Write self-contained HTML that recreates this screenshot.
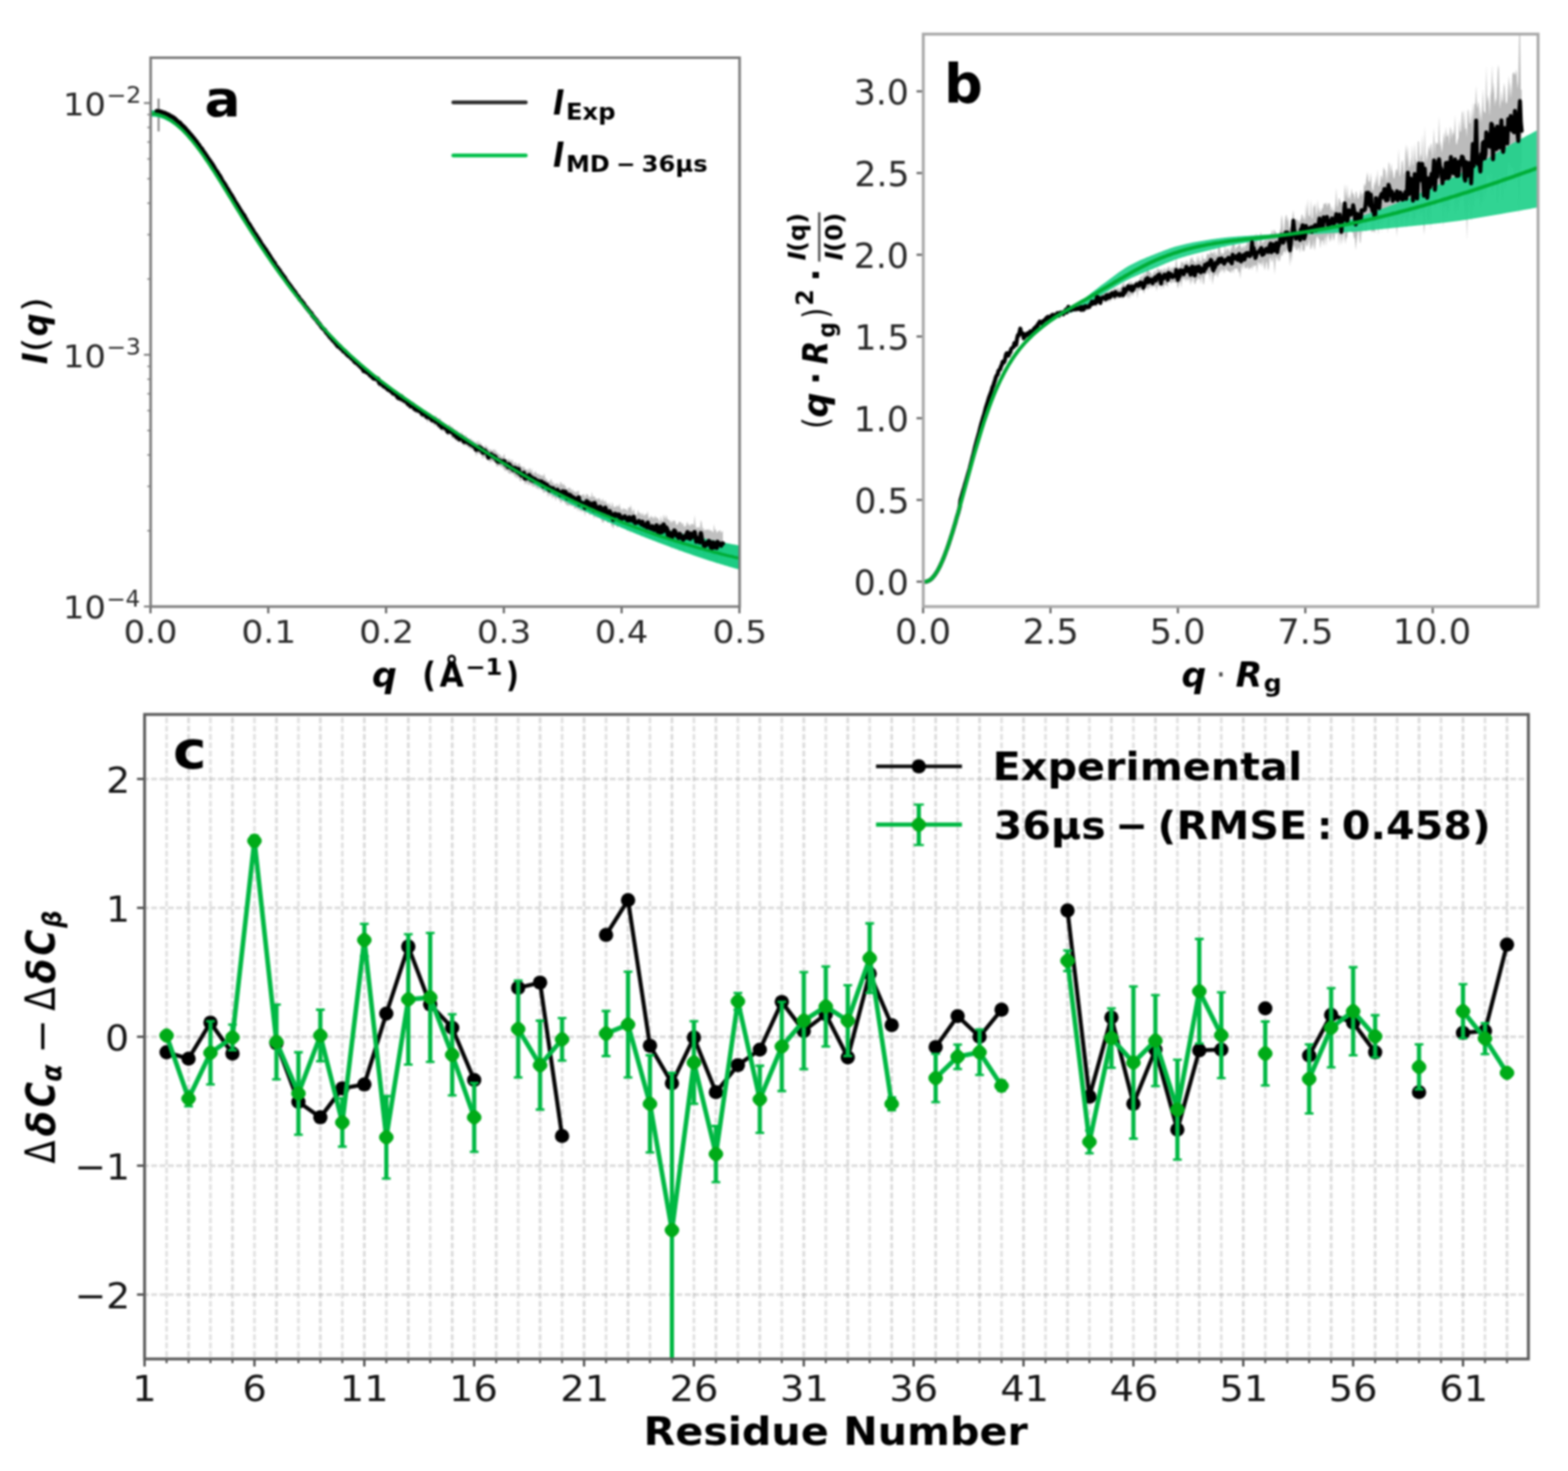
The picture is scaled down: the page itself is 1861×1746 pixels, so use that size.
<!DOCTYPE html>
<html lang="en"><head><meta charset="utf-8"><title>SAXS and NMR comparison</title>
<style>
html,body{margin:0;padding:0;background:#fff;}
body{width:1861px;height:1746px;overflow:hidden;}
svg{display:block;font-family:"DejaVu Sans","Liberation Sans",sans-serif;}
</style></head><body>
<svg width="1861" height="1746" viewBox="0 0 1861 1746">
<defs><filter id="soft" x="0" y="0" width="1861" height="1746" filterUnits="userSpaceOnUse" color-interpolation-filters="sRGB"><feGaussianBlur stdDeviation="1.25"/></filter></defs>
<rect width="1861" height="1746" fill="#fff"/>
<g filter="url(#soft)">
<rect width="1861" height="1746" fill="#fff"/>
<g id="panelA">
<clipPath id="clipA"><rect x="178.8" y="68.5" width="699.0" height="651.5"/></clipPath>
<g clip-path="url(#clipA)">
<path d="M186 130 L187.1 130.3 L188.1 130.5 L189.2 130.6 L190.2 131 L191.3 131.3 L192.3 131.9 L193.4 132.3 L194.4 132.7 L195.5 133 L196.5 133.6 L197.6 134 L198.6 134.5 L199.7 134.8 L200.7 135.6 L201.8 136.3 L202.8 136.6 L203.9 137.4 L204.9 137.8 L206 138.6 L207 139.2 L208.1 140.4 L209.1 141 L210.2 142.1 L211.2 143 L212.3 144.1 L213.3 144.3 L214.4 145.5 L215.4 146.9 L216.5 147.9 L217.5 148.6 L218.6 149.8 L219.6 150.7 L220.7 151.7 L221.7 153.1 L222.8 154.3 L223.8 155.5 L224.9 156.9 L225.9 158 L227 159.2 L228 160.5 L229.1 161.8 L230.1 162.7 L231.2 164.4 L232.2 165.7 L233.3 166.7 L234.3 168.6 L235.4 169.8 L236.4 171.2 L237.5 172.8 L238.5 174.1 L239.6 175.1 L240.6 176.9 L241.7 178.6 L242.7 179.6 L243.8 181.5 L244.8 183.2 L245.9 184.6 L246.9 185.8 L248 187.8 L249 189.4 L250.1 190.7 L251.1 192.6 L252.2 193.8 L253.2 195.5 L254.3 196.9 L255.3 198.7 L256.4 200.7 L257.4 202 L258.5 203.2 L259.5 205.6 L260.6 206.9 L261.6 208.8 L262.7 210.6 L263.7 212.5 L264.8 213.7 L265.8 215.8 L266.9 217.3 L267.9 219.2 L269 220.9 L270 222.7 L271.1 223.6 L272.1 225.8 L273.2 227.9 L274.2 229.3 L275.3 230.4 L276.3 233.1 L277.4 234.1 L278.4 236.3 L279.5 237.9 L280.5 239.9 L281.6 241.8 L282.6 242.8 L283.7 245.2 L284.7 246.4 L285.8 248.6 L286.8 250.1 L287.9 252.1 L288.9 253.4 L290 254.6 L291 256.8 L292.1 258 L293.1 260.7 L294.2 261.6 L295.2 263.1 L296.3 264.9 L297.3 267.1 L298.4 268.8 L299.4 270.1 L300.5 272.3 L301.5 274 L302.6 275.6 L303.6 277 L304.7 278.7 L305.7 280.6 L306.8 281.4 L307.8 283.7 L308.9 284.2 L309.9 287.1 L311 288.6 L312 290.1 L313.1 291.4 L314.1 292.9 L315.2 294.3 L316.2 295.7 L317.3 298.2 L318.3 299.1 L319.4 300.7 L320.4 302.2 L321.5 304.6 L322.5 305.7 L323.6 306.9 L324.6 308.3 L325.7 310 L326.7 312.1 L327.8 313.6 L328.8 315.2 L329.9 316.2 L330.9 317.6 L332 319.3 L333 321.4 L334.1 322.7 L335.1 324.3 L336.2 325.3 L337.2 326.1 L338.3 328.4 L339.3 329.8 L340.4 331.7 L341.4 333.4 L342.5 334.9 L343.5 335.3 L344.6 337.7 L345.6 338.3 L346.7 340.4 L347.7 341.7 L348.8 342.9 L349.8 344.4 L350.9 345.8 L351.9 346.8 L353 349 L354 350.4 L355.1 352.1 L356.1 353.6 L357.2 354.3 L358.2 356.3 L359.3 356.8 L360.3 358.3 L361.4 360.4 L362.4 361.7 L363.5 362.4 L364.5 364.3 L365.6 365.9 L366.6 367.1 L367.7 367.7 L368.7 368.5 L369.8 370.8 L370.8 371.9 L371.9 372.8 L372.9 375.2 L374 376.7 L375 377.3 L376.1 379 L377.1 380.1 L378.2 381.4 L379.2 382.6 L380.3 384.4 L381.3 385 L382.4 385 L383.4 387.5 L384.5 388.9 L385.5 389.4 L386.6 391.4 L387.6 392.3 L388.7 394.1 L389.7 395.7 L390.8 396.1 L391.8 397.4 L392.9 398.9 L393.9 398.7 L395 400.5 L396 402.1 L397.1 403.8 L398.1 404.9 L399.2 404.7 L400.2 406.9 L401.3 407.6 L402.3 408.5 L403.4 409.3 L404.4 410.7 L405.5 411.5 L406.5 412.8 L407.6 413.5 L408.6 414 L409.7 413.8 L410.7 417.2 L411.8 417.5 L412.8 418.9 L413.9 419.6 L414.9 420.4 L416 421.2 L417 420.8 L418.1 423 L419.1 423.6 L420.2 426.1 L421.2 426.8 L422.3 427 L423.3 428 L424.4 427.7 L425.4 429.8 L426.5 431 L427.5 432.5 L428.6 431.8 L429.6 434.1 L430.7 434.5 L431.7 435.2 L432.8 435.6 L433.8 435.9 L434.9 438.1 L435.9 439.4 L437 439.3 L438 439 L439.1 441.3 L440.1 442.9 L441.2 443.4 L442.2 443.8 L443.3 445.1 L444.3 446 L445.4 445.2 L446.4 446.9 L447.5 446.9 L448.5 445.5 L449.6 449.3 L450.6 450.3 L451.7 451 L452.7 451.5 L453.8 451.8 L454.8 453.2 L455.9 454.9 L456.9 454.7 L458 455.4 L459 454.9 L460.1 456 L461.1 458.7 L462.2 458.9 L463.2 459.5 L464.3 461.1 L465.3 459.8 L466.4 461.2 L467.4 461.4 L468.5 463.7 L469.5 463.3 L470.6 464.3 L471.6 465.6 L472.7 466.8 L473.7 466.9 L474.8 468.6 L475.8 468.7 L476.9 467.1 L477.9 467.8 L479 470.4 L480 471.4 L481.1 471.7 L482.1 473 L483.2 472.8 L484.2 474.5 L485.3 474.9 L486.3 476.2 L487.4 475.7 L488.4 475.9 L489.5 476.5 L490.5 476.5 L491.6 478.5 L492.6 479 L493.7 481.2 L494.7 480.3 L495.8 482.3 L496.8 482.2 L497.9 482.3 L498.9 483.9 L500 484.9 L501 485.2 L502.1 486 L503.1 487.1 L504.2 487.6 L505.2 487.3 L506.3 488.9 L507.3 490.2 L508.4 490.9 L509.4 490.5 L510.5 490.4 L511.5 491 L512.6 493.4 L513.6 492.9 L514.7 492.9 L515.7 494.5 L516.8 493 L517.8 494.1 L518.9 495.8 L519.9 496.9 L521 496.3 L522 496.6 L523.1 497.5 L524.1 499.7 L525.2 500.8 L526.2 500.5 L527.3 502 L528.3 503.7 L529.4 502.6 L530.4 504.1 L531.5 505.7 L532.5 504.8 L533.6 503.2 L534.6 505.5 L535.7 506.8 L536.7 506.1 L537.8 507.7 L538.8 509 L539.9 509.7 L540.9 510.2 L542 510.9 L543 510.4 L544.1 513.6 L545.1 513.5 L546.2 513.2 L547.2 514.6 L548.3 512.5 L549.3 516.5 L550.4 517.4 L551.4 517.2 L552.5 516 L553.5 517.4 L554.6 518.7 L555.6 520.4 L556.7 521 L557.7 520.3 L558.8 520.7 L559.8 522.1 L560.9 522.8 L561.9 522.9 L563 524.3 L564 524.9 L565.1 525.5 L566.1 523.1 L567.2 526.8 L568.2 522.4 L569.3 526.9 L570.3 525.5 L571.4 526.5 L572.4 529.7 L573.5 531 L574.5 531.6 L575.6 529.1 L576.6 528.1 L577.7 531.8 L578.7 529.6 L579.8 533.7 L580.8 533.6 L581.9 533 L582.9 533.6 L584 535.6 L585 534 L586.1 532.4 L587.1 535.9 L588.2 533 L589.2 537.5 L590.3 536.8 L591.3 538.5 L592.4 539.6 L593.4 539 L594.5 541.8 L595.5 541.7 L596.6 542.8 L597.6 540.8 L598.7 538.3 L599.7 544.9 L600.8 545.7 L601.8 544.5 L602.9 545.9 L603.9 544.8 L605 544.5 L606 548.7 L607.1 545.7 L608.1 545.3 L609.2 550 L610.2 549.3 L611.3 549.1 L612.3 548.5 L613.4 552.3 L614.4 550.4 L615.5 550.8 L616.5 549.2 L617.6 552.6 L618.6 553.3 L619.7 554.3 L620.7 555.3 L621.8 553.1 L622.8 556.1 L623.9 557 L624.9 557.1 L626 557.2 L627 559.4 L628.1 555.3 L629.1 556.3 L630.2 560.2 L631.2 555.4 L632.3 561.2 L633.3 562 L634.4 561.1 L635.4 558.7 L636.5 561.2 L637.5 562.5 L638.6 563 L639.6 562.1 L640.7 564.4 L641.7 563.3 L642.8 565 L643.8 564.1 L644.9 565.6 L645.9 561.3 L647 566.8 L648 568.8 L649.1 568.5 L650.1 571.3 L651.2 570.9 L652.2 572.1 L653.3 569.5 L654.3 568.3 L655.4 573.9 L656.4 571.2 L657.5 574.8 L658.5 575 L659.6 573.7 L660.6 574.9 L661.7 572.8 L662.7 575.8 L663.8 576.2 L664.8 573.1 L665.9 571.5 L666.9 575 L668 575.4 L669 573.7 L670.1 576.7 L671.1 576.2 L672.2 580 L673.2 580.6 L674.3 579.3 L675.3 578.4 L676.4 579.2 L677.4 580 L678.5 583.1 L679.5 579.9 L680.6 583 L681.6 583.2 L682.7 584.2 L683.7 583.6 L684.8 584 L685.8 582.7 L686.9 582 L687.9 588 L689 588.2 L690 588.1 L691.1 587.3 L692.1 586.8 L693.2 586.5 L694.2 590.6 L695.3 587.7 L696.3 585.9 L697.4 586.8 L698.4 588.2 L699.5 590.7 L700.5 589.8 L701.6 589.5 L702.6 583.6 L703.7 590.5 L704.7 588.9 L705.8 589.1 L706.8 592 L707.9 591.7 L708.9 592.3 L710 592.4 L711 590.5 L712.1 592.6 L713.1 594.5 L714.2 595 L715.2 591.3 L716.3 594.6 L717.3 596.4 L718.4 593.3 L719.4 596 L720.5 598.2 L721.5 597.3 L722.6 600.6 L723.6 595.7 L724.7 600.7 L725.7 601.7 L726.8 595.4 L727.8 600.2 L728.9 602.8 L729.9 601 L731 601.9 L732 599.4 L733.1 600.7 L734.1 601.7 L735.2 597.4 L736.2 602.7 L737.3 604.2 L738.3 606.1 L739.4 603.1 L740.4 603.7 L741.5 604.1 L742.5 604.7 L743.6 604.4 L744.6 607.4 L745.7 602.8 L746.7 601.5 L747.8 603.3 L748.8 598.9 L749.9 606.2 L750.9 608.2 L752 603.4 L753 607 L754.1 610.9 L755.1 611 L756.2 610.1 L757.2 604.5 L758.3 608.8 L759.3 608.4 L760.4 609.4 L761.4 612.3 L762.5 608.1 L763.5 610.7 L764.6 612.5 L765.6 611 L766.7 609.4 L767.7 611.2 L768.8 606.3 L769.8 615.1 L770.9 615.3 L771.9 613.4 L773 611.8 L774 614.4 L775.1 614 L776.1 616 L777.2 611.6 L778.2 614.8 L779.3 613.7 L780.3 615.3 L781.4 615.3 L782.4 618.7 L783.5 618.5 L784.5 612.1 L785.6 618.3 L786.6 619.2 L787.7 610.5 L788.7 613.7 L789.8 616.5 L790.8 610.8 L791.9 615.4 L792.9 616.5 L794 617.5 L795 617.5 L796.1 621.5 L797.1 617.2 L798.2 620.5 L799.2 617.8 L800.3 618 L801.3 618 L802.4 622.6 L803.4 623.1 L804.5 622 L805.5 620.3 L806.6 618.8 L807.6 620 L808.7 620.3 L809.7 623.1 L810.8 620.2 L811.8 625.5 L812.9 624.4 L813.9 625 L815 620.4 L816 619.5 L817.1 623.7 L818.1 622 L819.2 625.1 L820.2 621.7 L821.3 622 L822.3 622 L823.4 623.8 L824.4 611.3 L825.5 623.3 L826.5 627.3 L827.6 625.5 L828.6 627 L829.7 624.6 L830.7 628 L831.8 617.2 L832.8 619.8 L833.9 628.7 L834.9 625.9 L836 629.9 L837 629.4 L838.1 628.5 L839.1 628.3 L840.2 629.7 L841.2 627 L842.3 630.6 L843.3 629.1 L844.4 629.8 L845.4 631.2 L846.5 632 L847.5 621.7 L848.6 630.2 L849.6 627.7 L850.7 633.1 L851.7 630.9 L852.8 630.4 L853.8 630 L854.9 629 L855.9 632.8 L857 630.6 L858 631 L858 665.7 L857 657.1 L855.9 663.8 L854.9 658.6 L853.8 657.6 L852.8 656.5 L851.7 657.2 L850.7 669.5 L849.6 656.8 L848.6 661.9 L847.5 660.9 L846.5 662.7 L845.4 658.1 L844.4 662.3 L843.3 659.4 L842.3 654.1 L841.2 655.6 L840.2 659.8 L839.1 655.8 L838.1 656 L837 658.5 L836 659.2 L834.9 659.2 L833.9 653.7 L832.8 652 L831.8 651.7 L830.7 654.6 L829.7 654 L828.6 652.7 L827.6 657.7 L826.5 656.7 L825.5 650.9 L824.4 655.2 L823.4 654.4 L822.3 650.7 L821.3 650.9 L820.2 650.8 L819.2 657.9 L818.1 649.3 L817.1 648.4 L816 651.2 L815 648.3 L813.9 650 L812.9 649.2 L811.8 655 L810.8 652.4 L809.7 649.5 L808.7 651.4 L807.6 648.6 L806.6 645.6 L805.5 655.6 L804.5 646.1 L803.4 648.1 L802.4 649.1 L801.3 644.5 L800.3 650.4 L799.2 643.7 L798.2 643.7 L797.1 651.9 L796.1 647.8 L795 648.3 L794 643.1 L792.9 647.8 L791.9 641.4 L790.8 641.1 L789.8 641.4 L788.7 641.4 L787.7 641.9 L786.6 642.2 L785.6 644.5 L784.5 638.4 L783.5 643.4 L782.4 642.7 L781.4 644.8 L780.3 641.3 L779.3 637.8 L778.2 642.7 L777.2 641.3 L776.1 641 L775.1 635.6 L774 638.3 L773 637.3 L771.9 639.4 L770.9 639.7 L769.8 636 L768.8 634 L767.7 636.2 L766.7 636.8 L765.6 633.3 L764.6 633.4 L763.5 632.9 L762.5 632.7 L761.4 637.6 L760.4 632.4 L759.3 633.4 L758.3 629.9 L757.2 630 L756.2 631.2 L755.1 630.6 L754.1 632.8 L753 631.7 L752 631.5 L750.9 629.6 L749.9 629.5 L748.8 627.7 L747.8 633.3 L746.7 626.2 L745.7 626.6 L744.6 631.3 L743.6 625.8 L742.5 626.7 L741.5 627.5 L740.4 625.9 L739.4 626.3 L738.3 624.8 L737.3 626.9 L736.2 623.5 L735.2 622.4 L734.1 623.9 L733.1 626.5 L732 625.2 L731 620.3 L729.9 621.7 L728.9 623.4 L727.8 628 L726.8 624 L725.7 625 L724.7 618.8 L723.6 618.3 L722.6 620.3 L721.5 620.4 L720.5 620.2 L719.4 616.5 L718.4 617.4 L717.3 617.8 L716.3 620.8 L715.2 619.9 L714.2 619 L713.1 615.9 L712.1 614.3 L711 615.2 L710 613.1 L708.9 615.8 L707.9 612.1 L706.8 615 L705.8 612.1 L704.7 616 L703.7 609.5 L702.6 609.6 L701.6 610.4 L700.5 611.3 L699.5 611.5 L698.4 607.3 L697.4 609.3 L696.3 608.2 L695.3 607 L694.2 613.3 L693.2 605.9 L692.1 607.9 L691.1 605.1 L690 608.6 L689 605.3 L687.9 607.2 L686.9 602 L685.8 607.6 L684.8 602.7 L683.7 603.6 L682.7 603.8 L681.6 604.1 L680.6 599.4 L679.5 600.8 L678.5 601.3 L677.4 599.7 L676.4 599.9 L675.3 599.6 L674.3 600.6 L673.2 599.7 L672.2 599.5 L671.1 597.6 L670.1 596.7 L669 594.7 L668 594.8 L666.9 594.6 L665.9 597.8 L664.8 595 L663.8 593.4 L662.7 592.5 L661.7 590.5 L660.6 591.3 L659.6 594.7 L658.5 590.5 L657.5 590.3 L656.4 589 L655.4 592.7 L654.3 586.8 L653.3 587.6 L652.2 589.4 L651.2 584.8 L650.1 590.7 L649.1 584.2 L648 583.8 L647 584 L645.9 585.1 L644.9 584.9 L643.8 581.5 L642.8 582.5 L641.7 579.9 L640.7 579.5 L639.6 582 L638.6 578.3 L637.5 580.4 L636.5 579.8 L635.4 576.6 L634.4 578.2 L633.3 577.1 L632.3 578.4 L631.2 574.8 L630.2 576.9 L629.1 574 L628.1 575.1 L627 576.4 L626 572.1 L624.9 575.3 L623.9 572.5 L622.8 575.5 L621.8 570 L620.7 569.4 L619.7 567.5 L618.6 571.7 L617.6 571 L616.5 569.8 L615.5 566 L614.4 567.1 L613.4 568 L612.3 564.3 L611.3 567.3 L610.2 563 L609.2 564.1 L608.1 561.5 L607.1 561.8 L606 562.3 L605 562.6 L603.9 561.4 L602.9 561 L601.8 558.3 L600.8 558.2 L599.7 559.7 L598.7 557.4 L597.6 557 L596.6 554 L595.5 555 L594.5 553.8 L593.4 553.4 L592.4 551.7 L591.3 553.4 L590.3 554.1 L589.2 553.3 L588.2 549.7 L587.1 548.7 L586.1 548.2 L585 547.9 L584 547.2 L582.9 547.6 L581.9 549.5 L580.8 546.3 L579.8 547.8 L578.7 544.4 L577.7 545.7 L576.6 543.5 L575.6 542.3 L574.5 543.9 L573.5 542.2 L572.4 544.5 L571.4 539.6 L570.3 539.9 L569.3 538.3 L568.2 538.4 L567.2 538 L566.1 538.3 L565.1 542.1 L564 536.3 L563 535.6 L561.9 535.6 L560.9 533.1 L559.8 533 L558.8 533.9 L557.7 531.4 L556.7 531.6 L555.6 531.2 L554.6 529.3 L553.5 529.8 L552.5 527.6 L551.4 529.6 L550.4 528.6 L549.3 528.3 L548.3 525 L547.2 525.4 L546.2 524.5 L545.1 525.6 L544.1 524.4 L543 522.7 L542 524.4 L540.9 522.6 L539.9 521.2 L538.8 521.6 L537.8 519.4 L536.7 521 L535.7 518.4 L534.6 516.3 L533.6 515.7 L532.5 515.5 L531.5 518.2 L530.4 514.2 L529.4 513.6 L528.3 513.9 L527.3 511.5 L526.2 512.3 L525.2 510.8 L524.1 512.7 L523.1 508.9 L522 507.6 L521 508.2 L519.9 508.7 L518.9 506.1 L517.8 505.2 L516.8 504.3 L515.7 506.3 L514.7 502.8 L513.6 502 L512.6 503.4 L511.5 501.1 L510.5 500.8 L509.4 499.6 L508.4 499.5 L507.3 501.7 L506.3 498.5 L505.2 497.1 L504.2 497.2 L503.1 495.4 L502.1 495.7 L501 496.1 L500 494.5 L498.9 494.2 L497.9 491.2 L496.8 491.6 L495.8 490.2 L494.7 490.8 L493.7 490.5 L492.6 489.6 L491.6 489.5 L490.5 486.1 L489.5 488 L488.4 485.4 L487.4 485.6 L486.3 483.3 L485.3 483.1 L484.2 484 L483.2 482.6 L482.1 480.3 L481.1 480.6 L480 479.2 L479 479.9 L477.9 477.4 L476.9 478.3 L475.8 477.6 L474.8 477 L473.7 476.1 L472.7 475.7 L471.6 475.3 L470.6 472 L469.5 474.2 L468.5 470.5 L467.4 470.4 L466.4 471.1 L465.3 469.1 L464.3 468.6 L463.2 468.3 L462.2 466.5 L461.1 465.7 L460.1 465.3 L459 463.6 L458 464.2 L456.9 462 L455.9 462.6 L454.8 462.3 L453.8 459.4 L452.7 458.9 L451.7 459 L450.6 459.7 L449.6 459 L448.5 455.9 L447.5 456.1 L446.4 453.9 L445.4 453.2 L444.3 452.1 L443.3 452.1 L442.2 450.8 L441.2 450.4 L440.1 450.3 L439.1 449.3 L438 447 L437 445.8 L435.9 444.9 L434.9 444.6 L433.8 444 L432.8 442.9 L431.7 443 L430.7 441.1 L429.6 440.6 L428.6 439.1 L427.5 437.8 L426.5 438 L425.4 436.6 L424.4 435.7 L423.3 436 L422.3 433.5 L421.2 431.9 L420.2 432.1 L419.1 430.4 L418.1 430.3 L417 428.2 L416 428.2 L414.9 426.8 L413.9 424.9 L412.8 424 L411.8 423.3 L410.7 422 L409.7 420.9 L408.6 420.4 L407.6 419.7 L406.5 418.1 L405.5 416.5 L404.4 415.5 L403.4 414.9 L402.3 415.3 L401.3 413.9 L400.2 412.1 L399.2 410.5 L398.1 409.7 L397.1 408.2 L396 406.8 L395 406.4 L393.9 404.3 L392.9 403.6 L391.8 402.2 L390.8 401.4 L389.7 399.2 L388.7 398.1 L387.6 397.6 L386.6 396.4 L385.5 394.8 L384.5 394 L383.4 391.6 L382.4 390.8 L381.3 390.8 L380.3 387.4 L379.2 386.9 L378.2 384.9 L377.1 384 L376.1 382.6 L375 381.9 L374 379.6 L372.9 378.4 L371.9 377 L370.8 376.7 L369.8 375.4 L368.7 374.8 L367.7 373.5 L366.6 370.7 L365.6 370 L364.5 368.5 L363.5 367.2 L362.4 365.1 L361.4 364.1 L360.3 363.2 L359.3 361.1 L358.2 359.9 L357.2 358.4 L356.1 357.9 L355.1 355.4 L354 353.7 L353 352.8 L351.9 351.4 L350.9 350.3 L349.8 348.2 L348.8 347.6 L347.7 345.3 L346.7 344 L345.6 342.5 L344.6 340.9 L343.5 339.4 L342.5 338.3 L341.4 336.8 L340.4 335.3 L339.3 334 L338.3 332.1 L337.2 331.7 L336.2 329.6 L335.1 328 L334.1 326.4 L333 325 L332 322.8 L330.9 321.6 L329.9 320.5 L328.8 318.3 L327.8 317.9 L326.7 315.4 L325.7 314.1 L324.6 312.5 L323.6 310.7 L322.5 309.1 L321.5 307.9 L320.4 305.6 L319.4 304.8 L318.3 303.4 L317.3 300.9 L316.2 299.3 L315.2 298.1 L314.1 296.1 L313.1 295.3 L312 294 L311 291.5 L309.9 290.4 L308.9 288 L307.8 287.1 L306.8 285.5 L305.7 283.8 L304.7 281.9 L303.6 280.7 L302.6 278.7 L301.5 278 L300.5 276 L299.4 273.5 L298.4 272 L297.3 270.4 L296.3 268.2 L295.2 266.9 L294.2 266 L293.1 263.5 L292.1 261.9 L291 260.8 L290 258.9 L288.9 256.9 L287.9 254.9 L286.8 252.9 L285.8 252.1 L284.7 249.7 L283.7 248.1 L282.6 246 L281.6 245.1 L280.5 242.7 L279.5 241.2 L278.4 239.5 L277.4 237.4 L276.3 235.7 L275.3 234.1 L274.2 232.5 L273.2 230.4 L272.1 228.8 L271.1 227.3 L270 225.5 L269 223.9 L267.9 222.2 L266.9 220.1 L265.8 218.3 L264.8 217.1 L263.7 215.4 L262.7 213.6 L261.6 212 L260.6 209.9 L259.5 208.3 L258.5 206.9 L257.4 205.1 L256.4 204 L255.3 201.8 L254.3 200.1 L253.2 198.5 L252.2 196.7 L251.1 194.9 L250.1 193.6 L249 191.9 L248 190.2 L246.9 189.1 L245.9 187.4 L244.8 185.5 L243.8 184.1 L242.7 182.6 L241.7 181.3 L240.6 179.6 L239.6 178 L238.5 177 L237.5 175.6 L236.4 174.1 L235.4 172.4 L234.3 171.2 L233.3 169.4 L232.2 168.3 L231.2 166.9 L230.1 165.5 L229.1 164.2 L228 162.7 L227 161.5 L225.9 160.4 L224.9 159.2 L223.8 157.9 L222.8 157 L221.7 155.7 L220.7 154.4 L219.6 153.3 L218.6 152.3 L217.5 151.3 L216.5 150.1 L215.4 149 L214.4 148.1 L213.3 147.1 L212.3 146.2 L211.2 145.3 L210.2 144.5 L209.1 143.6 L208.1 142.6 L207 141.9 L206 141.1 L204.9 140.3 L203.9 139.6 L202.8 138.9 L201.8 138.5 L200.7 137.8 L199.7 137.1 L198.6 136.6 L197.6 136.1 L196.5 135.7 L195.5 135.2 L194.4 134.9 L193.4 135 L192.3 134.4 L191.3 134.3 L190.2 134.1 L189.2 133.9 L188.1 133.8 L187.1 133.8 L186 133.7Z" fill="#b4b4b4" stroke="none" opacity="0.85"/>
<line x1="188.2" y1="117" x2="188.2" y2="156" stroke="#8c8c8c" stroke-width="2.4" />
<path d="M178.8 130.6 L179.8 130.7 L180.8 130.8 L181.8 130.9 L182.8 131.1 L183.8 131.3 L184.8 131.5 L185.8 131.7 L186.8 132 L187.8 132.3 L188.8 132.6 L189.8 133 L190.8 133.4 L191.8 133.8 L192.8 134.2 L193.8 134.7 L194.8 135.2 L195.8 135.7 L196.8 136.2 L197.8 136.8 L198.8 137.4 L199.8 138 L200.8 138.7 L201.8 139.3 L202.8 140 L203.8 140.7 L204.8 141.5 L205.8 142.3 L206.8 143 L207.8 143.9 L208.8 144.7 L209.8 145.6 L210.8 146.5 L211.8 147.4 L212.8 148.3 L213.8 149.3 L214.8 150.2 L215.8 151.2 L216.8 152.2 L217.8 153.3 L218.8 154.4 L219.8 155.4 L220.8 156.5 L221.8 157.7 L222.8 158.8 L223.8 160 L224.8 161.1 L225.8 162.3 L226.8 163.6 L227.8 164.8 L228.8 166 L229.8 167.3 L230.8 168.6 L231.8 169.9 L232.8 171.2 L233.8 172.6 L234.8 173.9 L235.8 175.3 L236.8 176.7 L237.8 178 L238.8 179.5 L239.8 180.9 L240.8 182.3 L241.8 183.8 L242.8 185.2 L243.8 186.7 L244.8 188.2 L245.8 189.7 L246.8 191.2 L247.8 192.7 L248.8 194.2 L249.8 195.7 L250.8 197.3 L251.8 198.8 L252.8 200.4 L253.8 201.9 L254.8 203.5 L255.8 205.1 L256.8 206.6 L257.8 208.2 L258.8 209.8 L259.8 211.4 L260.8 213 L261.8 214.6 L262.8 216.2 L263.8 217.8 L264.8 219.5 L265.8 221.1 L266.8 222.7 L267.8 224.4 L268.8 226 L269.8 227.6 L270.8 229.3 L271.8 230.9 L272.8 232.5 L273.8 234.2 L274.8 235.8 L275.8 237.5 L276.8 239.1 L277.8 240.7 L278.8 242.4 L279.8 244 L280.8 245.7 L281.8 247.3 L282.8 248.9 L283.8 250.5 L284.8 252.2 L285.8 253.8 L286.8 255.4 L287.8 257 L288.8 258.6 L289.8 260.2 L290.8 261.8 L291.8 263.4 L292.8 265 L293.8 266.6 L294.8 268.2 L295.8 269.7 L296.8 271.3 L297.8 272.9 L298.8 274.4 L299.8 276 L300.8 277.5 L301.8 279 L302.8 280.6 L303.8 282.1 L304.8 283.6 L305.8 285.2 L306.8 286.7 L307.8 288.2 L308.8 289.7 L309.8 291.2 L310.8 292.7 L311.8 294.2 L312.8 295.7 L313.8 297.2 L314.8 298.6 L315.8 300.1 L316.8 301.6 L317.8 303 L318.8 304.5 L319.8 306 L320.8 307.4 L321.8 308.8 L322.8 310.3 L323.8 311.7 L324.8 313.1 L325.8 314.6 L326.8 316 L327.8 317.4 L328.8 318.8 L329.8 320.2 L330.8 321.6 L331.8 323 L332.8 324.4 L333.8 325.7 L334.8 327.1 L335.8 328.5 L336.8 329.8 L337.8 331.2 L338.8 332.6 L339.8 333.9 L340.8 335.3 L341.8 336.6 L342.8 337.9 L343.8 339.2 L344.8 340.6 L345.8 341.9 L346.8 343.2 L347.8 344.5 L348.8 345.8 L349.8 347.1 L350.8 348.4 L351.8 349.7 L352.8 350.9 L353.8 352.2 L354.8 353.5 L355.8 354.7 L356.8 356 L357.8 357.3 L358.8 358.5 L359.8 359.7 L360.8 361 L361.8 362.2 L362.8 363.4 L363.8 364.6 L364.8 365.8 L365.8 367.1 L366.8 368.3 L367.8 369.5 L368.8 370.6 L369.8 371.8 L370.8 373 L371.8 374.2 L372.8 375.3 L373.8 376.5 L374.8 377.7 L375.8 378.8 L376.8 380 L377.8 381.1 L378.8 382.2 L379.8 383.4 L380.8 384.5 L381.8 385.6 L382.8 386.7 L383.8 387.8 L384.8 388.9 L385.8 390 L386.8 391.1 L387.8 392.2 L388.8 393.2 L389.8 394.3 L390.8 395.4 L391.8 396.4 L392.8 397.5 L393.8 398.5 L394.8 399.6 L395.8 400.6 L396.8 401.6 L397.8 402.7 L398.8 403.7 L399.8 404.7 L400.8 405.7 L401.8 406.7 L402.8 407.7 L403.8 408.7 L404.8 409.6 L405.8 410.6 L406.8 411.6 L407.8 412.6 L408.8 413.5 L409.8 414.5 L410.8 415.4 L411.8 416.4 L412.8 417.3 L413.8 418.2 L414.8 419.2 L415.8 420.1 L416.8 421 L417.8 421.9 L418.8 422.8 L419.8 423.7 L420.8 424.6 L421.8 425.5 L422.8 426.4 L423.8 427.3 L424.8 428.2 L425.8 429 L426.8 429.9 L427.8 430.8 L428.8 431.6 L429.8 432.5 L430.8 433.3 L431.8 434.2 L432.8 435 L433.8 435.8 L434.8 436.7 L435.8 437.5 L436.8 438.3 L437.8 439.2 L438.8 440 L439.8 440.8 L440.8 441.6 L441.8 442.4 L442.8 443.2 L443.8 444 L444.8 444.8 L445.8 445.6 L446.8 446.4 L447.8 447.1 L448.8 447.9 L449.8 448.7 L450.8 449.5 L451.8 450.2 L452.8 451 L453.8 451.8 L454.8 452.5 L455.8 453.3 L456.8 454 L457.8 454.8 L458.8 455.5 L459.8 456.3 L460.8 457 L461.8 457.8 L462.8 458.5 L463.8 459.2 L464.8 460 L465.8 460.7 L466.8 461.4 L467.8 462.1 L468.8 462.9 L469.8 463.6 L470.8 464.3 L471.8 465 L472.8 465.7 L473.8 466.4 L474.8 467.1 L475.8 467.8 L476.8 468.5 L477.8 469.2 L478.8 469.9 L479.8 470.6 L480.8 471.3 L481.8 472 L482.8 472.7 L483.8 473.4 L484.8 474.1 L485.8 474.8 L486.8 475.4 L487.8 476.1 L488.8 476.8 L489.8 477.5 L490.8 478.2 L491.8 478.8 L492.8 479.5 L493.8 480.2 L494.8 480.9 L495.8 481.5 L496.8 482.2 L497.8 482.9 L498.8 483.6 L499.8 484.2 L500.8 484.9 L501.8 485.6 L502.8 486.2 L503.8 486.9 L504.8 487.6 L505.8 488.2 L506.8 488.9 L507.8 489.5 L508.8 490.2 L509.8 490.9 L510.8 491.5 L511.8 492.2 L512.8 492.9 L513.8 493.5 L514.8 494.2 L515.8 494.8 L516.8 495.5 L517.8 496.2 L518.8 496.8 L519.8 497.5 L520.8 498.2 L521.8 498.8 L522.8 499.5 L523.8 500.1 L524.8 500.8 L525.8 501.5 L526.8 502.1 L527.8 502.8 L528.8 503.4 L529.8 504.1 L530.8 504.8 L531.8 505.4 L532.8 506.1 L533.8 506.7 L534.8 507.4 L535.8 508.1 L536.8 508.7 L537.8 509.4 L538.8 510 L539.8 510.7 L540.8 511.3 L541.8 512 L542.8 512.6 L543.8 513.3 L544.8 514 L545.8 514.6 L546.8 515.3 L547.8 515.9 L548.8 516.6 L549.8 517.2 L550.8 517.9 L551.8 518.5 L552.8 519.2 L553.8 519.8 L554.8 520.5 L555.8 521.1 L556.8 521.8 L557.8 522.4 L558.8 523 L559.8 523.7 L560.8 524.3 L561.8 525 L562.8 525.6 L563.8 526.3 L564.8 526.9 L565.8 527.5 L566.8 528.2 L567.8 528.8 L568.8 529.5 L569.8 530.1 L570.8 530.7 L571.8 531.4 L572.8 532 L573.8 532.6 L574.8 533.2 L575.8 533.9 L576.8 534.5 L577.8 535.1 L578.8 535.8 L579.8 536.4 L580.8 537 L581.8 537.6 L582.8 538.3 L583.8 538.9 L584.8 539.5 L585.8 540.1 L586.8 540.7 L587.8 541.3 L588.8 541.9 L589.8 542.6 L590.8 543.2 L591.8 543.8 L592.8 544.4 L593.8 545 L594.8 545.6 L595.8 546.2 L596.8 546.8 L597.8 547.4 L598.8 548 L599.8 548.6 L600.8 549.2 L601.8 549.8 L602.8 550.4 L603.8 551 L604.8 551.5 L605.8 552.1 L606.8 552.7 L607.8 553.2 L608.8 553.8 L609.8 554.4 L610.8 554.9 L611.8 555.5 L612.8 556 L613.8 556.6 L614.8 557.1 L615.8 557.7 L616.8 558.2 L617.8 558.7 L618.8 559.3 L619.8 559.8 L620.8 560.3 L621.8 560.8 L622.8 561.4 L623.8 561.9 L624.8 562.4 L625.8 562.9 L626.8 563.4 L627.8 563.9 L628.8 564.5 L629.8 565 L630.8 565.5 L631.8 566 L632.8 566.5 L633.8 567 L634.8 567.5 L635.8 568 L636.8 568.5 L637.8 569 L638.8 569.5 L639.8 570 L640.8 570.5 L641.8 571 L642.8 571.5 L643.8 572 L644.8 572.5 L645.8 573 L646.8 573.5 L647.8 574 L648.8 574.5 L649.8 575 L650.8 575.5 L651.8 576 L652.8 576.4 L653.8 576.9 L654.8 577.4 L655.8 577.9 L656.8 578.4 L657.8 578.8 L658.8 579.3 L659.8 579.8 L660.8 580.3 L661.8 580.7 L662.8 581.2 L663.8 581.7 L664.8 582.1 L665.8 582.6 L666.8 583.1 L667.8 583.5 L668.8 584 L669.8 584.4 L670.8 584.9 L671.8 585.4 L672.8 585.8 L673.8 586.3 L674.8 586.7 L675.8 587.2 L676.8 587.6 L677.8 588.1 L678.8 588.5 L679.8 589 L680.8 589.4 L681.8 589.8 L682.8 590.3 L683.8 590.7 L684.8 591.1 L685.8 591.6 L686.8 592 L687.8 592.4 L688.8 592.9 L689.8 593.3 L690.8 593.7 L691.8 594.1 L692.8 594.6 L693.8 595 L694.8 595.4 L695.8 595.8 L696.8 596.2 L697.8 596.7 L698.8 597.1 L699.8 597.5 L700.8 597.9 L701.8 598.3 L702.8 598.7 L703.8 599.1 L704.8 599.5 L705.8 599.9 L706.8 600.3 L707.8 600.7 L708.8 601.1 L709.8 601.5 L710.8 601.9 L711.8 602.3 L712.8 602.7 L713.8 603.1 L714.8 603.5 L715.8 603.8 L716.8 604.2 L717.8 604.6 L718.8 605 L719.8 605.4 L720.8 605.8 L721.8 606.1 L722.8 606.5 L723.8 606.9 L724.8 607.3 L725.8 607.6 L726.8 608 L727.8 608.4 L728.8 608.8 L729.8 609.1 L730.8 609.5 L731.8 609.9 L732.8 610.2 L733.8 610.6 L734.8 610.9 L735.8 611.3 L736.8 611.7 L737.8 612 L738.8 612.4 L739.8 612.7 L740.8 613.1 L741.8 613.4 L742.8 613.8 L743.8 614.1 L744.8 614.5 L745.8 614.8 L746.8 615.2 L747.8 615.5 L748.8 615.8 L749.8 616.2 L750.8 616.5 L751.8 616.8 L752.8 617.2 L753.8 617.5 L754.8 617.8 L755.8 618.2 L756.8 618.5 L757.8 618.8 L758.8 619.1 L759.8 619.5 L760.8 619.8 L761.8 620.1 L762.8 620.4 L763.8 620.7 L764.8 621.1 L765.8 621.4 L766.8 621.7 L767.8 622 L768.8 622.3 L769.8 622.6 L770.8 622.9 L771.8 623.2 L772.8 623.5 L773.8 623.8 L774.8 624.1 L775.8 624.4 L776.8 624.7 L777.8 625 L778.8 625.3 L779.8 625.6 L780.8 625.9 L781.8 626.2 L782.8 626.4 L783.8 626.7 L784.8 627 L785.8 627.3 L786.8 627.6 L787.8 627.8 L788.8 628.1 L789.8 628.4 L790.8 628.6 L791.8 628.9 L792.8 629.2 L793.8 629.4 L794.8 629.7 L795.8 630 L796.8 630.2 L797.8 630.5 L798.8 630.7 L799.8 631 L800.8 631.2 L801.8 631.5 L802.8 631.7 L803.8 632 L804.8 632.2 L805.8 632.5 L806.8 632.7 L807.8 633 L808.8 633.2 L809.8 633.4 L810.8 633.7 L811.8 633.9 L812.8 634.1 L813.8 634.4 L814.8 634.6 L815.8 634.8 L816.8 635.1 L817.8 635.3 L818.8 635.5 L819.8 635.7 L820.8 636 L821.8 636.2 L822.8 636.4 L823.8 636.6 L824.8 636.9 L825.8 637.1 L826.8 637.3 L827.8 637.5 L828.8 637.7 L829.8 638 L830.8 638.2 L831.8 638.4 L832.8 638.6 L833.8 638.8 L834.8 639 L835.8 639.3 L836.8 639.5 L837.8 639.7 L838.8 639.9 L839.8 640.1 L840.8 640.3 L841.8 640.5 L842.8 640.7 L843.8 641 L844.8 641.2 L845.8 641.4 L846.8 641.6 L847.8 641.8 L848.8 642 L849.8 642.2 L850.8 642.4 L851.8 642.6 L852.8 642.8 L853.8 643 L854.8 643.2 L855.8 643.4 L856.8 643.6 L857.8 643.8 L858.8 644 L859.8 644.2 L860.8 644.4 L861.8 644.6 L862.8 644.8 L863.8 645 L864.8 645.2 L865.8 645.3 L866.8 645.5 L867.8 645.7 L868.8 645.9 L869.8 646.1 L870.8 646.3 L871.8 646.5 L872.8 646.6 L873.8 646.8 L874.8 647 L875.8 647.2 L876.8 647.4 L877.8 647.6 L877.8 676.1 L876.8 675.8 L875.8 675.6 L874.8 675.3 L873.8 675 L872.8 674.7 L871.8 674.4 L870.8 674.1 L869.8 673.9 L868.8 673.6 L867.8 673.3 L866.8 673 L865.8 672.7 L864.8 672.4 L863.8 672.1 L862.8 671.8 L861.8 671.5 L860.8 671.2 L859.8 670.9 L858.8 670.6 L857.8 670.3 L856.8 670 L855.8 669.7 L854.8 669.4 L853.8 669.1 L852.8 668.8 L851.8 668.5 L850.8 668.2 L849.8 667.9 L848.8 667.6 L847.8 667.3 L846.8 666.9 L845.8 666.6 L844.8 666.3 L843.8 666 L842.8 665.7 L841.8 665.4 L840.8 665 L839.8 664.7 L838.8 664.4 L837.8 664.1 L836.8 663.7 L835.8 663.4 L834.8 663.1 L833.8 662.8 L832.8 662.4 L831.8 662.1 L830.8 661.8 L829.8 661.4 L828.8 661.1 L827.8 660.8 L826.8 660.4 L825.8 660.1 L824.8 659.7 L823.8 659.4 L822.8 659 L821.8 658.7 L820.8 658.3 L819.8 658 L818.8 657.6 L817.8 657.3 L816.8 656.9 L815.8 656.6 L814.8 656.2 L813.8 655.9 L812.8 655.5 L811.8 655.2 L810.8 654.8 L809.8 654.4 L808.8 654.1 L807.8 653.7 L806.8 653.4 L805.8 653 L804.8 652.6 L803.8 652.3 L802.8 651.9 L801.8 651.5 L800.8 651.2 L799.8 650.8 L798.8 650.4 L797.8 650.1 L796.8 649.7 L795.8 649.3 L794.8 648.9 L793.8 648.6 L792.8 648.2 L791.8 647.8 L790.8 647.5 L789.8 647.1 L788.8 646.7 L787.8 646.3 L786.8 645.9 L785.8 645.6 L784.8 645.2 L783.8 644.8 L782.8 644.4 L781.8 644.1 L780.8 643.7 L779.8 643.3 L778.8 642.9 L777.8 642.5 L776.8 642.1 L775.8 641.8 L774.8 641.4 L773.8 641 L772.8 640.6 L771.8 640.2 L770.8 639.8 L769.8 639.4 L768.8 639.1 L767.8 638.7 L766.8 638.3 L765.8 637.9 L764.8 637.5 L763.8 637.1 L762.8 636.7 L761.8 636.3 L760.8 635.9 L759.8 635.5 L758.8 635.1 L757.8 634.7 L756.8 634.3 L755.8 633.9 L754.8 633.5 L753.8 633.1 L752.8 632.7 L751.8 632.3 L750.8 631.8 L749.8 631.4 L748.8 631 L747.8 630.6 L746.8 630.2 L745.8 629.8 L744.8 629.4 L743.8 628.9 L742.8 628.5 L741.8 628.1 L740.8 627.7 L739.8 627.3 L738.8 626.8 L737.8 626.4 L736.8 626 L735.8 625.6 L734.8 625.1 L733.8 624.7 L732.8 624.3 L731.8 623.8 L730.8 623.4 L729.8 623 L728.8 622.5 L727.8 622.1 L726.8 621.7 L725.8 621.2 L724.8 620.8 L723.8 620.3 L722.8 619.9 L721.8 619.4 L720.8 619 L719.8 618.6 L718.8 618.1 L717.8 617.7 L716.8 617.2 L715.8 616.7 L714.8 616.3 L713.8 615.8 L712.8 615.4 L711.8 614.9 L710.8 614.5 L709.8 614 L708.8 613.5 L707.8 613.1 L706.8 612.6 L705.8 612.1 L704.8 611.7 L703.8 611.2 L702.8 610.7 L701.8 610.2 L700.8 609.8 L699.8 609.3 L698.8 608.8 L697.8 608.3 L696.8 607.8 L695.8 607.4 L694.8 606.9 L693.8 606.4 L692.8 605.9 L691.8 605.4 L690.8 604.9 L689.8 604.4 L688.8 603.9 L687.8 603.4 L686.8 602.9 L685.8 602.4 L684.8 601.9 L683.8 601.4 L682.8 600.9 L681.8 600.4 L680.8 599.9 L679.8 599.4 L678.8 598.9 L677.8 598.4 L676.8 597.9 L675.8 597.4 L674.8 596.9 L673.8 596.4 L672.8 595.8 L671.8 595.3 L670.8 594.8 L669.8 594.3 L668.8 593.8 L667.8 593.2 L666.8 592.7 L665.8 592.2 L664.8 591.7 L663.8 591.1 L662.8 590.6 L661.8 590.1 L660.8 589.5 L659.8 589 L658.8 588.5 L657.8 587.9 L656.8 587.4 L655.8 586.8 L654.8 586.3 L653.8 585.7 L652.8 585.2 L651.8 584.6 L650.8 584.1 L649.8 583.5 L648.8 583 L647.8 582.4 L646.8 581.9 L645.8 581.3 L644.8 580.7 L643.8 580.2 L642.8 579.6 L641.8 579 L640.8 578.5 L639.8 577.9 L638.8 577.3 L637.8 576.7 L636.8 576.1 L635.8 575.6 L634.8 575 L633.8 574.4 L632.8 573.8 L631.8 573.2 L630.8 572.6 L629.8 572 L628.8 571.4 L627.8 570.8 L626.8 570.2 L625.8 569.6 L624.8 569 L623.8 568.4 L622.8 567.8 L621.8 567.2 L620.8 566.5 L619.8 565.9 L618.8 565.3 L617.8 564.7 L616.8 564.1 L615.8 563.5 L614.8 562.8 L613.8 562.2 L612.8 561.6 L611.8 561 L610.8 560.4 L609.8 559.7 L608.8 559.1 L607.8 558.5 L606.8 557.9 L605.8 557.2 L604.8 556.6 L603.8 556 L602.8 555.4 L601.8 554.8 L600.8 554.1 L599.8 553.5 L598.8 552.9 L597.8 552.3 L596.8 551.7 L595.8 551 L594.8 550.4 L593.8 549.8 L592.8 549.2 L591.8 548.5 L590.8 547.9 L589.8 547.3 L588.8 546.6 L587.8 546 L586.8 545.4 L585.8 544.7 L584.8 544.1 L583.8 543.5 L582.8 542.8 L581.8 542.2 L580.8 541.6 L579.8 540.9 L578.8 540.3 L577.8 539.6 L576.8 539 L575.8 538.3 L574.8 537.7 L573.8 537 L572.8 536.4 L571.8 535.7 L570.8 535.1 L569.8 534.4 L568.8 533.8 L567.8 533.1 L566.8 532.5 L565.8 531.8 L564.8 531.2 L563.8 530.5 L562.8 529.9 L561.8 529.2 L560.8 528.5 L559.8 527.9 L558.8 527.2 L557.8 526.6 L556.8 525.9 L555.8 525.2 L554.8 524.6 L553.8 523.9 L552.8 523.2 L551.8 522.6 L550.8 521.9 L549.8 521.2 L548.8 520.6 L547.8 519.9 L546.8 519.2 L545.8 518.6 L544.8 517.9 L543.8 517.2 L542.8 516.6 L541.8 515.9 L540.8 515.2 L539.8 514.6 L538.8 513.9 L537.8 513.2 L536.8 512.5 L535.8 511.9 L534.8 511.2 L533.8 510.5 L532.8 509.9 L531.8 509.2 L530.8 508.5 L529.8 507.8 L528.8 507.2 L527.8 506.5 L526.8 505.8 L525.8 505.2 L524.8 504.5 L523.8 503.8 L522.8 503.1 L521.8 502.5 L520.8 501.8 L519.8 501.1 L518.8 500.4 L517.8 499.8 L516.8 499.1 L515.8 498.4 L514.8 497.8 L513.8 497.1 L512.8 496.4 L511.8 495.7 L510.8 495.1 L509.8 494.4 L508.8 493.7 L507.8 493 L506.8 492.4 L505.8 491.7 L504.8 491 L503.8 490.3 L502.8 489.7 L501.8 489 L500.8 488.3 L499.8 487.6 L498.8 487 L497.8 486.3 L496.8 485.6 L495.8 484.9 L494.8 484.2 L493.8 483.6 L492.8 482.9 L491.8 482.2 L490.8 481.5 L489.8 480.8 L488.8 480.1 L487.8 479.4 L486.8 478.7 L485.8 478.1 L484.8 477.4 L483.8 476.7 L482.8 476 L481.8 475.3 L480.8 474.6 L479.8 473.9 L478.8 473.2 L477.8 472.5 L476.8 471.8 L475.8 471 L474.8 470.3 L473.8 469.6 L472.8 468.9 L471.8 468.2 L470.8 467.5 L469.8 466.7 L468.8 466 L467.8 465.3 L466.8 464.6 L465.8 463.8 L464.8 463.1 L463.8 462.4 L462.8 461.6 L461.8 460.9 L460.8 460.1 L459.8 459.4 L458.8 458.6 L457.8 457.9 L456.8 457.1 L455.8 456.4 L454.8 455.6 L453.8 454.9 L452.8 454.1 L451.8 453.3 L450.8 452.5 L449.8 451.8 L448.8 451 L447.8 450.2 L446.8 449.4 L445.8 448.6 L444.8 447.8 L443.8 447 L442.8 446.2 L441.8 445.4 L440.8 444.6 L439.8 443.8 L438.8 443 L437.8 442.2 L436.8 441.3 L435.8 440.5 L434.8 439.7 L433.8 438.9 L432.8 438 L431.8 437.2 L430.8 436.3 L429.8 435.5 L428.8 434.6 L427.8 433.7 L426.8 432.9 L425.8 432 L424.8 431.1 L423.8 430.3 L422.8 429.4 L421.8 428.5 L420.8 427.6 L419.8 426.7 L418.8 425.8 L417.8 424.9 L416.8 424 L415.8 423 L414.8 422.1 L413.8 421.2 L412.8 420.3 L411.8 419.3 L410.8 418.4 L409.8 417.4 L408.8 416.5 L407.8 415.5 L406.8 414.6 L405.8 413.6 L404.8 412.6 L403.8 411.6 L402.8 410.6 L401.8 409.6 L400.8 408.6 L399.8 407.6 L398.8 406.6 L397.8 405.6 L396.8 404.6 L395.8 403.6 L394.8 402.5 L393.8 401.5 L392.8 400.4 L391.8 399.4 L390.8 398.3 L389.8 397.3 L388.8 396.2 L387.8 395.1 L386.8 394 L385.8 393 L384.8 391.9 L383.8 390.8 L382.8 389.7 L381.8 388.5 L380.8 387.4 L379.8 386.3 L378.8 385.2 L377.8 384 L376.8 382.9 L375.8 381.8 L374.8 380.6 L373.8 379.5 L372.8 378.3 L371.8 377.1 L370.8 376 L369.8 374.8 L368.8 373.6 L367.8 372.4 L366.8 371.2 L365.8 370 L364.8 368.8 L363.8 367.6 L362.8 366.4 L361.8 365.2 L360.8 363.9 L359.8 362.7 L358.8 361.5 L357.8 360.2 L356.8 359 L355.8 357.7 L354.8 356.4 L353.8 355.2 L352.8 353.9 L351.8 352.6 L350.8 351.3 L349.8 350 L348.8 348.8 L347.8 347.5 L346.8 346.1 L345.8 344.8 L344.8 343.5 L343.8 342.2 L342.8 340.9 L341.8 339.5 L340.8 338.2 L339.8 336.9 L338.8 335.5 L337.8 334.2 L336.8 332.8 L335.8 331.4 L334.8 330.1 L333.8 328.7 L332.8 327.3 L331.8 325.9 L330.8 324.5 L329.8 323.1 L328.8 321.7 L327.8 320.3 L326.8 318.9 L325.8 317.5 L324.8 316.1 L323.8 314.7 L322.8 313.2 L321.8 311.8 L320.8 310.4 L319.8 308.9 L318.8 307.5 L317.8 306 L316.8 304.5 L315.8 303.1 L314.8 301.6 L313.8 300.1 L312.8 298.6 L311.8 297.2 L310.8 295.7 L309.8 294.2 L308.8 292.7 L307.8 291.2 L306.8 289.6 L305.8 288.1 L304.8 286.6 L303.8 285.1 L302.8 283.5 L301.8 282 L300.8 280.5 L299.8 278.9 L298.8 277.4 L297.8 275.8 L296.8 274.2 L295.8 272.7 L294.8 271.1 L293.8 269.5 L292.8 267.9 L291.8 266.4 L290.8 264.8 L289.8 263.2 L288.8 261.6 L287.8 260 L286.8 258.4 L285.8 256.7 L284.8 255.1 L283.8 253.5 L282.8 251.9 L281.8 250.2 L280.8 248.6 L279.8 247 L278.8 245.3 L277.8 243.7 L276.8 242.1 L275.8 240.4 L274.8 238.8 L273.8 237.1 L272.8 235.5 L271.8 233.9 L270.8 232.2 L269.8 230.6 L268.8 228.9 L267.8 227.3 L266.8 225.7 L265.8 224 L264.8 222.4 L263.8 220.8 L262.8 219.2 L261.8 217.6 L260.8 216 L259.8 214.4 L258.8 212.8 L257.8 211.2 L256.8 209.6 L255.8 208 L254.8 206.5 L253.8 204.9 L252.8 203.4 L251.8 201.8 L250.8 200.3 L249.8 198.8 L248.8 197.3 L247.8 195.8 L246.8 194.3 L245.8 192.8 L244.8 191.4 L243.8 189.9 L242.8 188.5 L241.8 187.1 L240.8 185.7 L239.8 184.3 L238.8 182.9 L237.8 181.6 L236.8 180.2 L235.8 178.9 L234.8 177.6 L233.8 176.3 L232.8 175 L231.8 173.7 L230.8 172.5 L229.8 171.2 L228.8 170 L227.8 168.8 L226.8 167.7 L225.8 166.5 L224.8 165.4 L223.8 164.3 L222.8 163.2 L221.8 162.1 L220.8 161 L219.8 160 L218.8 159 L217.8 158 L216.8 157 L215.8 156.1 L214.8 155.1 L213.8 154.2 L212.8 153.3 L211.8 152.5 L210.8 151.6 L209.8 150.8 L208.8 150 L207.8 149.2 L206.8 148.5 L205.8 147.8 L204.8 147.1 L203.8 146.4 L202.8 145.7 L201.8 145.1 L200.8 144.5 L199.8 143.9 L198.8 143.4 L197.8 142.9 L196.8 142.4 L195.8 141.9 L194.8 141.5 L193.8 141.1 L192.8 140.7 L191.8 140.4 L190.8 140 L189.8 139.7 L188.8 139.5 L187.8 139.2 L186.8 139 L185.8 138.9 L184.8 138.7 L183.8 138.6 L182.8 138.5 L181.8 138.5 L180.8 138.5 L179.8 138.5 L178.8 138.5Z" fill="#10c97c" stroke="none" opacity="0.95"/>
<path d="M186 131.9 L187.1 132.2 L188.1 132.2 L189.2 132.2 L190.2 132.5 L191.3 132.7 L192.3 133.2 L193.4 133.9 L194.4 133.8 L195.5 134 L196.5 134.7 L197.6 135.2 L198.6 135.6 L199.7 135.9 L200.7 136.6 L201.8 137.5 L202.8 137.7 L203.9 138.5 L204.9 138.9 L206 139.7 L207 140.3 L208.1 141.5 L209.1 142.2 L210.2 143.4 L211.2 144.3 L212.3 145.1 L213.3 145.4 L214.4 146.7 L215.4 148 L216.5 149.1 L217.5 149.7 L218.6 150.9 L219.6 151.9 L220.7 153 L221.7 154.7 L222.8 155.5 L223.8 156.7 L224.9 158.2 L225.9 159.1 L227 160.4 L228 161.7 L229.1 163 L230.1 164 L231.2 165.5 L232.2 167.3 L233.3 168 L234.3 169.8 L235.4 171.2 L236.4 172.3 L237.5 174.5 L238.5 175.7 L239.6 176.6 L240.6 178.3 L241.7 180 L242.7 181.3 L243.8 183 L244.8 184.4 L245.9 186.1 L246.9 187.9 L248 189 L249 190.7 L250.1 192.1 L251.1 193.8 L252.2 195.1 L253.2 196.8 L254.3 198.6 L255.3 200.6 L256.4 202.4 L257.4 203.4 L258.5 205 L259.5 207.1 L260.6 208.1 L261.6 210.1 L262.7 212 L263.7 214.1 L264.8 215.8 L265.8 217.1 L266.9 218.7 L267.9 220.5 L269 222.7 L270 224 L271.1 225.6 L272.1 227.6 L273.2 229.2 L274.2 230.9 L275.3 232.3 L276.3 234.3 L277.4 236 L278.4 238.2 L279.5 239.9 L280.5 241.4 L281.6 243.3 L282.6 244.8 L283.7 246.8 L284.7 248.3 L285.8 250.2 L286.8 251.4 L287.9 253.4 L288.9 254.6 L290 256.1 L291 258.3 L292.1 260 L293.1 261.9 L294.2 264.4 L295.2 265.2 L296.3 266.8 L297.3 268.7 L298.4 270.5 L299.4 272 L300.5 273.6 L301.5 275.6 L302.6 277.2 L303.6 278.4 L304.7 280.2 L305.7 281.9 L306.8 283.2 L307.8 285.2 L308.9 286.6 L309.9 288.7 L311 290.2 L312 291.7 L313.1 293.1 L314.1 294.8 L315.2 295.8 L316.2 297.5 L317.3 299.7 L318.3 300.5 L319.4 302.9 L320.4 303.9 L321.5 306.1 L322.5 307.3 L323.6 309.3 L324.6 310.8 L325.7 311.7 L326.7 314.1 L327.8 315.9 L328.8 317 L329.9 318.3 L330.9 319.9 L332 321.1 L333 323.3 L334.1 324.4 L335.1 326 L336.2 327.2 L337.2 328.7 L338.3 330 L339.3 332.4 L340.4 333.6 L341.4 335.3 L342.5 336.6 L343.5 337.7 L344.6 339.2 L345.6 340.6 L346.7 342.3 L347.7 343.6 L348.8 345.1 L349.8 346.1 L350.9 347.7 L351.9 350 L353 350.8 L354 351.9 L355.1 353.8 L356.1 355.7 L357.2 356.1 L358.2 357.7 L359.3 359.1 L360.3 360 L361.4 362.2 L362.4 363.5 L363.5 364.9 L364.5 365.9 L365.6 367.7 L366.6 368.7 L367.7 370.1 L368.7 371.1 L369.8 372.3 L370.8 374.7 L371.9 375.5 L372.9 377 L374 378.2 L375 379.3 L376.1 380.6 L377.1 382.3 L378.2 383.3 L379.2 384.6 L380.3 386 L381.3 387.7 L382.4 388.9 L383.4 390 L384.5 390.9 L385.5 391.7 L386.6 393.9 L387.6 395.4 L388.7 396.2 L389.7 397.6 L390.8 399.1 L391.8 400.4 L392.9 401.6 L393.9 402.2 L395 404.2 L396 404.2 L397.1 406.1 L398.1 407.3 L399.2 408.6 L400.2 410.2 L401.3 411.3 L402.3 410.9 L403.4 411.3 L404.4 413.7 L405.5 414.1 L406.5 415.4 L407.6 417.1 L408.6 416.8 L409.7 417.2 L410.7 419.5 L411.8 420.7 L412.8 421.6 L413.9 422.7 L414.9 423.2 L416 423.6 L417 425.3 L418.1 426 L419.1 426.4 L420.2 428.6 L421.2 429.6 L422.3 430.7 L423.3 430.8 L424.4 431.8 L425.4 432.5 L426.5 433.5 L427.5 435.1 L428.6 435.6 L429.6 437.1 L430.7 438.2 L431.7 440.3 L432.8 439.1 L433.8 441 L434.9 441.6 L435.9 442.3 L437 442.2 L438 443.5 L439.1 445.4 L440.1 445.9 L441.2 446.7 L442.2 447.3 L443.3 449.2 L444.3 449.4 L445.4 448.3 L446.4 449.9 L447.5 450 L448.5 449.6 L449.6 452.3 L450.6 455.1 L451.7 455.3 L452.7 454.8 L453.8 455.6 L454.8 458.1 L455.9 458.5 L456.9 459 L458 459.7 L459 460.6 L460.1 462 L461.1 462.7 L462.2 463.2 L463.2 462.8 L464.3 464.6 L465.3 464.7 L466.4 466.8 L467.4 465.8 L468.5 467.1 L469.5 468.2 L470.6 467.8 L471.6 471 L472.7 472.2 L473.7 471.1 L474.8 472.6 L475.8 473.2 L476.9 471.1 L477.9 473.8 L479 474.9 L480 475.7 L481.1 475.4 L482.1 476.6 L483.2 477.6 L484.2 479.7 L485.3 479.9 L486.3 480.1 L487.4 482.2 L488.4 481.3 L489.5 481.6 L490.5 481 L491.6 484.7 L492.6 485.7 L493.7 486.2 L494.7 486.6 L495.8 486.7 L496.8 487.4 L497.9 487.6 L498.9 488.3 L500 489.2 L501 491.5 L502.1 491.6 L503.1 491.4 L504.2 491.4 L505.2 491.9 L506.3 495 L507.3 495.1 L508.4 495 L509.4 495.2 L510.5 494.9 L511.5 496.6 L512.6 498.6 L513.6 498.1 L514.7 498.7 L515.7 499.4 L516.8 500.5 L517.8 499.3 L518.9 501.1 L519.9 501.5 L521 504 L522 503.2 L523.1 505 L524.1 507.2 L525.2 506 L526.2 505.8 L527.3 507.4 L528.3 508.1 L529.4 507.5 L530.4 509.6 L531.5 512.6 L532.5 511 L533.6 511.1 L534.6 510.8 L535.7 512.8 L536.7 512 L537.8 512.4 L538.8 516 L539.9 514.7 L540.9 517.2 L542 519 L543 518.2 L544.1 518.9 L545.1 521.4 L546.2 519.8 L547.2 519.3 L548.3 518.8 L549.3 521 L550.4 524 L551.4 524.4 L552.5 522.4 L553.5 522.6 L554.6 523.7 L555.6 525.5 L556.7 525.8 L557.7 526.8 L558.8 527.7 L559.8 527.6 L560.9 528.4 L561.9 529.4 L563 529.7 L564 531.1 L565.1 533.8 L566.1 533.2 L567.2 532.6 L568.2 530.6 L569.3 533.5 L570.3 531.6 L571.4 532.1 L572.4 536.2 L573.5 537.4 L574.5 536.7 L575.6 534.7 L576.6 536.6 L577.7 537.3 L578.7 539.6 L579.8 543.1 L580.8 541.2 L581.9 539.6 L582.9 539.2 L584 541.3 L585 542.1 L586.1 541.2 L587.1 543.3 L588.2 542.4 L589.2 546 L590.3 547.4 L591.3 548 L592.4 546.3 L593.4 547.8 L594.5 547.8 L595.5 547.7 L596.6 548.3 L597.6 547.4 L598.7 547.4 L599.7 551.5 L600.8 551.5 L601.8 552.3 L602.9 554.4 L603.9 550.9 L605 551.9 L606 554.4 L607.1 555.8 L608.1 555.2 L609.2 557.8 L610.2 557.7 L611.3 555.5 L612.3 556 L613.4 559.6 L614.4 560.4 L615.5 556.8 L616.5 561.9 L617.6 562.6 L618.6 564.2 L619.7 562.1 L620.7 562.1 L621.8 561.3 L622.8 567.9 L623.9 565.3 L624.9 567.8 L626 565.2 L627 566.3 L628.1 563.9 L629.1 566 L630.2 569.5 L631.2 566.7 L632.3 570.4 L633.3 570.7 L634.4 568.4 L635.4 569.3 L636.5 570.2 L637.5 571.5 L638.6 571.4 L639.6 571.1 L640.7 572.5 L641.7 571.9 L642.8 571.6 L643.8 574.4 L644.9 577.2 L645.9 573.6 L647 575.9 L648 575.9 L649.1 575.5 L650.1 579.4 L651.2 578.1 L652.2 581.9 L653.3 579 L654.3 580.6 L655.4 580.5 L656.4 579.7 L657.5 582.6 L658.5 582.3 L659.6 583.9 L660.6 583.5 L661.7 581.6 L662.7 583.5 L663.8 584.8 L664.8 587.2 L665.9 584.4 L666.9 585.7 L668 583.2 L669 587.7 L670.1 585.8 L671.1 583.8 L672.2 587.6 L673.2 591.4 L674.3 587 L675.3 587 L676.4 588.4 L677.4 588.2 L678.5 591.7 L679.5 590.4 L680.6 590.4 L681.6 593.8 L682.7 592 L683.7 594.3 L684.8 592.4 L685.8 591.5 L686.9 590.4 L687.9 598.7 L689 596.4 L690 596.9 L691.1 597 L692.1 597.7 L693.2 598 L694.2 602.6 L695.3 597.4 L696.3 595 L697.4 596.3 L698.4 596.3 L699.5 601.4 L700.5 603.2 L701.6 599.5 L702.6 597.9 L703.7 600.5 L704.7 605.6 L705.8 597.1 L706.8 603 L707.9 601.5 L708.9 606 L710 602.7 L711 603.7 L712.1 601.6 L713.1 602.5 L714.2 609 L715.2 609.5 L716.3 606.5 L717.3 605 L718.4 602.6 L719.4 606.1 L720.5 608.3 L721.5 608.8 L722.6 609.1 L723.6 606.9 L724.7 609.3 L725.7 610.4 L726.8 614.1 L727.8 616.8 L728.9 612.5 L729.9 610 L731 611.7 L732 611.2 L733.1 610.8 L734.1 612.9 L735.2 611.1 L736.2 615.1 L737.3 614.7 L738.3 615.5 L739.4 615 L740.4 613.6 L741.5 613 L742.5 615.1 L743.6 615.1 L744.6 617.3 L745.7 617.6 L746.7 614.1 L747.8 617.4 L748.8 614.9 L749.9 616.2 L750.9 617.9 L752 613.6 L753 618.7 L754.1 620.7 L755.1 620.2 L756.2 619.6 L757.2 619.9 L758.3 618.5 L759.3 620.4 L760.4 620.5 L761.4 622.4 L762.5 619.5 L763.5 623 L764.6 624.1 L765.6 623.5 L766.7 622.8 L767.7 625.7 L768.8 620.4 L769.8 625.2 L770.9 626.5 L771.9 626.7 L773 627.4 L774 624.8 L775.1 625.5 L776.1 628.7 L777.2 629 L778.2 628.5 L779.3 623.6 L780.3 628.7 L781.4 632.4 L782.4 632.7 L783.5 630.6 L784.5 625 L785.6 631.4 L786.6 630.3 L787.7 622.6 L788.7 629.8 L789.8 626.7 L790.8 626.2 L791.9 628.6 L792.9 635.2 L794 631.9 L795 632.9 L796.1 638.2 L797.1 639.1 L798.2 634.1 L799.2 632.6 L800.3 629.7 L801.3 630.9 L802.4 635.1 L803.4 636.1 L804.5 635.5 L805.5 638.3 L806.6 633.7 L807.6 634.9 L808.7 638.2 L809.7 638.6 L810.8 640.3 L811.8 638.8 L812.9 636.3 L813.9 638.1 L815 634.5 L816 631.7 L817.1 638.5 L818.1 638.5 L819.2 639.4 L820.2 633.5 L821.3 636.4 L822.3 637 L823.4 636.1 L824.4 631.6 L825.5 637 L826.5 642.8 L827.6 642.4 L828.6 639 L829.7 640.3 L830.7 643.6 L831.8 632.8 L832.8 638.8 L833.9 643.5 L834.9 644.7 L836 648.5 L837 647.7 L838.1 644.6 L839.1 644.1 L840.2 646 L841.2 642.1 L842.3 642.9 L843.3 646.8 L844.4 651.4 L845.4 645.2 L846.5 644 L847.5 645.2 L848.6 649.5 L849.6 646 L850.7 650.2 L851.7 643.2 L852.8 645.1 L853.8 645.5 L854.9 646.7 L855.9 647.4 L857 645 L858 645.1" fill="none" stroke="#000" stroke-width="5.2" stroke-linejoin="round" stroke-linecap="round"/>
<path d="M178.8 134.8 L181.8 135 L184.8 135.3 L187.8 136 L190.8 136.9 L193.8 138.1 L196.8 139.5 L199.8 141.2 L202.8 143.1 L205.8 145.2 L208.8 147.5 L211.8 150.1 L214.8 152.8 L217.8 155.8 L220.8 158.9 L223.8 162.3 L226.8 165.7 L229.8 169.4 L232.8 173.2 L235.8 177.2 L238.8 181.3 L241.8 185.5 L244.8 189.9 L247.8 194.3 L250.8 198.9 L253.8 203.5 L256.8 208.2 L259.8 213 L262.8 217.8 L265.8 222.7 L268.8 227.6 L271.8 232.5 L274.8 237.4 L277.8 242.3 L280.8 247.2 L283.8 252.1 L286.8 257 L289.8 261.8 L292.8 266.6 L295.8 271.3 L298.8 276 L301.8 280.6 L304.8 285.2 L307.8 289.8 L310.8 294.3 L313.8 298.7 L316.8 303.2 L319.8 307.5 L322.8 311.9 L325.8 316.1 L328.8 320.4 L331.8 324.6 L334.8 328.7 L337.8 332.8 L340.8 336.8 L343.8 340.8 L346.8 344.8 L349.8 348.7 L352.8 352.5 L355.8 356.3 L358.8 360.1 L361.8 363.8 L364.8 367.4 L367.8 371 L370.8 374.6 L373.8 378.1 L376.8 381.5 L379.8 384.9 L382.8 388.3 L385.8 391.6 L388.8 394.8 L391.8 398 L394.8 401.1 L397.8 404.2 L400.8 407.3 L403.8 410.2 L406.8 413.2 L409.8 416.1 L412.8 418.9 L415.8 421.7 L418.8 424.4 L421.8 427.1 L424.8 429.7 L427.8 432.4 L430.8 434.9 L433.8 437.4 L436.8 439.9 L439.8 442.4 L442.8 444.8 L445.8 447.2 L448.8 449.6 L451.8 451.9 L454.8 454.2 L457.8 456.4 L460.8 458.7 L463.8 460.9 L466.8 463.1 L469.8 465.3 L472.8 467.4 L475.8 469.5 L478.8 471.7 L481.8 473.8 L484.8 475.8 L487.8 477.9 L490.8 479.9 L493.8 482 L496.8 484 L499.8 486 L502.8 488.1 L505.8 490.1 L508.8 492.1 L511.8 494.1 L514.8 496.1 L517.8 498.1 L520.8 500.1 L523.8 502.1 L526.8 504.1 L529.8 506.1 L532.8 508.1 L535.8 510.1 L538.8 512.1 L541.8 514.1 L544.8 516.1 L547.8 518 L550.8 520 L553.8 522 L556.8 524 L559.8 525.9 L562.8 527.9 L565.8 529.8 L568.8 531.8 L571.8 533.7 L574.8 535.6 L577.8 537.5 L580.8 539.4 L583.8 541.3 L586.8 543.2 L589.8 545.1 L592.8 546.9 L595.8 548.8 L598.8 550.6 L601.8 552.4 L604.8 554.2 L607.8 556 L610.8 557.8 L613.8 559.6 L616.8 561.3 L619.8 563.1 L622.8 564.8 L625.8 566.5 L628.8 568.2 L631.8 569.8 L634.8 571.5 L637.8 573.1 L640.8 574.7 L643.8 576.4 L646.8 578 L649.8 579.5 L652.8 581.1 L655.8 582.6 L658.8 584.2 L661.8 585.7 L664.8 587.2 L667.8 588.7 L670.8 590.2 L673.8 591.6 L676.8 593.1 L679.8 594.5 L682.8 596 L685.8 597.4 L688.8 598.8 L691.8 600.1 L694.8 601.5 L697.8 602.9 L700.8 604.2 L703.8 605.5 L706.8 606.9 L709.8 608.2 L712.8 609.4 L715.8 610.7 L718.8 612 L721.8 613.2 L724.8 614.5 L727.8 615.7 L730.8 616.9 L733.8 618.1 L736.8 619.3 L739.8 620.5 L742.8 621.6 L745.8 622.8 L748.8 623.9 L751.8 625.1 L754.8 626.2 L757.8 627.3 L760.8 628.4 L763.8 629.4 L766.8 630.5 L769.8 631.6 L772.8 632.6 L775.8 633.7 L778.8 634.7 L781.8 635.7 L784.8 636.7 L787.8 637.7 L790.8 638.7 L793.8 639.6 L796.8 640.6 L799.8 641.5 L802.8 642.5 L805.8 643.4 L808.8 644.3 L811.8 645.2 L814.8 646.1 L817.8 647 L820.8 647.9 L823.8 648.8 L826.8 649.6 L829.8 650.5 L832.8 651.3 L835.8 652.1 L838.8 653 L841.8 653.8 L844.8 654.6 L847.8 655.4 L850.8 656.1 L853.8 656.9 L856.8 657.7 L859.8 658.4 L862.8 659.2 L865.8 659.9 L868.8 660.6 L871.8 661.4 L874.8 662.1 L877.8 662.8" fill="none" stroke="#00ad37" stroke-width="3.6" stroke-linejoin="round"/>
</g>
<line x1="178.6" y1="720" x2="178.6" y2="728" stroke="#5c5c5c" stroke-width="2.4" />
<g fill="#2a2a2a"><text transform="translate(146.69 763.3) scale(1.056 1.000)" font-size="38" font-weight="normal" font-style="normal" xml:space="preserve">0.0</text></g>
<line x1="318.4" y1="720" x2="318.4" y2="728" stroke="#5c5c5c" stroke-width="2.4" />
<g fill="#2a2a2a"><text transform="translate(286.45 763.3) scale(1.075 1.000)" font-size="38" font-weight="normal" font-style="normal" xml:space="preserve">0.1</text></g>
<line x1="458.2" y1="720" x2="458.2" y2="728" stroke="#5c5c5c" stroke-width="2.4" />
<g fill="#2a2a2a"><text transform="translate(426.23 763.3) scale(1.080 1.000)" font-size="38" font-weight="normal" font-style="normal" xml:space="preserve">0.2</text></g>
<line x1="598" y1="720" x2="598" y2="728" stroke="#5c5c5c" stroke-width="2.4" />
<g fill="#2a2a2a"><text transform="translate(566.07 763.3) scale(1.065 1.000)" font-size="38" font-weight="normal" font-style="normal" xml:space="preserve">0.3</text></g>
<line x1="737.8" y1="720" x2="737.8" y2="728" stroke="#5c5c5c" stroke-width="2.4" />
<g fill="#2a2a2a"><text transform="translate(705.91 763.3) scale(1.049 1.000)" font-size="38" font-weight="normal" font-style="normal" xml:space="preserve">0.4</text></g>
<line x1="877.6" y1="720" x2="877.6" y2="728" stroke="#5c5c5c" stroke-width="2.4" />
<g fill="#2a2a2a"><text transform="translate(845.65 763.3) scale(1.071 1.000)" font-size="38" font-weight="normal" font-style="normal" xml:space="preserve">0.5</text></g>
<line x1="170.8" y1="122.3" x2="178.8" y2="122.3" stroke="#7a7a7a" stroke-width="2.2" />
<g fill="#2a2a2a"><text transform="translate(74.8 136.7) scale(1.053 1.000)" font-size="38" font-weight="normal" font-style="normal" xml:space="preserve">10</text><text transform="translate(126.14 122.2) scale(1.060 1.000)" font-size="26.6" font-weight="normal" font-style="normal" xml:space="preserve">−2</text></g>
<line x1="170.8" y1="421.1" x2="178.8" y2="421.1" stroke="#7a7a7a" stroke-width="2.2" />
<g fill="#2a2a2a"><text transform="translate(74.8 435.5) scale(1.053 1.000)" font-size="38" font-weight="normal" font-style="normal" xml:space="preserve">10</text><text transform="translate(126.19 421) scale(1.043 1.000)" font-size="26.6" font-weight="normal" font-style="normal" xml:space="preserve">−3</text></g>
<line x1="174.8" y1="331.2" x2="178.8" y2="331.2" stroke="#8a8a8a" stroke-width="1.8" />
<line x1="174.8" y1="278.5" x2="178.8" y2="278.5" stroke="#8a8a8a" stroke-width="1.8" />
<line x1="174.8" y1="241.2" x2="178.8" y2="241.2" stroke="#8a8a8a" stroke-width="1.8" />
<line x1="174.8" y1="212.2" x2="178.8" y2="212.2" stroke="#8a8a8a" stroke-width="1.8" />
<line x1="174.8" y1="188.6" x2="178.8" y2="188.6" stroke="#8a8a8a" stroke-width="1.8" />
<line x1="174.8" y1="168.6" x2="178.8" y2="168.6" stroke="#8a8a8a" stroke-width="1.8" />
<line x1="174.8" y1="151.3" x2="178.8" y2="151.3" stroke="#8a8a8a" stroke-width="1.8" />
<line x1="174.8" y1="136" x2="178.8" y2="136" stroke="#8a8a8a" stroke-width="1.8" />
<line x1="170.8" y1="719.9" x2="178.8" y2="719.9" stroke="#7a7a7a" stroke-width="2.2" />
<g fill="#2a2a2a"><text transform="translate(74.8 734.3) scale(1.053 1.000)" font-size="38" font-weight="normal" font-style="normal" xml:space="preserve">10</text><text transform="translate(126.24 719.8) scale(1.025 1.000)" font-size="26.6" font-weight="normal" font-style="normal" xml:space="preserve">−4</text></g>
<line x1="174.8" y1="630" x2="178.8" y2="630" stroke="#8a8a8a" stroke-width="1.8" />
<line x1="174.8" y1="577.3" x2="178.8" y2="577.3" stroke="#8a8a8a" stroke-width="1.8" />
<line x1="174.8" y1="540" x2="178.8" y2="540" stroke="#8a8a8a" stroke-width="1.8" />
<line x1="174.8" y1="511" x2="178.8" y2="511" stroke="#8a8a8a" stroke-width="1.8" />
<line x1="174.8" y1="487.4" x2="178.8" y2="487.4" stroke="#8a8a8a" stroke-width="1.8" />
<line x1="174.8" y1="467.4" x2="178.8" y2="467.4" stroke="#8a8a8a" stroke-width="1.8" />
<line x1="174.8" y1="450.1" x2="178.8" y2="450.1" stroke="#8a8a8a" stroke-width="1.8" />
<line x1="174.8" y1="434.8" x2="178.8" y2="434.8" stroke="#8a8a8a" stroke-width="1.8" />
<rect x="178.8" y="68.5" width="699.0" height="651.5" fill="none" stroke="#7a7a7a" stroke-width="3"/>
<g fill="#000"><text transform="translate(441.56 815.2) scale(1.031 1.000)" font-size="40" font-weight="bold" font-style="italic" xml:space="preserve">q</text><text transform="translate(501.21 815.2) scale(0.880 1.000)" font-size="40" font-weight="bold" font-style="normal" xml:space="preserve">(</text><text transform="translate(521.71 815.2) scale(0.928 1.000)" font-size="40" font-weight="bold" font-style="normal" xml:space="preserve">Å</text><text transform="translate(552.28 800.8) scale(1.065 1.000)" font-size="27" font-weight="bold" font-style="normal" xml:space="preserve">−1</text><text transform="translate(600.42 815.2) scale(0.838 1.000)" font-size="40" font-weight="bold" font-style="normal" xml:space="preserve">)</text></g>
<g fill="#000" transform="translate(56.3,433) rotate(-90)"><text transform="translate(0.85 0) scale(0.939 1.000)" font-size="40" font-weight="bold" font-style="italic" xml:space="preserve">I</text><text transform="translate(14.75 0) scale(1.133 1.000)" font-size="40" font-weight="normal" font-style="normal" xml:space="preserve">(</text><text transform="translate(33.67 0) scale(0.950 1.000)" font-size="40" font-weight="bold" font-style="italic" xml:space="preserve">q</text><text transform="translate(62.87 0) scale(1.133 1.000)" font-size="40" font-weight="normal" font-style="normal" xml:space="preserve">)</text></g>
<g fill="#000"><text transform="translate(242.8 138.4) scale(1.075 1.000)" font-size="59" font-weight="bold" font-style="normal" xml:space="preserve">a</text></g>
<line x1="538" y1="121.5" x2="624" y2="121.5" stroke="#2b2b2b" stroke-width="4.6" stroke-linecap="round"/>
<line x1="538" y1="184.5" x2="624" y2="184.5" stroke="#00c04a" stroke-width="4.6" stroke-linecap="round"/>
<g fill="#000"><text transform="translate(656.48 136.3) scale(0.894 1.000)" font-size="40" font-weight="bold" font-style="italic" xml:space="preserve">I</text><text transform="translate(671.63 142) scale(1.088 1.000)" font-size="26.5" font-weight="bold" font-style="normal" xml:space="preserve">Exp</text></g>
<g fill="#000"><text transform="translate(656.48 197.9) scale(0.894 1.000)" font-size="40" font-weight="bold" font-style="italic" xml:space="preserve">I</text><text transform="translate(671.66 204.3) scale(1.076 1.000)" font-size="26.5" font-weight="bold" font-style="normal" xml:space="preserve">MD</text><text transform="translate(731.14 204.3) scale(1.028 1.000)" font-size="26.5" font-weight="bold" font-style="normal" xml:space="preserve">−</text><text transform="translate(761.56 204.3) scale(1.087 1.000)" font-size="26.5" font-weight="bold" font-style="normal" xml:space="preserve">36µs</text></g>
</g>
<g id="panelB">
<clipPath id="clipB"><rect x="1095.8" y="40.5" width="729.7" height="679.5"/></clipPath>
<g clip-path="url(#clipB)">
<path d="M1098 690.2 L1099 690.2 L1100 690.1 L1101 689.8 L1102 689.4 L1103 688.8 L1104 688.1 L1105 687.4 L1106 686.4 L1107 685.4 L1108 684.1 L1109 683 L1110 681.5 L1111 680 L1112 678.3 L1113 676.6 L1114 674.8 L1115 673 L1116 670.9 L1117 668.7 L1118 666.4 L1119 664 L1120 661.7 L1121 659.1 L1122 656.6 L1123 653.7 L1124 651.1 L1125 648.2 L1126 645.2 L1127 642.3 L1128 638.9 L1129 635.9 L1130 632.9 L1131 629.5 L1132 626.2 L1133 622.9 L1134 619.3 L1135 615.9 L1136 612.2 L1137 608.9 L1138 605.4 L1139 601.8 L1140 592.7 L1141 588.9 L1142 586.1 L1143 582.5 L1144 579.2 L1145 575.7 L1146 572.1 L1147 569 L1148 565.3 L1149 562 L1150 558.6 L1151 554.8 L1152 550.9 L1153 547.1 L1154 543.2 L1155 539.5 L1156 535.2 L1157 531 L1158 527.4 L1159 523.4 L1160 519.4 L1161 515.4 L1162 512.1 L1163 508.7 L1164 504.7 L1165 501.1 L1166 497.3 L1167 494.2 L1168 490.7 L1169 487.5 L1170 483.3 L1171 480.1 L1172 477.4 L1173 473.9 L1174 470.7 L1175 467.8 L1176 465.3 L1177 462 L1178 458.1 L1179 456.5 L1180 452.8 L1181 450.2 L1182 446.9 L1183 444.5 L1184 443.2 L1185 439.6 L1186 438.2 L1187 436.2 L1188 433.8 L1189 432 L1190 428.7 L1191 428.1 L1192 426.1 L1193 423.6 L1194 419.1 L1195 418.3 L1196 419.3 L1197 417.5 L1198 415.8 L1199 414.7 L1200 413.4 L1201 412.2 L1202 411 L1203 410.1 L1204 405.4 L1205 407.2 L1206 405.3 L1207 400.9 L1208 396.9 L1209 397.3 L1210 393.6 L1211 388.1 L1212 393.5 L1213 394.6 L1214 394.7 L1215 396.2 L1216 396.8 L1217 395.9 L1218 397.2 L1219 394.3 L1220 392.7 L1221 395.1 L1222 392.8 L1223 391.6 L1224 391.8 L1225 389.7 L1226 388.5 L1227 388.2 L1228 387.1 L1229 385.8 L1230 385.2 L1231 384.7 L1232 382.4 L1233 382.7 L1234 378.8 L1235 380.5 L1236 380.5 L1237 379.7 L1238 378.5 L1239 378.8 L1240 376.8 L1241 377.4 L1242 375.9 L1243 377 L1244 374.1 L1245 376 L1246 375.8 L1247 373.3 L1248 372.7 L1249 371.4 L1250 373.2 L1251 371.7 L1252 371.9 L1253 371.4 L1254 370.7 L1255 369.8 L1256 369.3 L1257 369.5 L1258 369.6 L1259 369.1 L1260 367.8 L1261 368.4 L1262 367.5 L1263 367.7 L1264 367.1 L1265 365 L1266 365.7 L1267 364.8 L1268 361.6 L1269 364.2 L1270 363.1 L1271 363.3 L1272 362.8 L1273 362.3 L1274 361.3 L1275 361.8 L1276 360 L1277 361.9 L1278 362.9 L1279 364.2 L1280 363.9 L1281 364.5 L1282 362.2 L1283 364.1 L1284 361 L1285 363.8 L1286 362.4 L1287 358.7 L1288 360.1 L1289 360.1 L1290 360 L1291 360.4 L1292 357.7 L1293 358.7 L1294 357.6 L1295 357.2 L1296 354.9 L1297 356 L1298 354.3 L1299 353.3 L1300 355.5 L1301 354.6 L1302 347.5 L1303 351.3 L1304 348.4 L1305 352 L1306 352 L1307 347 L1308 348 L1309 348.5 L1310 346.9 L1311 349.3 L1312 347.6 L1313 346.8 L1314 347.7 L1315 345.6 L1316 345.5 L1317 346.7 L1318 346.7 L1319 344.6 L1320 343.3 L1321 344.2 L1322 343.4 L1323 341 L1324 342.6 L1325 345 L1326 340.6 L1327 341.5 L1328 343.9 L1329 342.2 L1330 340.4 L1331 341.3 L1332 336.1 L1333 338.8 L1334 333.3 L1335 339.8 L1336 338.9 L1337 337.4 L1338 337.9 L1339 335 L1340 336.3 L1341 332.3 L1342 338.2 L1343 333.1 L1344 336.5 L1345 335.7 L1346 336.8 L1347 333.9 L1348 334.3 L1349 333.1 L1350 333.3 L1351 333.7 L1352 332.8 L1353 328.5 L1354 330 L1355 325.3 L1356 330.8 L1357 327.1 L1358 322.4 L1359 328.8 L1360 324.7 L1361 320.4 L1362 315.9 L1363 320.3 L1364 322.7 L1365 323 L1366 323.8 L1367 327.3 L1368 326.6 L1369 323.3 L1370 322.8 L1371 320.3 L1372 325.5 L1373 320.3 L1374 318 L1375 319.9 L1376 320.2 L1377 319.7 L1378 320.1 L1379 322.2 L1380 318 L1381 323.8 L1382 317.7 L1383 319.2 L1384 322 L1385 317.9 L1386 318.6 L1387 315.6 L1388 317.7 L1389 321.7 L1390 316.6 L1391 319 L1392 318.9 L1393 315.8 L1394 318 L1395 316.1 L1396 305.4 L1397 314 L1398 318.4 L1399 318.3 L1400 317.2 L1401 315.2 L1402 310.3 L1403 311.3 L1404 311.6 L1405 314.3 L1406 309.2 L1407 314.5 L1408 309.9 L1409 308.8 L1410 314.2 L1411 312.4 L1412 310.6 L1413 305.6 L1414 308.4 L1415 304.6 L1416 308.2 L1417 310.3 L1418 310 L1419 313 L1420 311 L1421 302.5 L1422 312 L1423 302.7 L1424 310.3 L1425 309.7 L1426 311.1 L1427 300.4 L1428 307.9 L1429 307.2 L1430 307.2 L1431 308.7 L1432 304.1 L1433 300.6 L1434 301.6 L1435 302.3 L1436 302.1 L1437 296.8 L1438 300.7 L1439 300.5 L1440 300.5 L1441 296.6 L1442 304.9 L1443 297.4 L1444 303 L1445 303.3 L1446 291.4 L1447 287.7 L1448 294.9 L1449 301.5 L1450 299.6 L1451 302 L1452 300.9 L1453 299.4 L1454 290.4 L1455 299.5 L1456 297.1 L1457 294 L1458 295.7 L1459 298.4 L1460 299.2 L1461 291.9 L1462 297.4 L1463 283.1 L1464 290.5 L1465 287.5 L1466 297.6 L1467 293.9 L1468 293.6 L1469 291.7 L1470 292.2 L1471 289.1 L1472 290.8 L1473 293.8 L1474 295.5 L1475 292.7 L1476 291 L1477 296.6 L1478 290.6 L1479 292.4 L1480 288.1 L1481 283.4 L1482 285.4 L1483 290.2 L1484 286 L1485 290.6 L1486 278.7 L1487 287.7 L1488 283.3 L1489 283.4 L1490 276.4 L1491 287 L1492 275.8 L1493 290.9 L1494 290.9 L1495 284 L1496 275.4 L1497 277.8 L1498 289.4 L1499 288.2 L1500 285.1 L1501 287.3 L1502 283.4 L1503 283.8 L1504 286.5 L1505 281.6 L1506 281.1 L1507 281.5 L1508 279.4 L1509 275.7 L1510 272.2 L1511 280.3 L1512 272.3 L1513 273.8 L1514 275.8 L1515 275.7 L1516 280 L1517 277.7 L1518 277.8 L1519 274.1 L1520 270.9 L1521 254.4 L1522 260.2 L1523 276 L1524 272.1 L1525 261.7 L1526 256.3 L1527 254.7 L1528 263.7 L1529 257.5 L1530 268.8 L1531 271.9 L1532 268.3 L1533 264.7 L1534 256.7 L1535 248.9 L1536 261.6 L1537 266.5 L1538 258.3 L1539 262 L1540 260 L1541 262.5 L1542 264.4 L1543 261.6 L1544 259.5 L1545 254.2 L1546 255.3 L1547 261.3 L1548 256.2 L1549 263.8 L1550 241.1 L1551 261.8 L1552 235.2 L1553 253.9 L1554 256.8 L1555 257.3 L1556 236 L1557 259.4 L1558 258.9 L1559 242.5 L1560 247 L1561 240.5 L1562 256.8 L1563 252.1 L1564 236.5 L1565 255 L1566 245.8 L1567 251.4 L1568 251.5 L1569 246.6 L1570 248 L1571 241 L1572 242.6 L1573 242 L1574 239.7 L1575 246.3 L1576 242 L1577 241.1 L1578 241.3 L1579 244.7 L1580 251.7 L1581 244.2 L1582 250.2 L1583 251 L1584 247.7 L1585 241.1 L1586 222.3 L1587 246.6 L1588 243.2 L1589 235 L1590 235.8 L1591 240.5 L1592 239.6 L1593 244.4 L1594 245.5 L1595 242.5 L1596 218.1 L1597 228.1 L1598 235.9 L1599 218.4 L1600 235.3 L1601 235.5 L1602 230.1 L1603 238.9 L1604 223 L1605 229.2 L1606 229.6 L1607 231.9 L1608 237.9 L1609 227.6 L1610 227.2 L1611 233.9 L1612 236.6 L1613 233.6 L1614 229.8 L1615 225.1 L1616 234.1 L1617 229.3 L1618 230.1 L1619 217.3 L1620 221.3 L1621 218.1 L1622 209.8 L1623 204 L1624 213.8 L1625 216.8 L1626 214 L1627 204.8 L1628 221.3 L1629 225.8 L1630 225.9 L1631 215.1 L1632 220.7 L1633 207.8 L1634 219.5 L1635 200.6 L1636 220.7 L1637 221.3 L1638 216.5 L1639 207.8 L1640 209.2 L1641 213.8 L1642 197.8 L1643 201.1 L1644 201.9 L1645 216.8 L1646 200.8 L1647 217.4 L1648 192.2 L1649 194.7 L1650 210.4 L1651 193.5 L1652 201.3 L1653 204.3 L1654 211.8 L1655 211.6 L1656 205 L1657 200.8 L1658 200.6 L1659 205.5 L1660 175.6 L1661 210 L1662 207.2 L1663 200.5 L1664 189.4 L1665 192.4 L1666 207.8 L1667 203.9 L1668 181.3 L1669 171.1 L1670 193.8 L1671 172.1 L1672 196.5 L1673 199.2 L1674 187 L1675 199.1 L1676 171.4 L1677 193.8 L1678 197.2 L1679 169.8 L1680 187.8 L1681 191.4 L1682 195.3 L1683 167.7 L1684 167.8 L1685 192.7 L1686 181.9 L1687 187.6 L1688 159.5 L1689 193.9 L1690 192 L1691 149.1 L1692 194.7 L1693 181.6 L1694 191.3 L1695 178.4 L1696 171.9 L1697 181.3 L1698 172.2 L1699 169.4 L1700 190.7 L1701 170.9 L1702 151.2 L1703 185.6 L1704 168.6 L1705 169.8 L1706 172.1 L1707 168.4 L1708 137.5 L1709 174.8 L1710 166.9 L1711 181.2 L1712 175.6 L1713 164.4 L1714 156.5 L1715 170.5 L1716 150.2 L1717 161.4 L1718 162.2 L1719 157.2 L1720 173 L1721 149.8 L1722 153.8 L1723 166.1 L1724 152.9 L1725 160.9 L1726 157 L1727 136.4 L1728 168.9 L1729 172.3 L1730 166.3 L1731 163.6 L1732 141.8 L1733 157.3 L1734 154.8 L1735 134.5 L1736 130.9 L1737 157 L1738 129.6 L1739 152.9 L1740 151.7 L1741 163.6 L1742 129.3 L1743 132.3 L1744 146.4 L1745 146.5 L1746 130.1 L1747 156.9 L1748 120.3 L1749 142.1 L1750 122.6 L1751 124.3 L1752 101 L1753 129.3 L1754 124.2 L1755 119.9 L1756 144 L1757 125 L1758 145.8 L1759 131.3 L1760 105.1 L1761 131.3 L1762 133.3 L1763 134.5 L1764 77.2 L1765 123.5 L1766 112.6 L1767 119.9 L1768 137.7 L1769 114.8 L1770 105.5 L1771 76.5 L1772 111.9 L1773 97.1 L1774 126.9 L1775 115.8 L1776 122 L1777 103.3 L1778 76.4 L1779 82.9 L1780 129.6 L1781 121.7 L1782 107 L1783 122.4 L1784 117.3 L1785 98 L1786 104.6 L1787 120.7 L1788 123.5 L1789 119.6 L1790 101.5 L1791 89.4 L1792 118.1 L1793 97.1 L1794 116.3 L1795 88.5 L1796 86.5 L1797 85.2 L1798 89.6 L1799 87.1 L1800 82 L1801 106 L1802 96.5 L1803 43.3 L1804 30.7 L1805 106.9 L1806 106.1 L1806 201.4 L1805 192.2 L1804 209.2 L1803 255.8 L1802 217.2 L1801 199.8 L1800 206.5 L1799 202.6 L1798 219.1 L1797 209.4 L1796 198.3 L1795 199.7 L1794 196.1 L1793 208.8 L1792 195.3 L1791 191.5 L1790 198.1 L1789 212.7 L1788 209 L1787 223.5 L1786 222.5 L1785 204 L1784 227.9 L1783 241.1 L1782 219.9 L1781 205.7 L1780 221.1 L1779 205.8 L1778 239.2 L1777 241.6 L1776 214.4 L1775 210.5 L1774 210.9 L1773 221.8 L1772 221.8 L1771 237.7 L1770 201.2 L1769 209.6 L1768 218.7 L1767 207.5 L1766 210.2 L1765 204 L1764 240.1 L1763 217.4 L1762 242.8 L1761 217 L1760 236.6 L1759 242.4 L1758 237.5 L1757 250.6 L1756 227.5 L1755 237.6 L1754 226.9 L1753 237.1 L1752 234.6 L1751 212.3 L1750 243.6 L1749 248 L1748 224.9 L1747 253.6 L1746 262.9 L1745 224.4 L1744 250.6 L1743 230.6 L1742 246.9 L1741 286.1 L1740 225.7 L1739 258.8 L1738 246.8 L1737 232.6 L1736 225.5 L1735 227.3 L1734 239.2 L1733 235.5 L1732 232.9 L1731 249.3 L1730 250 L1729 235.1 L1728 252 L1727 255.1 L1726 234.6 L1725 231.3 L1724 224.2 L1723 247.7 L1722 228.7 L1721 234.9 L1720 253 L1719 251.7 L1718 246.7 L1717 262.6 L1716 242.8 L1715 247.8 L1714 243.5 L1713 270.6 L1712 243.5 L1711 240.1 L1710 253 L1709 228.8 L1708 233.6 L1707 234.4 L1706 236.9 L1705 232.2 L1704 246.8 L1703 245.9 L1702 243 L1701 241 L1700 236.3 L1699 236.9 L1698 274.5 L1697 242.4 L1696 265.4 L1695 259.2 L1694 264.9 L1693 236.9 L1692 241 L1691 266.7 L1690 279.1 L1689 247.9 L1688 255.4 L1687 249.4 L1686 257.8 L1685 253.6 L1684 239.5 L1683 249.4 L1682 257.4 L1681 244.6 L1680 259.2 L1679 260.5 L1678 258.2 L1677 269.3 L1676 251.5 L1675 253.2 L1674 246.6 L1673 261.2 L1672 254.2 L1671 267.3 L1670 258.2 L1669 271.9 L1668 252.6 L1667 261.1 L1666 256.5 L1665 257.8 L1664 267.7 L1663 267 L1662 252.1 L1661 263.3 L1660 254.4 L1659 257.4 L1658 281.3 L1657 266.6 L1656 252 L1655 269.6 L1654 253 L1653 263.1 L1652 259.6 L1651 252 L1650 262.5 L1649 271.1 L1648 265.1 L1647 277.2 L1646 253.2 L1645 262.6 L1644 257.8 L1643 257.5 L1642 267.9 L1641 253.7 L1640 276.1 L1639 259.5 L1638 265.8 L1637 264.8 L1636 279.1 L1635 266.6 L1634 264.6 L1633 259.6 L1632 277.3 L1631 274.2 L1630 274.4 L1629 274.2 L1628 276.4 L1627 269.4 L1626 260 L1625 263.1 L1624 266.2 L1623 260.7 L1622 268.9 L1621 276.6 L1620 267.7 L1619 263.5 L1618 267.5 L1617 278.3 L1616 268.8 L1615 287 L1614 289.1 L1613 274.8 L1612 274.5 L1611 279.4 L1610 287.4 L1609 297.4 L1608 280.8 L1607 284.3 L1606 276.2 L1605 275.9 L1604 274.7 L1603 274 L1602 268.9 L1601 273.8 L1600 269.1 L1599 283.2 L1598 280.8 L1597 290.1 L1596 281.3 L1595 272.9 L1594 288.7 L1593 272.9 L1592 291.4 L1591 281.9 L1590 273.5 L1589 292.1 L1588 275.9 L1587 277.3 L1586 278 L1585 275.3 L1584 281.4 L1583 286.6 L1582 281.6 L1581 276.3 L1580 287.1 L1579 282.1 L1578 288.3 L1577 276.3 L1576 283.3 L1575 277.6 L1574 292.9 L1573 279.8 L1572 285.2 L1571 292.5 L1570 285.1 L1569 284.9 L1568 287.7 L1567 295.3 L1566 283.4 L1565 284.6 L1564 281 L1563 280.7 L1562 284.5 L1561 293.2 L1560 297.8 L1559 283.4 L1558 295.2 L1557 289.1 L1556 295.7 L1555 295.2 L1554 283.6 L1553 287.5 L1552 291.6 L1551 293.2 L1550 286.7 L1549 292.5 L1548 298.9 L1547 296.4 L1546 298.7 L1545 289.8 L1544 290.4 L1543 300.5 L1542 295.2 L1541 292.5 L1540 296.5 L1539 297.5 L1538 295 L1537 291.1 L1536 296.8 L1535 290.1 L1534 295.1 L1533 311.8 L1532 300.2 L1531 316.6 L1530 302.4 L1529 297.7 L1528 294.5 L1527 296.5 L1526 302.1 L1525 297.2 L1524 298.6 L1523 300.3 L1522 304.6 L1521 302.1 L1520 304.3 L1519 309.5 L1518 310.3 L1517 303.8 L1516 310.7 L1515 305.4 L1514 304.2 L1513 326 L1512 314 L1511 303.3 L1510 309.9 L1509 310.8 L1508 305.5 L1507 306.6 L1506 317.3 L1505 321.7 L1504 312.9 L1503 309.7 L1502 315.9 L1501 321.4 L1500 314.7 L1499 307.6 L1498 317.8 L1497 312.7 L1496 311.5 L1495 315.5 L1494 311.3 L1493 310.8 L1492 324.5 L1491 314.8 L1490 314.8 L1489 315.2 L1488 317.8 L1487 313.2 L1486 320.9 L1485 316.2 L1484 317.9 L1483 319.1 L1482 320.5 L1481 314.8 L1480 318.6 L1479 318.2 L1478 318.9 L1477 316.2 L1476 312.5 L1475 321.4 L1474 313.9 L1473 319.7 L1472 331.2 L1471 321.7 L1470 324.1 L1469 319.8 L1468 317.9 L1467 319.4 L1466 318.9 L1465 318.3 L1464 324.8 L1463 319.8 L1462 321.3 L1461 324.2 L1460 322.9 L1459 322.1 L1458 322.2 L1457 320.7 L1456 321.6 L1455 316.9 L1454 321.1 L1453 325 L1452 319.2 L1451 320.5 L1450 322.9 L1449 318.2 L1448 324.7 L1447 321.7 L1446 326.6 L1445 330.1 L1444 322.5 L1443 326.1 L1442 327.2 L1441 326.3 L1440 331.8 L1439 338.3 L1438 320.9 L1437 321.9 L1436 334.8 L1435 323 L1434 326.2 L1433 323.6 L1432 325 L1431 326.6 L1430 326.4 L1429 337.4 L1428 336.9 L1427 330.3 L1426 327.6 L1425 337.5 L1424 329.9 L1423 332 L1422 329.1 L1421 332.8 L1420 332.4 L1419 336.5 L1418 337.8 L1417 333.3 L1416 326.5 L1415 336.6 L1414 331 L1413 339 L1412 331.5 L1411 330.4 L1410 334.6 L1409 331 L1408 330.7 L1407 334.9 L1406 329.9 L1405 331.7 L1404 330.4 L1403 333.2 L1402 342 L1401 332.7 L1400 335.9 L1399 338.7 L1398 343 L1397 337.7 L1396 334.1 L1395 335.6 L1394 335.6 L1393 334.7 L1392 334.3 L1391 335.3 L1390 337.6 L1389 335 L1388 333.7 L1387 333.6 L1386 342.2 L1385 337.8 L1384 338.9 L1383 338.3 L1382 337.6 L1381 343.3 L1380 339.5 L1379 335 L1378 344.2 L1377 338.6 L1376 336.9 L1375 342 L1374 337 L1373 345.9 L1372 341.4 L1371 339.8 L1370 339.1 L1369 341.3 L1368 341.3 L1367 337.8 L1366 343.5 L1365 338.5 L1364 341.4 L1363 341.9 L1362 344.9 L1361 340.9 L1360 341.3 L1359 342.5 L1358 348.7 L1357 346.4 L1356 344.6 L1355 343.7 L1354 344 L1353 344.8 L1352 345.3 L1351 344.1 L1350 355.1 L1349 345.9 L1348 345.4 L1347 347.5 L1346 346.4 L1345 351.9 L1344 349 L1343 350.6 L1342 349.1 L1341 355.3 L1340 348.6 L1339 354.9 L1338 351.7 L1337 351.8 L1336 350 L1335 353.4 L1334 350.1 L1333 355.4 L1332 353.1 L1331 354.4 L1330 352.8 L1329 354.8 L1328 352.4 L1327 354.8 L1326 355.1 L1325 353 L1324 356 L1323 356.1 L1322 356.3 L1321 353.6 L1320 353.4 L1319 357.1 L1318 356 L1317 359.2 L1316 355 L1315 357.5 L1314 359.6 L1313 355.3 L1312 359.4 L1311 359.2 L1310 356.7 L1309 356.3 L1308 358.2 L1307 358.7 L1306 363.3 L1305 359.7 L1304 358.8 L1303 359.5 L1302 363.9 L1301 363.9 L1300 362.9 L1299 362.5 L1298 362.6 L1297 364.6 L1296 363.1 L1295 363.7 L1294 366.1 L1293 367.8 L1292 367 L1291 367.9 L1290 368.5 L1289 369.1 L1288 368.4 L1287 369.9 L1286 371.1 L1285 370.9 L1284 368.5 L1283 371.1 L1282 368.8 L1281 368.4 L1280 370 L1279 368.3 L1278 369.4 L1277 368.7 L1276 369.9 L1275 369.4 L1274 369.4 L1273 367.7 L1272 368.4 L1271 370.3 L1270 368.7 L1269 369 L1268 369.2 L1267 372.1 L1266 372.7 L1265 370.6 L1264 374.2 L1263 371.8 L1262 374.8 L1261 374.9 L1260 374.8 L1259 373.3 L1258 373.4 L1257 376 L1256 376.1 L1255 374.9 L1254 375.6 L1253 376.9 L1252 377.5 L1251 376.9 L1250 378.9 L1249 378.1 L1248 377.6 L1247 378.5 L1246 380.5 L1245 380 L1244 381.7 L1243 380.7 L1242 381.4 L1241 381.5 L1240 382.1 L1239 382.7 L1238 383.8 L1237 387 L1236 385.4 L1235 385.2 L1234 385.4 L1233 387.4 L1232 387.7 L1231 390.3 L1230 388.8 L1229 392 L1228 390.8 L1227 391.7 L1226 394.5 L1225 396.6 L1224 397.4 L1223 396.2 L1222 396.8 L1221 398.3 L1220 398.5 L1219 399.3 L1218 400.4 L1217 399.5 L1216 400.6 L1215 403 L1214 397.7 L1213 397.7 L1212 396.7 L1211 396.2 L1210 396.8 L1209 399.1 L1208 402 L1207 405.8 L1206 410.4 L1205 411.1 L1204 411.1 L1203 414 L1202 414.1 L1201 415.4 L1200 416 L1199 419.4 L1198 419.4 L1197 423.4 L1196 422.1 L1195 423.1 L1194 425.2 L1193 426.7 L1192 430.6 L1191 431.6 L1190 432.3 L1189 434.2 L1188 436.5 L1187 439 L1186 440.5 L1185 443 L1184 445.7 L1183 447.4 L1182 450.8 L1181 453.2 L1180 455.2 L1179 458.3 L1178 460.9 L1177 463.9 L1176 467.2 L1175 469.7 L1174 472.7 L1173 475.6 L1172 478.8 L1171 482.6 L1170 485.2 L1169 488.8 L1168 492.5 L1167 495.5 L1166 499.1 L1165 502.4 L1164 506.2 L1163 509.7 L1162 514.3 L1161 517.5 L1160 520.8 L1159 525 L1158 528.8 L1157 532.7 L1156 536.7 L1155 541.1 L1154 544.6 L1153 548.6 L1152 552.1 L1151 556.5 L1150 559.7 L1149 562.8 L1148 566.4 L1147 569.9 L1146 573.4 L1145 576.9 L1144 580.4 L1143 583.5 L1142 587.2 L1141 590.3 L1140 593.8 L1139 602.6 L1138 606.4 L1137 610 L1136 613.1 L1135 616.6 L1134 620.2 L1133 623.6 L1132 627 L1131 630.2 L1130 633.5 L1129 636.6 L1128 640 L1127 643 L1126 645.9 L1125 648.7 L1124 651.6 L1123 654.3 L1122 657 L1121 659.7 L1120 662.2 L1119 664.6 L1118 667 L1117 669.2 L1116 671.4 L1115 673.3 L1114 675.2 L1113 677.1 L1112 678.7 L1111 680.4 L1110 681.8 L1109 683.2 L1108 684.6 L1107 685.6 L1106 686.6 L1105 687.6 L1104 688.4 L1103 689 L1102 689.5 L1101 690 L1100 690.2 L1099 690.3 L1098 690.3Z" fill="#b4b4b4" stroke="none" opacity="0.9"/>
<path d="M1095.8 688.2 L1096.8 688.5 L1097.8 688.7 L1098.8 688.7 L1099.8 688.6 L1100.8 688.3 L1101.8 687.9 L1102.8 687.4 L1103.8 686.8 L1104.8 686 L1105.8 685.1 L1106.8 684.1 L1107.8 683 L1108.8 681.8 L1109.8 680.4 L1110.8 678.9 L1111.8 677.3 L1112.8 675.6 L1113.8 673.8 L1114.8 671.9 L1115.8 669.9 L1116.8 667.8 L1117.8 665.6 L1118.8 663.3 L1119.8 660.8 L1120.8 658.3 L1121.8 655.8 L1122.8 653.1 L1123.8 650.3 L1124.8 647.5 L1125.8 644.6 L1126.8 641.6 L1127.8 638.5 L1128.8 635.4 L1129.8 632.2 L1130.8 629 L1131.8 625.7 L1132.8 622.3 L1133.8 618.9 L1134.8 615.4 L1135.8 612 L1136.8 608.4 L1137.8 604.9 L1138.8 601.3 L1139.8 597.7 L1140.8 594 L1141.8 590.4 L1142.8 586.7 L1143.8 583 L1144.8 579.4 L1145.8 575.7 L1146.8 572 L1147.8 568.3 L1148.8 564.6 L1149.8 561 L1150.8 557.3 L1151.8 553.7 L1152.8 550.1 L1153.8 546.5 L1154.8 543 L1155.8 539.4 L1156.8 535.9 L1157.8 532.5 L1158.8 529 L1159.8 525.6 L1160.8 522.2 L1161.8 518.9 L1162.8 515.5 L1163.8 512.3 L1164.8 509 L1165.8 505.9 L1166.8 502.7 L1167.8 499.6 L1168.8 496.6 L1169.8 493.6 L1170.8 490.7 L1171.8 487.8 L1172.8 484.9 L1173.8 482.2 L1174.8 479.5 L1175.8 476.8 L1176.8 474.2 L1177.8 471.6 L1178.8 469.1 L1179.8 466.7 L1180.8 464.3 L1181.8 461.9 L1182.8 459.6 L1183.8 457.4 L1184.8 455.2 L1185.8 453 L1186.8 450.9 L1187.8 448.8 L1188.8 446.8 L1189.8 444.8 L1190.8 442.9 L1191.8 441 L1192.8 439.1 L1193.8 437.3 L1194.8 435.5 L1195.8 433.8 L1196.8 432.1 L1197.8 430.4 L1198.8 428.8 L1199.8 427.2 L1200.8 425.7 L1201.8 424.2 L1202.8 422.7 L1203.8 421.2 L1204.8 419.8 L1205.8 418.4 L1206.8 417 L1207.8 415.7 L1208.8 414.4 L1209.8 413.1 L1210.8 411.9 L1211.8 410.7 L1212.8 409.5 L1213.8 408.3 L1214.8 407.1 L1215.8 406 L1216.8 404.9 L1217.8 403.8 L1218.8 402.8 L1219.8 401.7 L1220.8 400.7 L1221.8 399.7 L1222.8 398.7 L1223.8 397.8 L1224.8 396.8 L1225.8 395.9 L1226.8 395 L1227.8 394.1 L1228.8 393.2 L1229.8 392.3 L1230.8 391.4 L1231.8 390.6 L1232.8 389.7 L1233.8 388.9 L1234.8 388.1 L1235.8 387.3 L1236.8 386.5 L1237.8 385.7 L1238.8 384.9 L1239.8 384.1 L1240.8 383.4 L1241.8 382.6 L1242.8 381.9 L1243.8 381.2 L1244.8 380.4 L1245.8 379.7 L1246.8 379 L1247.8 378.3 L1248.8 377.6 L1249.8 376.9 L1250.8 376.3 L1251.8 375.6 L1252.8 374.9 L1253.8 374.3 L1254.8 373.6 L1255.8 373 L1256.8 372.4 L1257.8 371.7 L1258.8 371.1 L1259.8 370.5 L1260.8 369.9 L1261.8 369.3 L1262.8 368.7 L1263.8 368 L1264.8 367.4 L1265.8 366.9 L1266.8 366.3 L1267.8 365.7 L1268.8 365.1 L1269.8 364.5 L1270.8 363.9 L1271.8 363.3 L1272.8 362.8 L1273.8 362.2 L1274.8 361.6 L1275.8 361 L1276.8 360.5 L1277.8 359.9 L1278.8 359.3 L1279.8 358.8 L1280.8 358.2 L1281.8 357.6 L1282.8 357.1 L1283.8 356.4 L1284.8 355.7 L1285.8 354.9 L1286.8 354.2 L1287.8 353.5 L1288.8 352.7 L1289.8 352 L1290.8 351.2 L1291.8 350.4 L1292.8 349.7 L1293.8 348.9 L1294.8 348.1 L1295.8 347.3 L1296.8 346.6 L1297.8 345.8 L1298.8 345 L1299.8 344.2 L1300.8 343.4 L1301.8 342.7 L1302.8 341.9 L1303.8 341.1 L1304.8 340.4 L1305.8 339.6 L1306.8 338.8 L1307.8 338.1 L1308.8 337.4 L1309.8 336.6 L1310.8 335.9 L1311.8 335.2 L1312.8 334.4 L1313.8 333.7 L1314.8 332.9 L1315.8 332.2 L1316.8 331.4 L1317.8 330.7 L1318.8 329.9 L1319.8 329.2 L1320.8 328.4 L1321.8 327.7 L1322.8 327 L1323.8 326.2 L1324.8 325.5 L1325.8 324.7 L1326.8 324 L1327.8 323.3 L1328.8 322.6 L1329.8 321.9 L1330.8 321.2 L1331.8 320.5 L1332.8 319.9 L1333.8 319.2 L1334.8 318.6 L1335.8 317.9 L1336.8 317.3 L1337.8 316.7 L1338.8 316.1 L1339.8 315.6 L1340.8 315 L1341.8 314.5 L1342.8 314 L1343.8 313.4 L1344.8 312.9 L1345.8 312.4 L1346.8 311.9 L1347.8 311.4 L1348.8 310.9 L1349.8 310.5 L1350.8 310 L1351.8 309.5 L1352.8 309.1 L1353.8 308.6 L1354.8 308.2 L1355.8 307.8 L1356.8 307.3 L1357.8 306.9 L1358.8 306.5 L1359.8 306 L1360.8 305.6 L1361.8 305.2 L1362.8 304.8 L1363.8 304.4 L1364.8 304 L1365.8 303.6 L1366.8 303.2 L1367.8 302.8 L1368.8 302.4 L1369.8 302 L1370.8 301.6 L1371.8 301.2 L1372.8 300.8 L1373.8 300.4 L1374.8 300 L1375.8 299.6 L1376.8 299.2 L1377.8 298.9 L1378.8 298.5 L1379.8 298.1 L1380.8 297.7 L1381.8 297.3 L1382.8 297 L1383.8 296.6 L1384.8 296.2 L1385.8 295.9 L1386.8 295.5 L1387.8 295.1 L1388.8 294.8 L1389.8 294.4 L1390.8 294.1 L1391.8 293.8 L1392.8 293.5 L1393.8 293.1 L1394.8 292.8 L1395.8 292.5 L1396.8 292.2 L1397.8 292 L1398.8 291.7 L1399.8 291.4 L1400.8 291.2 L1401.8 290.9 L1402.8 290.7 L1403.8 290.4 L1404.8 290.2 L1405.8 290 L1406.8 289.7 L1407.8 289.5 L1408.8 289.3 L1409.8 289.1 L1410.8 288.9 L1411.8 288.6 L1412.8 288.4 L1413.8 288.2 L1414.8 288 L1415.8 287.8 L1416.8 287.6 L1417.8 287.4 L1418.8 287.3 L1419.8 287.1 L1420.8 286.9 L1421.8 286.7 L1422.8 286.5 L1423.8 286.4 L1424.8 286.2 L1425.8 286 L1426.8 285.9 L1427.8 285.7 L1428.8 285.5 L1429.8 285.4 L1430.8 285.2 L1431.8 285.1 L1432.8 284.9 L1433.8 284.7 L1434.8 284.6 L1435.8 284.4 L1436.8 284.3 L1437.8 284.1 L1438.8 284 L1439.8 283.8 L1440.8 283.7 L1441.8 283.6 L1442.8 283.4 L1443.8 283.3 L1444.8 283.1 L1445.8 283 L1446.8 282.9 L1447.8 282.8 L1448.8 282.6 L1449.8 282.5 L1450.8 282.4 L1451.8 282.3 L1452.8 282.1 L1453.8 282 L1454.8 281.9 L1455.8 281.8 L1456.8 281.7 L1457.8 281.6 L1458.8 281.5 L1459.8 281.4 L1460.8 281.3 L1461.8 281.2 L1462.8 281.2 L1463.8 281.1 L1464.8 281 L1465.8 280.9 L1466.8 280.8 L1467.8 280.8 L1468.8 280.7 L1469.8 280.6 L1470.8 280.5 L1471.8 280.5 L1472.8 280.4 L1473.8 280.3 L1474.8 280.3 L1475.8 280.2 L1476.8 280.1 L1477.8 280.1 L1478.8 280 L1479.8 279.9 L1480.8 279.9 L1481.8 279.8 L1482.8 279.8 L1483.8 279.7 L1484.8 279.6 L1485.8 279.6 L1486.8 279.5 L1487.8 279.4 L1488.8 279.4 L1489.8 279.3 L1490.8 279.2 L1491.8 279.2 L1492.8 279.1 L1493.8 279 L1494.8 279 L1495.8 278.9 L1496.8 278.8 L1497.8 278.8 L1498.8 278.7 L1499.8 278.6 L1500.8 278.6 L1501.8 278.5 L1502.8 278.5 L1503.8 278.4 L1504.8 278.3 L1505.8 278.3 L1506.8 278.2 L1507.8 278.1 L1508.8 278.1 L1509.8 278 L1510.8 277.9 L1511.8 277.9 L1512.8 277.8 L1513.8 277.7 L1514.8 277.6 L1515.8 277.6 L1516.8 277.5 L1517.8 277.4 L1518.8 277.3 L1519.8 277.2 L1520.8 277.1 L1521.8 277 L1522.8 276.9 L1523.8 276.8 L1524.8 276.7 L1525.8 276.6 L1526.8 276.5 L1527.8 276.4 L1528.8 276.3 L1529.8 276.2 L1530.8 276.1 L1531.8 275.9 L1532.8 275.8 L1533.8 275.7 L1534.8 275.6 L1535.8 275.4 L1536.8 275.3 L1537.8 275.2 L1538.8 275 L1539.8 274.9 L1540.8 274.7 L1541.8 274.6 L1542.8 274.4 L1543.8 274.3 L1544.8 274.2 L1545.8 274 L1546.8 273.8 L1547.8 273.7 L1548.8 273.5 L1549.8 273.4 L1550.8 273.2 L1551.8 273.1 L1552.8 272.9 L1553.8 272.7 L1554.8 272.6 L1555.8 272.4 L1556.8 272.2 L1557.8 272.1 L1558.8 271.9 L1559.8 271.7 L1560.8 271.5 L1561.8 271.3 L1562.8 271.1 L1563.8 270.9 L1564.8 270.7 L1565.8 270.5 L1566.8 270.3 L1567.8 270.1 L1568.8 269.9 L1569.8 269.7 L1570.8 269.5 L1571.8 269.3 L1572.8 269.1 L1573.8 268.9 L1574.8 268.6 L1575.8 268.4 L1576.8 268.2 L1577.8 267.9 L1578.8 267.7 L1579.8 267.5 L1580.8 267.2 L1581.8 267 L1582.8 266.7 L1583.8 266.5 L1584.8 266.2 L1585.8 266 L1586.8 265.7 L1587.8 265.4 L1588.8 265.1 L1589.8 264.9 L1590.8 264.6 L1591.8 264.3 L1592.8 264 L1593.8 263.7 L1594.8 263.4 L1595.8 263.1 L1596.8 262.7 L1597.8 262.4 L1598.8 262.1 L1599.8 261.8 L1600.8 261.5 L1601.8 261.2 L1602.8 260.8 L1603.8 260.5 L1604.8 260.2 L1605.8 259.9 L1606.8 259.5 L1607.8 259.2 L1608.8 258.9 L1609.8 258.6 L1610.8 258.2 L1611.8 257.9 L1612.8 257.6 L1613.8 257.3 L1614.8 256.9 L1615.8 256.6 L1616.8 256.3 L1617.8 255.9 L1618.8 255.6 L1619.8 255.3 L1620.8 254.9 L1621.8 254.6 L1622.8 254.2 L1623.8 253.9 L1624.8 253.5 L1625.8 253.2 L1626.8 252.8 L1627.8 252.5 L1628.8 252.1 L1629.8 251.8 L1630.8 251.4 L1631.8 251.1 L1632.8 250.7 L1633.8 250.3 L1634.8 250 L1635.8 249.6 L1636.8 249.2 L1637.8 248.9 L1638.8 248.5 L1639.8 248.1 L1640.8 247.8 L1641.8 247.4 L1642.8 247 L1643.8 246.6 L1644.8 246.3 L1645.8 245.9 L1646.8 245.5 L1647.8 245.1 L1648.8 244.7 L1649.8 244.3 L1650.8 243.9 L1651.8 243.5 L1652.8 243.2 L1653.8 242.8 L1654.8 242.4 L1655.8 242 L1656.8 241.6 L1657.8 241.2 L1658.8 240.8 L1659.8 240.3 L1660.8 239.9 L1661.8 239.5 L1662.8 239.1 L1663.8 238.7 L1664.8 238.3 L1665.8 237.9 L1666.8 237.5 L1667.8 237 L1668.8 236.6 L1669.8 236.2 L1670.8 235.8 L1671.8 235.4 L1672.8 234.9 L1673.8 234.5 L1674.8 234.1 L1675.8 233.6 L1676.8 233.2 L1677.8 232.8 L1678.8 232.3 L1679.8 231.9 L1680.8 231.5 L1681.8 231 L1682.8 230.6 L1683.8 230.1 L1684.8 229.7 L1685.8 229.2 L1686.8 228.8 L1687.8 228.3 L1688.8 227.9 L1689.8 227.4 L1690.8 227 L1691.8 226.5 L1692.8 226 L1693.8 225.6 L1694.8 225.1 L1695.8 224.7 L1696.8 224.2 L1697.8 223.7 L1698.8 223.2 L1699.8 222.8 L1700.8 222.3 L1701.8 221.8 L1702.8 221.4 L1703.8 220.9 L1704.8 220.4 L1705.8 219.9 L1706.8 219.4 L1707.8 218.9 L1708.8 218.5 L1709.8 218 L1710.8 217.5 L1711.8 217 L1712.8 216.5 L1713.8 216 L1714.8 215.5 L1715.8 215 L1716.8 214.5 L1717.8 214 L1718.8 213.5 L1719.8 213 L1720.8 212.5 L1721.8 212 L1722.8 211.5 L1723.8 211 L1724.8 210.4 L1725.8 209.9 L1726.8 209.4 L1727.8 208.9 L1728.8 208.4 L1729.8 207.9 L1730.8 207.3 L1731.8 206.8 L1732.8 206.3 L1733.8 205.8 L1734.8 205.2 L1735.8 204.7 L1736.8 204.2 L1737.8 203.6 L1738.8 203.1 L1739.8 202.6 L1740.8 202 L1741.8 201.5 L1742.8 200.9 L1743.8 200.4 L1744.8 199.8 L1745.8 199.3 L1746.8 198.7 L1747.8 198.2 L1748.8 197.6 L1749.8 197.1 L1750.8 196.5 L1751.8 196 L1752.8 195.4 L1753.8 194.8 L1754.8 194.3 L1755.8 193.7 L1756.8 193.1 L1757.8 192.6 L1758.8 192 L1759.8 191.4 L1760.8 190.9 L1761.8 190.3 L1762.8 189.7 L1763.8 189.1 L1764.8 188.5 L1765.8 187.9 L1766.8 187.4 L1767.8 186.7 L1768.8 186.1 L1769.8 185.5 L1770.8 184.9 L1771.8 184.3 L1772.8 183.7 L1773.8 183.1 L1774.8 182.5 L1775.8 181.9 L1776.8 181.3 L1777.8 180.6 L1778.8 180 L1779.8 179.4 L1780.8 178.8 L1781.8 178.2 L1782.8 177.6 L1783.8 177 L1784.8 176.4 L1785.8 175.8 L1786.8 175.2 L1787.8 174.6 L1788.8 174 L1789.8 173.4 L1790.8 172.9 L1791.8 172.3 L1792.8 171.7 L1793.8 171.2 L1794.8 170.6 L1795.8 170 L1796.8 169.5 L1797.8 168.9 L1798.8 168.4 L1799.8 167.8 L1800.8 167.3 L1801.8 166.7 L1802.8 166.2 L1803.8 165.6 L1804.8 165.1 L1805.8 164.5 L1806.8 164 L1807.8 163.5 L1808.8 162.9 L1809.8 162.4 L1810.8 161.8 L1811.8 161.3 L1812.8 160.8 L1813.8 160.3 L1814.8 159.7 L1815.8 159.2 L1816.8 158.7 L1817.8 158.2 L1818.8 157.7 L1819.8 157.1 L1820.8 156.6 L1821.8 156.1 L1822.8 155.6 L1823.8 155.1 L1824.8 154.6 L1824.8 246.2 L1823.8 246.4 L1822.8 246.6 L1821.8 246.8 L1820.8 247 L1819.8 247.1 L1818.8 247.3 L1817.8 247.5 L1816.8 247.7 L1815.8 247.9 L1814.8 248 L1813.8 248.2 L1812.8 248.4 L1811.8 248.6 L1810.8 248.8 L1809.8 248.9 L1808.8 249.1 L1807.8 249.3 L1806.8 249.5 L1805.8 249.7 L1804.8 249.8 L1803.8 250 L1802.8 250.2 L1801.8 250.4 L1800.8 250.5 L1799.8 250.7 L1798.8 250.9 L1797.8 251.1 L1796.8 251.2 L1795.8 251.4 L1794.8 251.6 L1793.8 251.8 L1792.8 251.9 L1791.8 252.1 L1790.8 252.3 L1789.8 252.5 L1788.8 252.6 L1787.8 252.8 L1786.8 253 L1785.8 253.2 L1784.8 253.3 L1783.8 253.5 L1782.8 253.7 L1781.8 253.9 L1780.8 254 L1779.8 254.2 L1778.8 254.4 L1777.8 254.5 L1776.8 254.7 L1775.8 254.9 L1774.8 255 L1773.8 255.2 L1772.8 255.4 L1771.8 255.6 L1770.8 255.7 L1769.8 255.9 L1768.8 256.1 L1767.8 256.2 L1766.8 256.4 L1765.8 256.6 L1764.8 256.7 L1763.8 256.9 L1762.8 257.1 L1761.8 257.2 L1760.8 257.4 L1759.8 257.6 L1758.8 257.7 L1757.8 257.9 L1756.8 258.1 L1755.8 258.2 L1754.8 258.4 L1753.8 258.6 L1752.8 258.7 L1751.8 258.9 L1750.8 259.1 L1749.8 259.2 L1748.8 259.4 L1747.8 259.6 L1746.8 259.7 L1745.8 259.9 L1744.8 260.1 L1743.8 260.2 L1742.8 260.4 L1741.8 260.5 L1740.8 260.7 L1739.8 260.9 L1738.8 261 L1737.8 261.2 L1736.8 261.3 L1735.8 261.5 L1734.8 261.6 L1733.8 261.8 L1732.8 261.9 L1731.8 262 L1730.8 262.2 L1729.8 262.3 L1728.8 262.4 L1727.8 262.6 L1726.8 262.7 L1725.8 262.8 L1724.8 263 L1723.8 263.1 L1722.8 263.2 L1721.8 263.3 L1720.8 263.5 L1719.8 263.6 L1718.8 263.7 L1717.8 263.8 L1716.8 263.9 L1715.8 264.1 L1714.8 264.2 L1713.8 264.3 L1712.8 264.4 L1711.8 264.5 L1710.8 264.6 L1709.8 264.8 L1708.8 264.9 L1707.8 265 L1706.8 265.1 L1705.8 265.2 L1704.8 265.3 L1703.8 265.4 L1702.8 265.5 L1701.8 265.6 L1700.8 265.8 L1699.8 265.9 L1698.8 266 L1697.8 266.1 L1696.8 266.2 L1695.8 266.3 L1694.8 266.4 L1693.8 266.5 L1692.8 266.6 L1691.8 266.7 L1690.8 266.8 L1689.8 266.9 L1688.8 267 L1687.8 267.1 L1686.8 267.2 L1685.8 267.3 L1684.8 267.4 L1683.8 267.5 L1682.8 267.6 L1681.8 267.7 L1680.8 267.8 L1679.8 267.9 L1678.8 268 L1677.8 268.1 L1676.8 268.2 L1675.8 268.3 L1674.8 268.4 L1673.8 268.5 L1672.8 268.6 L1671.8 268.7 L1670.8 268.8 L1669.8 268.9 L1668.8 269 L1667.8 269.1 L1666.8 269.2 L1665.8 269.3 L1664.8 269.4 L1663.8 269.5 L1662.8 269.6 L1661.8 269.7 L1660.8 269.8 L1659.8 269.9 L1658.8 270 L1657.8 270.1 L1656.8 270.2 L1655.8 270.3 L1654.8 270.4 L1653.8 270.5 L1652.8 270.6 L1651.8 270.7 L1650.8 270.8 L1649.8 270.9 L1648.8 271 L1647.8 271.1 L1646.8 271.2 L1645.8 271.3 L1644.8 271.4 L1643.8 271.5 L1642.8 271.6 L1641.8 271.7 L1640.8 271.8 L1639.8 271.9 L1638.8 272 L1637.8 272.1 L1636.8 272.2 L1635.8 272.3 L1634.8 272.4 L1633.8 272.5 L1632.8 272.6 L1631.8 272.7 L1630.8 272.8 L1629.8 272.9 L1628.8 273 L1627.8 273.1 L1626.8 273.2 L1625.8 273.3 L1624.8 273.5 L1623.8 273.6 L1622.8 273.7 L1621.8 273.8 L1620.8 273.9 L1619.8 274 L1618.8 274.1 L1617.8 274.2 L1616.8 274.2 L1615.8 274.3 L1614.8 274.4 L1613.8 274.5 L1612.8 274.6 L1611.8 274.7 L1610.8 274.7 L1609.8 274.8 L1608.8 274.9 L1607.8 275 L1606.8 275 L1605.8 275.1 L1604.8 275.2 L1603.8 275.2 L1602.8 275.3 L1601.8 275.3 L1600.8 275.4 L1599.8 275.5 L1598.8 275.5 L1597.8 275.6 L1596.8 275.6 L1595.8 275.7 L1594.8 275.8 L1593.8 275.8 L1592.8 275.9 L1591.8 275.9 L1590.8 276 L1589.8 276 L1588.8 276.1 L1587.8 276.1 L1586.8 276.2 L1585.8 276.3 L1584.8 276.3 L1583.8 276.4 L1582.8 276.4 L1581.8 276.5 L1580.8 276.5 L1579.8 276.6 L1578.8 276.7 L1577.8 276.7 L1576.8 276.8 L1575.8 276.8 L1574.8 276.9 L1573.8 276.9 L1572.8 277 L1571.8 277 L1570.8 277.1 L1569.8 277.2 L1568.8 277.2 L1567.8 277.3 L1566.8 277.3 L1565.8 277.4 L1564.8 277.4 L1563.8 277.5 L1562.8 277.5 L1561.8 277.6 L1560.8 277.7 L1559.8 277.7 L1558.8 277.8 L1557.8 277.8 L1556.8 277.9 L1555.8 278 L1554.8 278 L1553.8 278.1 L1552.8 278.2 L1551.8 278.3 L1550.8 278.3 L1549.8 278.4 L1548.8 278.5 L1547.8 278.6 L1546.8 278.7 L1545.8 278.8 L1544.8 278.9 L1543.8 279 L1542.8 279.1 L1541.8 279.2 L1540.8 279.3 L1539.8 279.4 L1538.8 279.5 L1537.8 279.6 L1536.8 279.7 L1535.8 279.8 L1534.8 279.9 L1533.8 280 L1532.8 280.2 L1531.8 280.3 L1530.8 280.4 L1529.8 280.5 L1528.8 280.6 L1527.8 280.8 L1526.8 280.9 L1525.8 281 L1524.8 281.1 L1523.8 281.3 L1522.8 281.4 L1521.8 281.5 L1520.8 281.6 L1519.8 281.8 L1518.8 281.9 L1517.8 282 L1516.8 282.2 L1515.8 282.3 L1514.8 282.4 L1513.8 282.6 L1512.8 282.7 L1511.8 282.9 L1510.8 283 L1509.8 283.2 L1508.8 283.3 L1507.8 283.5 L1506.8 283.6 L1505.8 283.8 L1504.8 283.9 L1503.8 284.1 L1502.8 284.2 L1501.8 284.4 L1500.8 284.5 L1499.8 284.7 L1498.8 284.9 L1497.8 285 L1496.8 285.2 L1495.8 285.3 L1494.8 285.5 L1493.8 285.7 L1492.8 285.8 L1491.8 286 L1490.8 286.1 L1489.8 286.3 L1488.8 286.5 L1487.8 286.6 L1486.8 286.8 L1485.8 286.9 L1484.8 287.1 L1483.8 287.3 L1482.8 287.4 L1481.8 287.6 L1480.8 287.7 L1479.8 287.9 L1478.8 288.1 L1477.8 288.2 L1476.8 288.4 L1475.8 288.6 L1474.8 288.7 L1473.8 288.9 L1472.8 289.1 L1471.8 289.2 L1470.8 289.4 L1469.8 289.6 L1468.8 289.7 L1467.8 289.9 L1466.8 290.1 L1465.8 290.3 L1464.8 290.5 L1463.8 290.7 L1462.8 290.8 L1461.8 291 L1460.8 291.2 L1459.8 291.4 L1458.8 291.6 L1457.8 291.8 L1456.8 292 L1455.8 292.2 L1454.8 292.5 L1453.8 292.7 L1452.8 292.9 L1451.8 293.1 L1450.8 293.3 L1449.8 293.6 L1448.8 293.8 L1447.8 294 L1446.8 294.2 L1445.8 294.5 L1444.8 294.7 L1443.8 294.9 L1442.8 295.2 L1441.8 295.4 L1440.8 295.7 L1439.8 295.9 L1438.8 296.1 L1437.8 296.4 L1436.8 296.6 L1435.8 296.9 L1434.8 297.1 L1433.8 297.4 L1432.8 297.6 L1431.8 297.9 L1430.8 298.1 L1429.8 298.4 L1428.8 298.6 L1427.8 298.9 L1426.8 299.1 L1425.8 299.4 L1424.8 299.6 L1423.8 299.9 L1422.8 300.1 L1421.8 300.4 L1420.8 300.6 L1419.8 300.9 L1418.8 301.1 L1417.8 301.4 L1416.8 301.6 L1415.8 301.9 L1414.8 302.1 L1413.8 302.4 L1412.8 302.7 L1411.8 303 L1410.8 303.2 L1409.8 303.5 L1408.8 303.8 L1407.8 304.1 L1406.8 304.4 L1405.8 304.7 L1404.8 304.9 L1403.8 305.3 L1402.8 305.6 L1401.8 305.9 L1400.8 306.2 L1399.8 306.5 L1398.8 306.8 L1397.8 307.2 L1396.8 307.5 L1395.8 307.9 L1394.8 308.3 L1393.8 308.6 L1392.8 309 L1391.8 309.4 L1390.8 309.8 L1389.8 310.2 L1388.8 310.6 L1387.8 311 L1386.8 311.4 L1385.8 311.8 L1384.8 312.2 L1383.8 312.6 L1382.8 313.1 L1381.8 313.5 L1380.8 313.9 L1379.8 314.3 L1378.8 314.8 L1377.8 315.2 L1376.8 315.6 L1375.8 316 L1374.8 316.5 L1373.8 316.9 L1372.8 317.3 L1371.8 317.7 L1370.8 318.1 L1369.8 318.6 L1368.8 319 L1367.8 319.4 L1366.8 319.8 L1365.8 320.2 L1364.8 320.6 L1363.8 321 L1362.8 321.4 L1361.8 321.8 L1360.8 322.2 L1359.8 322.7 L1358.8 323.1 L1357.8 323.5 L1356.8 323.9 L1355.8 324.3 L1354.8 324.7 L1353.8 325.2 L1352.8 325.6 L1351.8 326 L1350.8 326.4 L1349.8 326.9 L1348.8 327.3 L1347.8 327.8 L1346.8 328.2 L1345.8 328.7 L1344.8 329.1 L1343.8 329.6 L1342.8 330 L1341.8 330.5 L1340.8 331 L1339.8 331.5 L1338.8 332 L1337.8 332.5 L1336.8 333 L1335.8 333.5 L1334.8 334.1 L1333.8 334.6 L1332.8 335.1 L1331.8 335.7 L1330.8 336.2 L1329.8 336.8 L1328.8 337.4 L1327.8 337.9 L1326.8 338.5 L1325.8 339.1 L1324.8 339.7 L1323.8 340.3 L1322.8 340.8 L1321.8 341.4 L1320.8 342 L1319.8 342.6 L1318.8 343.2 L1317.8 343.8 L1316.8 344.4 L1315.8 345 L1314.8 345.6 L1313.8 346.2 L1312.8 346.8 L1311.8 347.4 L1310.8 348 L1309.8 348.6 L1308.8 349.2 L1307.8 349.9 L1306.8 350.5 L1305.8 351.1 L1304.8 351.8 L1303.8 352.5 L1302.8 353.1 L1301.8 353.8 L1300.8 354.5 L1299.8 355.2 L1298.8 355.8 L1297.8 356.5 L1296.8 357.2 L1295.8 357.9 L1294.8 358.6 L1293.8 359.2 L1292.8 359.9 L1291.8 360.6 L1290.8 361.2 L1289.8 361.8 L1288.8 362.5 L1287.8 363.1 L1286.8 363.7 L1285.8 364.3 L1284.8 364.9 L1283.8 365.4 L1282.8 366 L1281.8 366.5 L1280.8 367 L1279.8 367.5 L1278.8 368 L1277.8 368.4 L1276.8 368.8 L1275.8 369.2 L1274.8 369.6 L1273.8 370 L1272.8 370.4 L1271.8 370.7 L1270.8 371.1 L1269.8 371.4 L1268.8 371.7 L1267.8 372.1 L1266.8 372.4 L1265.8 372.7 L1264.8 373 L1263.8 373.4 L1262.8 373.7 L1261.8 374 L1260.8 374.4 L1259.8 374.7 L1258.8 375.1 L1257.8 375.5 L1256.8 375.8 L1255.8 376.3 L1254.8 376.8 L1253.8 377.5 L1252.8 378.1 L1251.8 378.8 L1250.8 379.5 L1249.8 380.1 L1248.8 380.8 L1247.8 381.5 L1246.8 382.2 L1245.8 382.9 L1244.8 383.6 L1243.8 384.4 L1242.8 385.1 L1241.8 385.8 L1240.8 386.6 L1239.8 387.3 L1238.8 388.1 L1237.8 388.9 L1236.8 389.7 L1235.8 390.5 L1234.8 391.3 L1233.8 392.1 L1232.8 392.9 L1231.8 393.8 L1230.8 394.6 L1229.8 395.5 L1228.8 396.4 L1227.8 397.3 L1226.8 398.2 L1225.8 399.1 L1224.8 400 L1223.8 401 L1222.8 401.9 L1221.8 402.9 L1220.8 403.9 L1219.8 404.9 L1218.8 406 L1217.8 407 L1216.8 408.1 L1215.8 409.2 L1214.8 410.3 L1213.8 411.5 L1212.8 412.7 L1211.8 413.9 L1210.8 415.1 L1209.8 416.3 L1208.8 417.6 L1207.8 418.9 L1206.8 420.2 L1205.8 421.6 L1204.8 423 L1203.8 424.4 L1202.8 425.9 L1201.8 427.4 L1200.8 428.9 L1199.8 430.4 L1198.8 432 L1197.8 433.6 L1196.8 435.3 L1195.8 437 L1194.8 438.7 L1193.8 440.5 L1192.8 442.3 L1191.8 444.2 L1190.8 446.1 L1189.8 448 L1188.8 450 L1187.8 452 L1186.8 454.1 L1185.8 456.2 L1184.8 458.4 L1183.8 460.6 L1182.8 462.8 L1181.8 465.1 L1180.8 467.5 L1179.8 469.9 L1178.8 472.3 L1177.8 474.8 L1176.8 477.4 L1175.8 480 L1174.8 482.7 L1173.8 485.4 L1172.8 488.1 L1171.8 491 L1170.8 493.9 L1169.8 496.8 L1168.8 499.8 L1167.8 502.8 L1166.8 505.9 L1165.8 509.1 L1164.8 512.2 L1163.8 515.5 L1162.8 518.7 L1161.8 522.1 L1160.8 525.4 L1159.8 528.8 L1158.8 532.2 L1157.8 535.7 L1156.8 539.1 L1155.8 542.6 L1154.8 546.2 L1153.8 549.7 L1152.8 553.3 L1151.8 556.9 L1150.8 560.5 L1149.8 564.2 L1148.8 567.8 L1147.8 571.5 L1146.8 575.2 L1145.8 578.9 L1144.8 582.6 L1143.8 586.2 L1142.8 589.9 L1141.8 593.6 L1140.8 597.2 L1139.8 600.9 L1138.8 604.5 L1137.8 608.1 L1136.8 611.6 L1135.8 615.2 L1134.8 618.6 L1133.8 622.1 L1132.8 625.5 L1131.8 628.9 L1130.8 632.2 L1129.8 635.4 L1128.8 638.6 L1127.8 641.7 L1126.8 644.8 L1125.8 647.8 L1124.8 650.7 L1123.8 653.5 L1122.8 656.3 L1121.8 659 L1120.8 661.5 L1119.8 664 L1118.8 666.5 L1117.8 668.8 L1116.8 671 L1115.8 673.1 L1114.8 675.1 L1113.8 677 L1112.8 678.8 L1111.8 680.5 L1110.8 682.1 L1109.8 683.6 L1108.8 685 L1107.8 686.2 L1106.8 687.3 L1105.8 688.3 L1104.8 689.2 L1103.8 690 L1102.8 690.6 L1101.8 691.1 L1100.8 691.5 L1099.8 691.8 L1098.8 691.9 L1097.8 691.9 L1096.8 691.7 L1095.8 691.4Z" fill="#1fd08a" stroke="none" opacity="0.92"/>
<path d="M1098 690.3 L1099 690.3 L1100 690.1 L1101 689.9 L1102 689.4 L1103 688.9 L1104 688.3 L1105 687.5 L1106 686.5 L1107 685.5 L1108 684.3 L1109 683.1 L1110 681.7 L1111 680.2 L1112 678.6 L1113 676.9 L1114 675 L1115 673.1 L1116 671.2 L1117 668.8 L1118 666.7 L1119 664.3 L1120 662 L1121 659.4 L1122 656.8 L1123 654 L1124 651.4 L1125 648.5 L1126 645.6 L1127 642.6 L1128 639.5 L1129 636.2 L1130 633.2 L1131 630 L1132 626.6 L1133 623.3 L1134 620 L1135 616.2 L1136 612.7 L1137 609.5 L1138 606 L1139 602.1 L1140 593.2 L1141 589.9 L1142 586.5 L1143 583 L1144 579.8 L1145 576.2 L1146 572.7 L1147 569.6 L1148 565.9 L1149 562.5 L1150 559.1 L1151 555.6 L1152 551.6 L1153 547.8 L1154 543.7 L1155 540.2 L1156 536.1 L1157 531.7 L1158 527.8 L1159 524.2 L1160 520.4 L1161 517 L1162 513.3 L1163 509.2 L1164 505.5 L1165 501.7 L1166 498.4 L1167 494.9 L1168 492.1 L1169 488.2 L1170 484 L1171 480.9 L1172 478.2 L1173 474.5 L1174 471.3 L1175 468.6 L1176 466.1 L1177 462.9 L1178 459.3 L1179 457.7 L1180 454.2 L1181 451.2 L1182 447.7 L1183 445.5 L1184 444.8 L1185 440.2 L1186 439 L1187 438.3 L1188 434.9 L1189 433.2 L1190 429.4 L1191 430.5 L1192 429.2 L1193 425.9 L1194 420.6 L1195 419.2 L1196 421.4 L1197 422.1 L1198 418.7 L1199 418.5 L1200 414.5 L1201 413.1 L1202 412.4 L1203 411.9 L1204 407.1 L1205 409.2 L1206 409.4 L1207 402.6 L1208 398 L1209 398.2 L1210 394.8 L1211 390 L1212 395.7 L1213 396.5 L1214 395.7 L1215 401.5 L1216 399.5 L1217 397 L1218 398.3 L1219 396 L1220 395.4 L1221 396.9 L1222 394.6 L1223 393.2 L1224 395.9 L1225 394.1 L1226 392.3 L1227 390.6 L1228 389.4 L1229 390.2 L1230 387.3 L1231 389.1 L1232 384.5 L1233 383.8 L1234 381.7 L1235 382.3 L1236 383.4 L1237 384.6 L1238 381.1 L1239 380.8 L1240 379.9 L1241 378.7 L1242 377.4 L1243 378.5 L1244 376 L1245 377.4 L1246 377.3 L1247 375.9 L1248 374.8 L1249 373.8 L1250 377.2 L1251 373.8 L1252 375.8 L1253 375.1 L1254 373.3 L1255 371.7 L1256 373.6 L1257 374.6 L1258 371.3 L1259 370.9 L1260 372.3 L1261 371.4 L1262 372.9 L1263 369.8 L1264 369.9 L1265 367.5 L1266 370.7 L1267 367.6 L1268 364.1 L1269 365.8 L1270 366 L1271 368.3 L1272 365.6 L1273 365 L1274 365.7 L1275 367.3 L1276 365.6 L1277 367 L1278 367.1 L1279 366.1 L1280 366.5 L1281 366.6 L1282 365 L1283 367.7 L1284 364.4 L1285 367 L1286 367.4 L1287 365.3 L1288 363.5 L1289 363.6 L1290 364.5 L1291 364.7 L1292 363.6 L1293 364 L1294 361.2 L1295 361.3 L1296 358 L1297 360.6 L1298 359.9 L1299 358.1 L1300 359.9 L1301 359.2 L1302 352.4 L1303 355.2 L1304 353.3 L1305 356.5 L1306 359.6 L1307 354.5 L1308 353.7 L1309 353 L1310 353.5 L1311 354 L1312 355 L1313 350.7 L1314 354.1 L1315 350.3 L1316 351.1 L1317 353 L1318 352.3 L1319 348.6 L1320 348 L1321 348.3 L1322 348.9 L1323 351.2 L1324 346.7 L1325 348.7 L1326 349.6 L1327 349.3 L1328 348.8 L1329 350.7 L1330 348.8 L1331 348.8 L1332 348.1 L1333 350.3 L1334 342.8 L1335 347.3 L1336 345.4 L1337 344.2 L1338 342.4 L1339 339.8 L1340 342.2 L1341 341.9 L1342 344 L1343 339.9 L1344 344.9 L1345 343.6 L1346 341.3 L1347 339.6 L1348 338.7 L1349 337.5 L1350 338.2 L1351 339.3 L1352 338.8 L1353 335.4 L1354 336.9 L1355 335.6 L1356 337.3 L1357 341.5 L1358 339.2 L1359 335.8 L1360 331.7 L1361 330.9 L1362 330 L1363 335.2 L1364 332.7 L1365 333.4 L1366 331.9 L1367 332.8 L1368 336.2 L1369 331.5 L1370 330.7 L1371 329.4 L1372 333.1 L1373 329.1 L1374 327.3 L1375 326.3 L1376 325.8 L1377 330.3 L1378 336.7 L1379 328.6 L1380 331.1 L1381 330.3 L1382 326 L1383 327.1 L1384 327.5 L1385 326 L1386 332.5 L1387 323.8 L1388 327.1 L1389 328.3 L1390 325.5 L1391 326.7 L1392 328.9 L1393 327.2 L1394 327.2 L1395 327.9 L1396 320.3 L1397 327.9 L1398 332.4 L1399 329.1 L1400 328 L1401 320.9 L1402 322.6 L1403 321.3 L1404 321.2 L1405 325.5 L1406 321.3 L1407 321.7 L1408 316.7 L1409 320.3 L1410 322 L1411 319.6 L1412 318.7 L1413 326.1 L1414 318.6 L1415 316.5 L1416 317 L1417 322.9 L1418 326.9 L1419 322 L1420 317.2 L1421 317 L1422 321.5 L1423 316.3 L1424 321.8 L1425 323.2 L1426 318.8 L1427 319.3 L1428 319.8 L1429 322.1 L1430 314.3 L1431 319 L1432 315.6 L1433 312.8 L1434 315 L1435 314.4 L1436 311.4 L1437 308.5 L1438 309.8 L1439 317.8 L1440 321.1 L1441 317 L1442 317.4 L1443 311.9 L1444 311.7 L1445 313 L1446 308.5 L1447 307.3 L1448 310.7 L1449 309.9 L1450 306.8 L1451 310.8 L1452 309.5 L1453 313 L1454 310.4 L1455 308.2 L1456 309.2 L1457 308.3 L1458 306 L1459 306.3 L1460 310.2 L1461 310.6 L1462 312.6 L1463 302.4 L1464 304.1 L1465 305 L1466 306.8 L1467 304.9 L1468 303.9 L1469 308.4 L1470 307.2 L1471 301.5 L1472 309.3 L1473 310.2 L1474 303.8 L1475 307.4 L1476 302.7 L1477 308 L1478 304.5 L1479 300.8 L1480 301.6 L1481 300.3 L1482 303.4 L1483 304.1 L1484 303.3 L1485 300.6 L1486 287.4 L1487 298.9 L1488 294.4 L1489 300.8 L1490 306.2 L1491 303.4 L1492 299.5 L1493 299.3 L1494 299.3 L1495 297.3 L1496 296.3 L1497 294.4 L1498 302.5 L1499 299.1 L1500 301.5 L1501 297 L1502 296.5 L1503 295.3 L1504 297.3 L1505 299.1 L1506 296.4 L1507 291.2 L1508 289.2 L1509 299.3 L1510 292.9 L1511 290.1 L1512 297.5 L1513 297.3 L1514 293.8 L1515 288.4 L1516 299.4 L1517 293.1 L1518 291.1 L1519 287.4 L1520 280.3 L1521 278.7 L1522 286.5 L1523 288 L1524 284.6 L1525 278.9 L1526 276 L1527 280.5 L1528 275.9 L1529 285.5 L1530 289.1 L1531 297.1 L1532 289.2 L1533 279.1 L1534 275.5 L1535 261.9 L1536 272.3 L1537 277.5 L1538 283.3 L1539 282.5 L1540 281.5 L1541 279.1 L1542 280.5 L1543 284.7 L1544 272.4 L1545 271.8 L1546 267.4 L1547 281.3 L1548 283.2 L1549 279.6 L1550 268.2 L1551 272.5 L1552 271.8 L1553 272.5 L1554 271.2 L1555 274.2 L1556 269.9 L1557 275.1 L1558 273.2 L1559 269.1 L1560 269 L1561 267.2 L1562 273.3 L1563 268.7 L1564 270.1 L1565 266.7 L1566 259.4 L1567 270.9 L1568 262.9 L1569 269.6 L1570 270.3 L1571 257.8 L1572 258.6 L1573 261.7 L1574 260.2 L1575 257.4 L1576 267.6 L1577 264.4 L1578 266.2 L1579 262 L1580 264.8 L1581 259.3 L1582 261.6 L1583 265.9 L1584 263.3 L1585 259.1 L1586 254.1 L1587 260.3 L1588 262.9 L1589 259.1 L1590 254.6 L1591 261.5 L1592 275.3 L1593 260.5 L1594 259.7 L1595 260.6 L1596 241.4 L1597 253.4 L1598 252 L1599 263.8 L1600 256.1 L1601 249.5 L1602 251.9 L1603 254.9 L1604 250.3 L1605 252 L1606 243.6 L1607 248.6 L1608 256.9 L1609 266.4 L1610 259.4 L1611 253.8 L1612 258.9 L1613 259 L1614 262.8 L1615 259.5 L1616 249.6 L1617 249.7 L1618 249.3 L1619 249.6 L1620 248.7 L1621 240.9 L1622 229 L1623 236.6 L1624 228.7 L1625 241.2 L1626 244.1 L1627 231 L1628 245.1 L1629 250.4 L1630 244.5 L1631 254.6 L1632 258.7 L1633 235.1 L1634 246 L1635 245.3 L1636 243.5 L1637 247.1 L1638 234.7 L1639 232 L1640 229.9 L1641 229.5 L1642 234.4 L1643 224.4 L1644 224.5 L1645 237.9 L1646 235.5 L1647 237.4 L1648 219.3 L1649 223.2 L1650 226.9 L1651 231.8 L1652 227.4 L1653 238.3 L1654 232.8 L1655 230.9 L1656 230.6 L1657 236 L1658 227 L1659 237.7 L1660 235 L1661 230.5 L1662 228.4 L1663 231.9 L1664 236.8 L1665 236.9 L1666 231.3 L1667 234.1 L1668 228 L1669 236 L1670 226.7 L1671 205 L1672 230.6 L1673 226.8 L1674 211.9 L1675 217.4 L1676 212.9 L1677 238.2 L1678 229.9 L1679 206.7 L1680 221 L1681 216.7 L1682 235.7 L1683 212.9 L1684 194.1 L1685 212.7 L1686 213.8 L1687 211.7 L1688 194.5 L1689 214.5 L1690 232.3 L1691 200.2 L1692 220.9 L1693 211.1 L1694 234.9 L1695 222.9 L1696 211.6 L1697 222.4 L1698 219.5 L1699 206.5 L1700 216.2 L1701 206.8 L1702 190.4 L1703 225.3 L1704 210.4 L1705 201.3 L1706 209.9 L1707 192.3 L1708 189 L1709 198 L1710 199.5 L1711 205.3 L1712 217.5 L1713 203 L1714 208.6 L1715 212 L1716 193.7 L1717 202.9 L1718 193.2 L1719 211.6 L1720 210 L1721 203 L1722 186.3 L1723 198.2 L1724 191.9 L1725 205.6 L1726 199.9 L1727 189.2 L1728 206.5 L1729 208.7 L1730 192.5 L1731 208.5 L1732 196.1 L1733 191.1 L1734 195.5 L1735 185.8 L1736 186.3 L1737 189.9 L1738 210.3 L1739 214.4 L1740 192.5 L1741 209.1 L1742 194.1 L1743 193.5 L1744 200.3 L1745 193.8 L1746 217.6 L1747 196.6 L1748 171 L1749 197.2 L1750 182.7 L1751 177.9 L1752 143.2 L1753 184.7 L1754 194.5 L1755 193 L1756 194.5 L1757 203.7 L1758 182.8 L1759 189.3 L1760 169.7 L1761 168.6 L1762 187.9 L1763 183.1 L1764 157.2 L1765 173.4 L1766 171.1 L1767 160 L1768 174.2 L1769 166.4 L1770 146.8 L1771 148.4 L1772 189 L1773 152.9 L1774 164.9 L1775 175.8 L1776 176.9 L1777 150.1 L1778 155.6 L1779 164.7 L1780 175.1 L1781 156.2 L1782 142.8 L1783 171.6 L1784 180.3 L1785 169.4 L1786 151.8 L1787 162.5 L1788 161.2 L1789 170.3 L1790 141.4 L1791 153.3 L1792 153.7 L1793 137.7 L1794 153.4 L1795 155.1 L1796 147 L1797 157 L1798 131.7 L1799 145.1 L1800 157.2 L1801 156.2 L1802 167.4 L1803 134.4 L1804 120 L1805 145.6 L1806 155.3" fill="none" stroke="#000" stroke-width="4.8" stroke-linejoin="round" stroke-linecap="round"/>
<path d="M1095.8 689.8 L1098.8 690.3 L1101.8 689.5 L1104.8 687.6 L1107.8 684.6 L1110.8 680.5 L1113.8 675.4 L1116.8 669.4 L1119.8 662.4 L1122.8 654.7 L1125.8 646.2 L1128.8 637 L1131.8 627.3 L1134.8 617 L1137.8 606.5 L1140.8 595.6 L1143.8 584.6 L1146.8 573.6 L1149.8 562.6 L1152.8 551.7 L1155.8 541 L1158.8 530.6 L1161.8 520.5 L1164.8 510.6 L1167.8 501.2 L1170.8 492.3 L1173.8 483.8 L1176.8 475.8 L1179.8 468.3 L1182.8 461.2 L1185.8 454.6 L1188.8 448.4 L1191.8 442.6 L1194.8 437.1 L1197.8 432 L1200.8 427.3 L1203.8 422.8 L1206.8 418.6 L1209.8 414.7 L1212.8 411.1 L1215.8 407.6 L1218.8 404.4 L1221.8 401.3 L1224.8 398.4 L1227.8 395.7 L1230.8 393 L1233.8 390.5 L1236.8 388.1 L1239.8 385.7 L1242.8 383.5 L1245.8 381.3 L1248.8 379.2 L1251.8 377.2 L1254.8 375.2 L1257.8 373.3 L1260.8 371.5 L1263.8 369.6 L1266.8 367.9 L1269.8 366.1 L1272.8 364.4 L1275.8 362.6 L1278.8 360.9 L1281.8 359.2 L1284.8 357.5 L1287.8 355.8 L1290.8 354.1 L1293.8 352.3 L1296.8 350.5 L1299.8 348.8 L1302.8 347 L1305.8 345.2 L1308.8 343.4 L1311.8 341.7 L1314.8 339.9 L1317.8 338.1 L1320.8 336.3 L1323.8 334.5 L1326.8 332.8 L1329.8 331 L1332.8 329.3 L1335.8 327.5 L1338.8 325.8 L1341.8 324.1 L1344.8 322.4 L1347.8 320.8 L1350.8 319.2 L1353.8 317.6 L1356.8 316 L1359.8 314.5 L1362.8 313 L1365.8 311.6 L1368.8 310.2 L1371.8 308.8 L1374.8 307.6 L1377.8 306.3 L1380.8 305.1 L1383.8 304 L1386.8 302.8 L1389.8 301.8 L1392.8 300.7 L1395.8 299.8 L1398.8 298.8 L1401.8 297.9 L1404.8 297 L1407.8 296.2 L1410.8 295.4 L1413.8 294.6 L1416.8 293.9 L1419.8 293.2 L1422.8 292.5 L1425.8 291.9 L1428.8 291.3 L1431.8 290.7 L1434.8 290.1 L1437.8 289.6 L1440.8 289 L1443.8 288.5 L1446.8 288.1 L1449.8 287.6 L1452.8 287.2 L1455.8 286.7 L1458.8 286.3 L1461.8 285.9 L1464.8 285.5 L1467.8 285.2 L1470.8 284.8 L1473.8 284.5 L1476.8 284.1 L1479.8 283.8 L1482.8 283.5 L1485.8 283.1 L1488.8 282.8 L1491.8 282.5 L1494.8 282.2 L1497.8 281.8 L1500.8 281.5 L1503.8 281.2 L1506.8 280.9 L1509.8 280.5 L1512.8 280.2 L1515.8 279.9 L1518.8 279.5 L1521.8 279.1 L1524.8 278.8 L1527.8 278.4 L1530.8 278 L1533.8 277.6 L1536.8 277.1 L1539.8 276.7 L1542.8 276.3 L1545.8 275.8 L1548.8 275.4 L1551.8 274.9 L1554.8 274.4 L1557.8 273.9 L1560.8 273.4 L1563.8 272.9 L1566.8 272.4 L1569.8 271.9 L1572.8 271.4 L1575.8 270.8 L1578.8 270.3 L1581.8 269.7 L1584.8 269.1 L1587.8 268.5 L1590.8 267.9 L1593.8 267.3 L1596.8 266.7 L1599.8 266.1 L1602.8 265.5 L1605.8 264.9 L1608.8 264.2 L1611.8 263.6 L1614.8 262.9 L1617.8 262.2 L1620.8 261.5 L1623.8 260.9 L1626.8 260.2 L1629.8 259.5 L1632.8 258.7 L1635.8 258 L1638.8 257.3 L1641.8 256.6 L1644.8 255.8 L1647.8 255.1 L1650.8 254.3 L1653.8 253.5 L1656.8 252.8 L1659.8 252 L1662.8 251.2 L1665.8 250.4 L1668.8 249.6 L1671.8 248.8 L1674.8 248 L1677.8 247.1 L1680.8 246.3 L1683.8 245.5 L1686.8 244.6 L1689.8 243.8 L1692.8 242.9 L1695.8 242 L1698.8 241.2 L1701.8 240.3 L1704.8 239.4 L1707.8 238.5 L1710.8 237.6 L1713.8 236.7 L1716.8 235.8 L1719.8 234.9 L1722.8 233.9 L1725.8 233 L1728.8 232.1 L1731.8 231.1 L1734.8 230.2 L1737.8 229.2 L1740.8 228.3 L1743.8 227.3 L1746.8 226.3 L1749.8 225.3 L1752.8 224.4 L1755.8 223.4 L1758.8 222.4 L1761.8 221.4 L1764.8 220.4 L1767.8 219.4 L1770.8 218.3 L1773.8 217.3 L1776.8 216.3 L1779.8 215.3 L1782.8 214.2 L1785.8 213.2 L1788.8 212.2 L1791.8 211.1 L1794.8 210.1 L1797.8 209 L1800.8 207.9 L1803.8 206.9 L1806.8 205.8 L1809.8 204.7 L1812.8 203.7 L1815.8 202.6 L1818.8 201.5 L1821.8 200.4 L1824.8 199.3" fill="none" stroke="#00ad37" stroke-width="4.4" stroke-linejoin="round"/>
</g>
<line x1="1095.6" y1="720" x2="1095.6" y2="728" stroke="#5c5c5c" stroke-width="2.4" />
<g fill="#2a2a2a"><text transform="translate(1062.37 764.4) scale(1.045 1.000)" font-size="40" font-weight="normal" font-style="normal" xml:space="preserve">0.0</text></g>
<line x1="1246.8" y1="720" x2="1246.8" y2="728" stroke="#5c5c5c" stroke-width="2.4" />
<g fill="#2a2a2a"><text transform="translate(1213.83 764.4) scale(1.045 1.000)" font-size="40" font-weight="normal" font-style="normal" xml:space="preserve">2.5</text></g>
<line x1="1398" y1="720" x2="1398" y2="728" stroke="#5c5c5c" stroke-width="2.4" />
<g fill="#2a2a2a"><text transform="translate(1364.51 764.4) scale(1.045 1.000)" font-size="40" font-weight="normal" font-style="normal" xml:space="preserve">5.0</text></g>
<line x1="1549.2" y1="720" x2="1549.2" y2="728" stroke="#5c5c5c" stroke-width="2.4" />
<g fill="#2a2a2a"><text transform="translate(1516.02 764.4) scale(1.045 1.000)" font-size="40" font-weight="normal" font-style="normal" xml:space="preserve">7.5</text></g>
<line x1="1700.4" y1="720" x2="1700.4" y2="728" stroke="#5c5c5c" stroke-width="2.4" />
<g fill="#2a2a2a"><text transform="translate(1652.96 764.4) scale(1.045 1.000)" font-size="40" font-weight="normal" font-style="normal" xml:space="preserve">10.0</text></g>
<line x1="1087.8" y1="690.4" x2="1095.8" y2="690.4" stroke="#5c5c5c" stroke-width="2.4" />
<g fill="#2a2a2a"><text transform="translate(1013.17 706.3) scale(1.030 1.000)" font-size="40" font-weight="normal" font-style="normal" xml:space="preserve">0.0</text></g>
<line x1="1087.8" y1="593.4" x2="1095.8" y2="593.4" stroke="#5c5c5c" stroke-width="2.4" />
<g fill="#2a2a2a"><text transform="translate(1013.99 609.3) scale(1.030 1.000)" font-size="40" font-weight="normal" font-style="normal" xml:space="preserve">0.5</text></g>
<line x1="1087.8" y1="496.4" x2="1095.8" y2="496.4" stroke="#5c5c5c" stroke-width="2.4" />
<g fill="#2a2a2a"><text transform="translate(1013.17 512.3) scale(1.030 1.000)" font-size="40" font-weight="normal" font-style="normal" xml:space="preserve">1.0</text></g>
<line x1="1087.8" y1="399.4" x2="1095.8" y2="399.4" stroke="#5c5c5c" stroke-width="2.4" />
<g fill="#2a2a2a"><text transform="translate(1013.99 415.3) scale(1.030 1.000)" font-size="40" font-weight="normal" font-style="normal" xml:space="preserve">1.5</text></g>
<line x1="1087.8" y1="302.4" x2="1095.8" y2="302.4" stroke="#5c5c5c" stroke-width="2.4" />
<g fill="#2a2a2a"><text transform="translate(1013.17 318.3) scale(1.030 1.000)" font-size="40" font-weight="normal" font-style="normal" xml:space="preserve">2.0</text></g>
<line x1="1087.8" y1="205.4" x2="1095.8" y2="205.4" stroke="#5c5c5c" stroke-width="2.4" />
<g fill="#2a2a2a"><text transform="translate(1013.99 221.3) scale(1.030 1.000)" font-size="40" font-weight="normal" font-style="normal" xml:space="preserve">2.5</text></g>
<line x1="1087.8" y1="108.4" x2="1095.8" y2="108.4" stroke="#5c5c5c" stroke-width="2.4" />
<g fill="#2a2a2a"><text transform="translate(1013.17 124.3) scale(1.030 1.000)" font-size="40" font-weight="normal" font-style="normal" xml:space="preserve">3.0</text></g>
<rect x="1095.8" y="40.5" width="729.7" height="679.5" fill="none" stroke="#a8a8a8" stroke-width="3.4"/>
<g fill="#000"><text transform="translate(1402.36 814.8) scale(1.002 1.000)" font-size="41" font-weight="bold" font-style="italic" xml:space="preserve">q</text><text transform="translate(1466.48 814.8) scale(1.005 1.000)" font-size="41" font-weight="bold" font-style="italic" xml:space="preserve">R</text><text transform="translate(1499.85 821.2) scale(1.070 1.000)" font-size="28" font-weight="bold" font-style="normal" xml:space="preserve">g</text></g>
<g fill="#555"><text transform="translate(1442.59 814.8)" font-size="41" font-weight="normal" font-style="normal" xml:space="preserve">·</text></g>
<g fill="#000" transform="translate(981.5,510) rotate(-90)"><text transform="translate(0.7 0) scale(0.889 1.000)" font-size="41" font-weight="normal" font-style="normal" xml:space="preserve">(</text><text transform="translate(14.34 0) scale(1.017 1.000)" font-size="41" font-weight="bold" font-style="italic" xml:space="preserve">q</text><text transform="translate(53.21 0)" font-size="41" font-weight="bold" font-style="normal" xml:space="preserve">·</text><text transform="translate(77.57 0) scale(0.888 1.000)" font-size="41" font-weight="bold" font-style="italic" xml:space="preserve">R</text><text transform="translate(109.14 9) scale(0.892 1.000)" font-size="29" font-weight="bold" font-style="normal" xml:space="preserve">g</text><text transform="translate(131.87 0) scale(0.802 1.000)" font-size="41" font-weight="normal" font-style="normal" xml:space="preserve">)</text><text transform="translate(147.37 -16.5) scale(0.997 1.000)" font-size="28" font-weight="bold" font-style="normal" xml:space="preserve">2</text><text transform="translate(175.71 0)" font-size="41" font-weight="bold" font-style="normal" xml:space="preserve">·</text><text transform="translate(201.02 -25.2) scale(1.003 1.000)" font-size="29" font-weight="bold" font-style="italic" xml:space="preserve">I</text><text transform="translate(210.77 -25.2) scale(0.987 1.000)" font-size="29" font-weight="bold" font-style="normal" xml:space="preserve">(q)</text><text transform="translate(201.02 18.6) scale(1.003 1.000)" font-size="29" font-weight="bold" font-style="italic" xml:space="preserve">I</text><text transform="translate(210.73 18.6)" font-size="29" font-weight="bold" font-style="normal" xml:space="preserve">(0)</text></g>
<rect transform="translate(981.5,510) rotate(-90)" x="199.5" y="-10.6" width="58.5" height="2.8" fill="#555"/>
<g fill="#000"><text transform="translate(1120.51 122.1) scale(0.993 1.000)" font-size="64.6" font-weight="bold" font-style="normal" xml:space="preserve">b</text></g>
</g>
<g id="panelC">
<clipPath id="clipC"><rect x="171.6" y="848.0" width="1642.4" height="765.0"/></clipPath>
<g clip-path="url(#clipC)">
<line x1="197.7" y1="848" x2="197.7" y2="1613" stroke="#b0b0b0" stroke-width="3.3" stroke-dasharray="6.9 2.995" stroke-dashoffset="6.4" opacity="0.36"/>
<line x1="223.8" y1="848" x2="223.8" y2="1613" stroke="#b0b0b0" stroke-width="3.3" stroke-dasharray="6.9 2.995" stroke-dashoffset="6.4" opacity="0.44"/>
<line x1="249.8" y1="848" x2="249.8" y2="1613" stroke="#b0b0b0" stroke-width="3.3" stroke-dasharray="6.9 2.995" stroke-dashoffset="6.4" opacity="0.36"/>
<line x1="275.9" y1="848" x2="275.9" y2="1613" stroke="#b0b0b0" stroke-width="3.3" stroke-dasharray="6.9 2.995" stroke-dashoffset="6.4" opacity="0.44"/>
<line x1="302" y1="848" x2="302" y2="1613" stroke="#b0b0b0" stroke-width="3.3" stroke-dasharray="6.9 2.995" stroke-dashoffset="6.4" opacity="0.36"/>
<line x1="328.1" y1="848" x2="328.1" y2="1613" stroke="#b0b0b0" stroke-width="3.3" stroke-dasharray="6.9 2.995" stroke-dashoffset="6.4" opacity="0.44"/>
<line x1="354.2" y1="848" x2="354.2" y2="1613" stroke="#b0b0b0" stroke-width="3.3" stroke-dasharray="6.9 2.995" stroke-dashoffset="6.4" opacity="0.36"/>
<line x1="380.2" y1="848" x2="380.2" y2="1613" stroke="#b0b0b0" stroke-width="3.3" stroke-dasharray="6.9 2.995" stroke-dashoffset="6.4" opacity="0.44"/>
<line x1="406.3" y1="848" x2="406.3" y2="1613" stroke="#b0b0b0" stroke-width="3.3" stroke-dasharray="6.9 2.995" stroke-dashoffset="6.4" opacity="0.36"/>
<line x1="432.4" y1="848" x2="432.4" y2="1613" stroke="#b0b0b0" stroke-width="3.3" stroke-dasharray="6.9 2.995" stroke-dashoffset="6.4" opacity="0.44"/>
<line x1="458.5" y1="848" x2="458.5" y2="1613" stroke="#b0b0b0" stroke-width="3.3" stroke-dasharray="6.9 2.995" stroke-dashoffset="6.4" opacity="0.36"/>
<line x1="484.6" y1="848" x2="484.6" y2="1613" stroke="#b0b0b0" stroke-width="3.3" stroke-dasharray="6.9 2.995" stroke-dashoffset="6.4" opacity="0.44"/>
<line x1="510.6" y1="848" x2="510.6" y2="1613" stroke="#b0b0b0" stroke-width="3.3" stroke-dasharray="6.9 2.995" stroke-dashoffset="6.4" opacity="0.36"/>
<line x1="536.7" y1="848" x2="536.7" y2="1613" stroke="#b0b0b0" stroke-width="3.3" stroke-dasharray="6.9 2.995" stroke-dashoffset="6.4" opacity="0.44"/>
<line x1="562.8" y1="848" x2="562.8" y2="1613" stroke="#b0b0b0" stroke-width="3.3" stroke-dasharray="6.9 2.995" stroke-dashoffset="6.4" opacity="0.36"/>
<line x1="588.9" y1="848" x2="588.9" y2="1613" stroke="#b0b0b0" stroke-width="3.3" stroke-dasharray="6.9 2.995" stroke-dashoffset="6.4" opacity="0.44"/>
<line x1="615" y1="848" x2="615" y2="1613" stroke="#b0b0b0" stroke-width="3.3" stroke-dasharray="6.9 2.995" stroke-dashoffset="6.4" opacity="0.36"/>
<line x1="641" y1="848" x2="641" y2="1613" stroke="#b0b0b0" stroke-width="3.3" stroke-dasharray="6.9 2.995" stroke-dashoffset="6.4" opacity="0.44"/>
<line x1="667.1" y1="848" x2="667.1" y2="1613" stroke="#b0b0b0" stroke-width="3.3" stroke-dasharray="6.9 2.995" stroke-dashoffset="6.4" opacity="0.36"/>
<line x1="693.2" y1="848" x2="693.2" y2="1613" stroke="#b0b0b0" stroke-width="3.3" stroke-dasharray="6.9 2.995" stroke-dashoffset="6.4" opacity="0.44"/>
<line x1="719.3" y1="848" x2="719.3" y2="1613" stroke="#b0b0b0" stroke-width="3.3" stroke-dasharray="6.9 2.995" stroke-dashoffset="6.4" opacity="0.36"/>
<line x1="745.4" y1="848" x2="745.4" y2="1613" stroke="#b0b0b0" stroke-width="3.3" stroke-dasharray="6.9 2.995" stroke-dashoffset="6.4" opacity="0.44"/>
<line x1="771.4" y1="848" x2="771.4" y2="1613" stroke="#b0b0b0" stroke-width="3.3" stroke-dasharray="6.9 2.995" stroke-dashoffset="6.4" opacity="0.36"/>
<line x1="797.5" y1="848" x2="797.5" y2="1613" stroke="#b0b0b0" stroke-width="3.3" stroke-dasharray="6.9 2.995" stroke-dashoffset="6.4" opacity="0.44"/>
<line x1="823.6" y1="848" x2="823.6" y2="1613" stroke="#b0b0b0" stroke-width="3.3" stroke-dasharray="6.9 2.995" stroke-dashoffset="6.4" opacity="0.36"/>
<line x1="849.7" y1="848" x2="849.7" y2="1613" stroke="#b0b0b0" stroke-width="3.3" stroke-dasharray="6.9 2.995" stroke-dashoffset="6.4" opacity="0.44"/>
<line x1="875.8" y1="848" x2="875.8" y2="1613" stroke="#b0b0b0" stroke-width="3.3" stroke-dasharray="6.9 2.995" stroke-dashoffset="6.4" opacity="0.36"/>
<line x1="901.8" y1="848" x2="901.8" y2="1613" stroke="#b0b0b0" stroke-width="3.3" stroke-dasharray="6.9 2.995" stroke-dashoffset="6.4" opacity="0.44"/>
<line x1="927.9" y1="848" x2="927.9" y2="1613" stroke="#b0b0b0" stroke-width="3.3" stroke-dasharray="6.9 2.995" stroke-dashoffset="6.4" opacity="0.36"/>
<line x1="954" y1="848" x2="954" y2="1613" stroke="#b0b0b0" stroke-width="3.3" stroke-dasharray="6.9 2.995" stroke-dashoffset="6.4" opacity="0.44"/>
<line x1="980.1" y1="848" x2="980.1" y2="1613" stroke="#b0b0b0" stroke-width="3.3" stroke-dasharray="6.9 2.995" stroke-dashoffset="6.4" opacity="0.36"/>
<line x1="1006.2" y1="848" x2="1006.2" y2="1613" stroke="#b0b0b0" stroke-width="3.3" stroke-dasharray="6.9 2.995" stroke-dashoffset="6.4" opacity="0.44"/>
<line x1="1032.2" y1="848" x2="1032.2" y2="1613" stroke="#b0b0b0" stroke-width="3.3" stroke-dasharray="6.9 2.995" stroke-dashoffset="6.4" opacity="0.36"/>
<line x1="1058.3" y1="848" x2="1058.3" y2="1613" stroke="#b0b0b0" stroke-width="3.3" stroke-dasharray="6.9 2.995" stroke-dashoffset="6.4" opacity="0.44"/>
<line x1="1084.4" y1="848" x2="1084.4" y2="1613" stroke="#b0b0b0" stroke-width="3.3" stroke-dasharray="6.9 2.995" stroke-dashoffset="6.4" opacity="0.36"/>
<line x1="1110.5" y1="848" x2="1110.5" y2="1613" stroke="#b0b0b0" stroke-width="3.3" stroke-dasharray="6.9 2.995" stroke-dashoffset="6.4" opacity="0.44"/>
<line x1="1136.6" y1="848" x2="1136.6" y2="1613" stroke="#b0b0b0" stroke-width="3.3" stroke-dasharray="6.9 2.995" stroke-dashoffset="6.4" opacity="0.36"/>
<line x1="1162.6" y1="848" x2="1162.6" y2="1613" stroke="#b0b0b0" stroke-width="3.3" stroke-dasharray="6.9 2.995" stroke-dashoffset="6.4" opacity="0.44"/>
<line x1="1188.7" y1="848" x2="1188.7" y2="1613" stroke="#b0b0b0" stroke-width="3.3" stroke-dasharray="6.9 2.995" stroke-dashoffset="6.4" opacity="0.36"/>
<line x1="1214.8" y1="848" x2="1214.8" y2="1613" stroke="#b0b0b0" stroke-width="3.3" stroke-dasharray="6.9 2.995" stroke-dashoffset="6.4" opacity="0.44"/>
<line x1="1240.9" y1="848" x2="1240.9" y2="1613" stroke="#b0b0b0" stroke-width="3.3" stroke-dasharray="6.9 2.995" stroke-dashoffset="6.4" opacity="0.36"/>
<line x1="1267" y1="848" x2="1267" y2="1613" stroke="#b0b0b0" stroke-width="3.3" stroke-dasharray="6.9 2.995" stroke-dashoffset="6.4" opacity="0.44"/>
<line x1="1293" y1="848" x2="1293" y2="1613" stroke="#b0b0b0" stroke-width="3.3" stroke-dasharray="6.9 2.995" stroke-dashoffset="6.4" opacity="0.36"/>
<line x1="1319.1" y1="848" x2="1319.1" y2="1613" stroke="#b0b0b0" stroke-width="3.3" stroke-dasharray="6.9 2.995" stroke-dashoffset="6.4" opacity="0.44"/>
<line x1="1345.2" y1="848" x2="1345.2" y2="1613" stroke="#b0b0b0" stroke-width="3.3" stroke-dasharray="6.9 2.995" stroke-dashoffset="6.4" opacity="0.36"/>
<line x1="1371.3" y1="848" x2="1371.3" y2="1613" stroke="#b0b0b0" stroke-width="3.3" stroke-dasharray="6.9 2.995" stroke-dashoffset="6.4" opacity="0.44"/>
<line x1="1397.4" y1="848" x2="1397.4" y2="1613" stroke="#b0b0b0" stroke-width="3.3" stroke-dasharray="6.9 2.995" stroke-dashoffset="6.4" opacity="0.36"/>
<line x1="1423.4" y1="848" x2="1423.4" y2="1613" stroke="#b0b0b0" stroke-width="3.3" stroke-dasharray="6.9 2.995" stroke-dashoffset="6.4" opacity="0.44"/>
<line x1="1449.5" y1="848" x2="1449.5" y2="1613" stroke="#b0b0b0" stroke-width="3.3" stroke-dasharray="6.9 2.995" stroke-dashoffset="6.4" opacity="0.36"/>
<line x1="1475.6" y1="848" x2="1475.6" y2="1613" stroke="#b0b0b0" stroke-width="3.3" stroke-dasharray="6.9 2.995" stroke-dashoffset="6.4" opacity="0.44"/>
<line x1="1501.7" y1="848" x2="1501.7" y2="1613" stroke="#b0b0b0" stroke-width="3.3" stroke-dasharray="6.9 2.995" stroke-dashoffset="6.4" opacity="0.36"/>
<line x1="1527.8" y1="848" x2="1527.8" y2="1613" stroke="#b0b0b0" stroke-width="3.3" stroke-dasharray="6.9 2.995" stroke-dashoffset="6.4" opacity="0.44"/>
<line x1="1553.8" y1="848" x2="1553.8" y2="1613" stroke="#b0b0b0" stroke-width="3.3" stroke-dasharray="6.9 2.995" stroke-dashoffset="6.4" opacity="0.36"/>
<line x1="1579.9" y1="848" x2="1579.9" y2="1613" stroke="#b0b0b0" stroke-width="3.3" stroke-dasharray="6.9 2.995" stroke-dashoffset="6.4" opacity="0.44"/>
<line x1="1606" y1="848" x2="1606" y2="1613" stroke="#b0b0b0" stroke-width="3.3" stroke-dasharray="6.9 2.995" stroke-dashoffset="6.4" opacity="0.36"/>
<line x1="1632.1" y1="848" x2="1632.1" y2="1613" stroke="#b0b0b0" stroke-width="3.3" stroke-dasharray="6.9 2.995" stroke-dashoffset="6.4" opacity="0.44"/>
<line x1="1658.2" y1="848" x2="1658.2" y2="1613" stroke="#b0b0b0" stroke-width="3.3" stroke-dasharray="6.9 2.995" stroke-dashoffset="6.4" opacity="0.36"/>
<line x1="1684.2" y1="848" x2="1684.2" y2="1613" stroke="#b0b0b0" stroke-width="3.3" stroke-dasharray="6.9 2.995" stroke-dashoffset="6.4" opacity="0.44"/>
<line x1="1710.3" y1="848" x2="1710.3" y2="1613" stroke="#b0b0b0" stroke-width="3.3" stroke-dasharray="6.9 2.995" stroke-dashoffset="6.4" opacity="0.36"/>
<line x1="1736.4" y1="848" x2="1736.4" y2="1613" stroke="#b0b0b0" stroke-width="3.3" stroke-dasharray="6.9 2.995" stroke-dashoffset="6.4" opacity="0.44"/>
<line x1="1762.5" y1="848" x2="1762.5" y2="1613" stroke="#b0b0b0" stroke-width="3.3" stroke-dasharray="6.9 2.995" stroke-dashoffset="6.4" opacity="0.36"/>
<line x1="1788.6" y1="848" x2="1788.6" y2="1613" stroke="#b0b0b0" stroke-width="3.3" stroke-dasharray="6.9 2.995" stroke-dashoffset="6.4" opacity="0.44"/>
<line x1="171.6" y1="1536.6" x2="1814" y2="1536.6" stroke="#b0b0b0" stroke-width="3.3" stroke-dasharray="6.9 2.995" stroke-dashoffset="2" opacity="0.42"/>
<line x1="171.6" y1="1383.6" x2="1814" y2="1383.6" stroke="#b0b0b0" stroke-width="3.3" stroke-dasharray="6.9 2.995" stroke-dashoffset="2" opacity="0.42"/>
<line x1="171.6" y1="1230.6" x2="1814" y2="1230.6" stroke="#b0b0b0" stroke-width="3.3" stroke-dasharray="6.9 2.995" stroke-dashoffset="2" opacity="0.42"/>
<line x1="171.6" y1="1077.6" x2="1814" y2="1077.6" stroke="#b0b0b0" stroke-width="3.3" stroke-dasharray="6.9 2.995" stroke-dashoffset="2" opacity="0.42"/>
<line x1="171.6" y1="924.6" x2="1814" y2="924.6" stroke="#b0b0b0" stroke-width="3.3" stroke-dasharray="6.9 2.995" stroke-dashoffset="2" opacity="0.42"/>
<path d="M197.7 1249 L223.8 1256.6 L249.8 1213.8 L275.9 1250.5" fill="none" stroke="#050505" stroke-width="4.8" stroke-linejoin="round"/>
<path d="M328.1 1238.2 L354.2 1307.9 L380.2 1326.2 L406.3 1291.8 L432.4 1287.2 L458.5 1203.1 L484.6 1123.5 L510.6 1192.3 L536.7 1219.9 L562.8 1281.9" fill="none" stroke="#050505" stroke-width="4.8" stroke-linejoin="round"/>
<path d="M615 1172.5 L641 1166.3 L667.1 1348.4" fill="none" stroke="#050505" stroke-width="4.8" stroke-linejoin="round"/>
<path d="M719.3 1109.7 L745.4 1068.4 L771.4 1241.3 L797.5 1285.7 L823.6 1231.4 L849.7 1296.4 L875.8 1264.3 L901.8 1245.9 L927.9 1189.3 L954 1223.7 L980.1 1203.8 L1006.2 1255.1 L1032.2 1155.6 L1058.3 1216.8" fill="none" stroke="#050505" stroke-width="4.8" stroke-linejoin="round"/>
<path d="M1110.5 1242.8 L1136.6 1206.1 L1162.6 1230.6 L1188.7 1198.5" fill="none" stroke="#050505" stroke-width="4.8" stroke-linejoin="round"/>
<path d="M1267 1080.7 L1293 1301.7 L1319.1 1207.6 L1345.2 1310.2 L1371.3 1245.9 L1397.4 1340.8 L1423.4 1246.7 L1449.5 1245.9" fill="none" stroke="#050505" stroke-width="4.8" stroke-linejoin="round"/>
<path d="M1553.8 1252.9 L1579.9 1204.6 L1606 1213.8 L1632.1 1249" fill="none" stroke="#050505" stroke-width="4.8" stroke-linejoin="round"/>
<path d="M1736.4 1226 L1762.5 1223.6 L1788.6 1121.2" fill="none" stroke="#050505" stroke-width="4.8" stroke-linejoin="round"/>
<ellipse cx="197.7" cy="1249" rx="8.5" ry="8.4" fill="#000"/>
<ellipse cx="223.8" cy="1256.6" rx="8.5" ry="8.4" fill="#000"/>
<ellipse cx="249.8" cy="1213.8" rx="8.5" ry="8.4" fill="#000"/>
<ellipse cx="275.9" cy="1250.5" rx="8.5" ry="8.4" fill="#000"/>
<ellipse cx="328.1" cy="1238.2" rx="8.5" ry="8.4" fill="#000"/>
<ellipse cx="354.2" cy="1307.9" rx="8.5" ry="8.4" fill="#000"/>
<ellipse cx="380.2" cy="1326.2" rx="8.5" ry="8.4" fill="#000"/>
<ellipse cx="406.3" cy="1291.8" rx="8.5" ry="8.4" fill="#000"/>
<ellipse cx="432.4" cy="1287.2" rx="8.5" ry="8.4" fill="#000"/>
<ellipse cx="458.5" cy="1203.1" rx="8.5" ry="8.4" fill="#000"/>
<ellipse cx="484.6" cy="1123.5" rx="8.5" ry="8.4" fill="#000"/>
<ellipse cx="510.6" cy="1192.3" rx="8.5" ry="8.4" fill="#000"/>
<ellipse cx="536.7" cy="1219.9" rx="8.5" ry="8.4" fill="#000"/>
<ellipse cx="562.8" cy="1281.9" rx="8.5" ry="8.4" fill="#000"/>
<ellipse cx="615" cy="1172.5" rx="8.5" ry="8.4" fill="#000"/>
<ellipse cx="641" cy="1166.3" rx="8.5" ry="8.4" fill="#000"/>
<ellipse cx="667.1" cy="1348.4" rx="8.5" ry="8.4" fill="#000"/>
<ellipse cx="719.3" cy="1109.7" rx="8.5" ry="8.4" fill="#000"/>
<ellipse cx="745.4" cy="1068.4" rx="8.5" ry="8.4" fill="#000"/>
<ellipse cx="771.4" cy="1241.3" rx="8.5" ry="8.4" fill="#000"/>
<ellipse cx="797.5" cy="1285.7" rx="8.5" ry="8.4" fill="#000"/>
<ellipse cx="823.6" cy="1231.4" rx="8.5" ry="8.4" fill="#000"/>
<ellipse cx="849.7" cy="1296.4" rx="8.5" ry="8.4" fill="#000"/>
<ellipse cx="875.8" cy="1264.3" rx="8.5" ry="8.4" fill="#000"/>
<ellipse cx="901.8" cy="1245.9" rx="8.5" ry="8.4" fill="#000"/>
<ellipse cx="927.9" cy="1189.3" rx="8.5" ry="8.4" fill="#000"/>
<ellipse cx="954" cy="1223.7" rx="8.5" ry="8.4" fill="#000"/>
<ellipse cx="980.1" cy="1203.8" rx="8.5" ry="8.4" fill="#000"/>
<ellipse cx="1006.2" cy="1255.1" rx="8.5" ry="8.4" fill="#000"/>
<ellipse cx="1032.2" cy="1155.6" rx="8.5" ry="8.4" fill="#000"/>
<ellipse cx="1058.3" cy="1216.8" rx="8.5" ry="8.4" fill="#000"/>
<ellipse cx="1110.5" cy="1242.8" rx="8.5" ry="8.4" fill="#000"/>
<ellipse cx="1136.6" cy="1206.1" rx="8.5" ry="8.4" fill="#000"/>
<ellipse cx="1162.6" cy="1230.6" rx="8.5" ry="8.4" fill="#000"/>
<ellipse cx="1188.7" cy="1198.5" rx="8.5" ry="8.4" fill="#000"/>
<ellipse cx="1267" cy="1080.7" rx="8.5" ry="8.4" fill="#000"/>
<ellipse cx="1293" cy="1301.7" rx="8.5" ry="8.4" fill="#000"/>
<ellipse cx="1319.1" cy="1207.6" rx="8.5" ry="8.4" fill="#000"/>
<ellipse cx="1345.2" cy="1310.2" rx="8.5" ry="8.4" fill="#000"/>
<ellipse cx="1371.3" cy="1245.9" rx="8.5" ry="8.4" fill="#000"/>
<ellipse cx="1397.4" cy="1340.8" rx="8.5" ry="8.4" fill="#000"/>
<ellipse cx="1423.4" cy="1246.7" rx="8.5" ry="8.4" fill="#000"/>
<ellipse cx="1449.5" cy="1245.9" rx="8.5" ry="8.4" fill="#000"/>
<ellipse cx="1501.7" cy="1196.9" rx="8.5" ry="8.4" fill="#000"/>
<ellipse cx="1553.8" cy="1252.9" rx="8.5" ry="8.4" fill="#000"/>
<ellipse cx="1579.9" cy="1204.6" rx="8.5" ry="8.4" fill="#000"/>
<ellipse cx="1606" cy="1213.8" rx="8.5" ry="8.4" fill="#000"/>
<ellipse cx="1632.1" cy="1249" rx="8.5" ry="8.4" fill="#000"/>
<ellipse cx="1684.2" cy="1296.4" rx="8.5" ry="8.4" fill="#000"/>
<ellipse cx="1736.4" cy="1226" rx="8.5" ry="8.4" fill="#000"/>
<ellipse cx="1762.5" cy="1223.6" rx="8.5" ry="8.4" fill="#000"/>
<ellipse cx="1788.6" cy="1121.2" rx="8.5" ry="8.4" fill="#000"/>
<path d="M197.7 1229.1 L223.8 1304 L249.8 1249.7 L275.9 1231.4 L302 998 L328.1 1236.7 L354.2 1297.9 L380.2 1229.1 L406.3 1332.3 L432.4 1115.8 L458.5 1349.9 L484.6 1186.2 L510.6 1183.9 L536.7 1252 L562.8 1326.2" fill="none" stroke="#00b843" stroke-width="5.5" stroke-linejoin="round"/>
<path d="M615 1221.4 L641 1264.3 L667.1 1233.7" fill="none" stroke="#00b843" stroke-width="5.5" stroke-linejoin="round"/>
<path d="M719.3 1226.8 L745.4 1216.1 L771.4 1310.2 L797.5 1460.1 L823.6 1261.2 L849.7 1369.8 L875.8 1188.5 L901.8 1304.8 L927.9 1242.1 L954 1211.5 L980.1 1194.6 L1006.2 1211.5 L1032.2 1137.3 L1058.3 1310.2" fill="none" stroke="#00b843" stroke-width="5.5" stroke-linejoin="round"/>
<path d="M1110.5 1279.6 L1136.6 1254.3 L1162.6 1249 L1188.7 1288.7" fill="none" stroke="#00b843" stroke-width="5.5" stroke-linejoin="round"/>
<path d="M1267 1140.3 L1293 1355.3 L1319.1 1232.1 L1345.2 1261.2 L1371.3 1235.2 L1397.4 1317 L1423.4 1176.6 L1449.5 1228.8" fill="none" stroke="#00b843" stroke-width="5.5" stroke-linejoin="round"/>
<path d="M1553.8 1280.6 L1579.9 1219.9 L1606 1200.3 L1632.1 1230.1" fill="none" stroke="#00b843" stroke-width="5.5" stroke-linejoin="round"/>
<path d="M1736.4 1200.3 L1762.5 1232.7 L1788.6 1273.4" fill="none" stroke="#00b843" stroke-width="5.5" stroke-linejoin="round"/>
<line x1="197.7" y1="1224.5" x2="197.7" y2="1233.7" stroke="#00b843" stroke-width="5.0" />
<line x1="192.5" y1="1224.5" x2="202.9" y2="1224.5" stroke="#00b843" stroke-width="2.8" />
<line x1="192.5" y1="1233.7" x2="202.9" y2="1233.7" stroke="#00b843" stroke-width="2.8" />
<line x1="223.8" y1="1294.9" x2="223.8" y2="1313.2" stroke="#00b843" stroke-width="5.0" />
<line x1="218.6" y1="1294.9" x2="229" y2="1294.9" stroke="#00b843" stroke-width="2.8" />
<line x1="218.6" y1="1313.2" x2="229" y2="1313.2" stroke="#00b843" stroke-width="2.8" />
<line x1="249.8" y1="1212.2" x2="249.8" y2="1287.2" stroke="#00b843" stroke-width="5.0" />
<line x1="244.6" y1="1212.2" x2="255" y2="1212.2" stroke="#00b843" stroke-width="2.8" />
<line x1="244.6" y1="1287.2" x2="255" y2="1287.2" stroke="#00b843" stroke-width="2.8" />
<line x1="275.9" y1="1216.1" x2="275.9" y2="1246.7" stroke="#00b843" stroke-width="5.0" />
<line x1="270.7" y1="1216.1" x2="281.1" y2="1216.1" stroke="#00b843" stroke-width="2.8" />
<line x1="270.7" y1="1246.7" x2="281.1" y2="1246.7" stroke="#00b843" stroke-width="2.8" />
<line x1="302" y1="991.9" x2="302" y2="1004.2" stroke="#00b843" stroke-width="5.0" />
<line x1="296.8" y1="991.9" x2="307.2" y2="991.9" stroke="#00b843" stroke-width="2.8" />
<line x1="296.8" y1="1004.2" x2="307.2" y2="1004.2" stroke="#00b843" stroke-width="2.8" />
<line x1="328.1" y1="1192.3" x2="328.1" y2="1281.1" stroke="#00b843" stroke-width="5.0" />
<line x1="322.9" y1="1192.3" x2="333.3" y2="1192.3" stroke="#00b843" stroke-width="2.8" />
<line x1="322.9" y1="1281.1" x2="333.3" y2="1281.1" stroke="#00b843" stroke-width="2.8" />
<line x1="354.2" y1="1249" x2="354.2" y2="1346.9" stroke="#00b843" stroke-width="5.0" />
<line x1="349" y1="1249" x2="359.4" y2="1249" stroke="#00b843" stroke-width="2.8" />
<line x1="349" y1="1346.9" x2="359.4" y2="1346.9" stroke="#00b843" stroke-width="2.8" />
<line x1="380.2" y1="1198.5" x2="380.2" y2="1259.7" stroke="#00b843" stroke-width="5.0" />
<line x1="375" y1="1198.5" x2="385.4" y2="1198.5" stroke="#00b843" stroke-width="2.8" />
<line x1="375" y1="1259.7" x2="385.4" y2="1259.7" stroke="#00b843" stroke-width="2.8" />
<line x1="406.3" y1="1303.7" x2="406.3" y2="1361" stroke="#00b843" stroke-width="5.0" />
<line x1="401.1" y1="1303.7" x2="411.5" y2="1303.7" stroke="#00b843" stroke-width="2.8" />
<line x1="401.1" y1="1361" x2="411.5" y2="1361" stroke="#00b843" stroke-width="2.8" />
<line x1="432.4" y1="1096.7" x2="432.4" y2="1135" stroke="#00b843" stroke-width="5.0" />
<line x1="427.2" y1="1096.7" x2="437.6" y2="1096.7" stroke="#00b843" stroke-width="2.8" />
<line x1="427.2" y1="1135" x2="437.6" y2="1135" stroke="#00b843" stroke-width="2.8" />
<line x1="458.5" y1="1301" x2="458.5" y2="1398.9" stroke="#00b843" stroke-width="5.0" />
<line x1="453.3" y1="1301" x2="463.7" y2="1301" stroke="#00b843" stroke-width="2.8" />
<line x1="453.3" y1="1398.9" x2="463.7" y2="1398.9" stroke="#00b843" stroke-width="2.8" />
<line x1="484.6" y1="1108.8" x2="484.6" y2="1263.6" stroke="#00b843" stroke-width="5.0" />
<line x1="479.4" y1="1108.8" x2="489.8" y2="1108.8" stroke="#00b843" stroke-width="2.8" />
<line x1="479.4" y1="1263.6" x2="489.8" y2="1263.6" stroke="#00b843" stroke-width="2.8" />
<line x1="510.6" y1="1107.4" x2="510.6" y2="1260.4" stroke="#00b843" stroke-width="5.0" />
<line x1="505.4" y1="1107.4" x2="515.8" y2="1107.4" stroke="#00b843" stroke-width="2.8" />
<line x1="505.4" y1="1260.4" x2="515.8" y2="1260.4" stroke="#00b843" stroke-width="2.8" />
<line x1="536.7" y1="1203.8" x2="536.7" y2="1300.2" stroke="#00b843" stroke-width="5.0" />
<line x1="531.5" y1="1203.8" x2="541.9" y2="1203.8" stroke="#00b843" stroke-width="2.8" />
<line x1="531.5" y1="1300.2" x2="541.9" y2="1300.2" stroke="#00b843" stroke-width="2.8" />
<line x1="562.8" y1="1285.4" x2="562.8" y2="1367.1" stroke="#00b843" stroke-width="5.0" />
<line x1="557.6" y1="1285.4" x2="568" y2="1285.4" stroke="#00b843" stroke-width="2.8" />
<line x1="557.6" y1="1367.1" x2="568" y2="1367.1" stroke="#00b843" stroke-width="2.8" />
<line x1="615" y1="1164" x2="615" y2="1278.8" stroke="#00b843" stroke-width="5.0" />
<line x1="609.8" y1="1164" x2="620.2" y2="1164" stroke="#00b843" stroke-width="2.8" />
<line x1="609.8" y1="1278.8" x2="620.2" y2="1278.8" stroke="#00b843" stroke-width="2.8" />
<line x1="641" y1="1211.5" x2="641" y2="1317" stroke="#00b843" stroke-width="5.0" />
<line x1="635.8" y1="1211.5" x2="646.2" y2="1211.5" stroke="#00b843" stroke-width="2.8" />
<line x1="635.8" y1="1317" x2="646.2" y2="1317" stroke="#00b843" stroke-width="2.8" />
<line x1="667.1" y1="1208.4" x2="667.1" y2="1258.9" stroke="#00b843" stroke-width="5.0" />
<line x1="661.9" y1="1208.4" x2="672.3" y2="1208.4" stroke="#00b843" stroke-width="2.8" />
<line x1="661.9" y1="1258.9" x2="672.3" y2="1258.9" stroke="#00b843" stroke-width="2.8" />
<line x1="719.3" y1="1200" x2="719.3" y2="1253.5" stroke="#00b843" stroke-width="5.0" />
<line x1="714.1" y1="1200" x2="724.5" y2="1200" stroke="#00b843" stroke-width="2.8" />
<line x1="714.1" y1="1253.5" x2="724.5" y2="1253.5" stroke="#00b843" stroke-width="2.8" />
<line x1="745.4" y1="1153.3" x2="745.4" y2="1278.8" stroke="#00b843" stroke-width="5.0" />
<line x1="740.2" y1="1153.3" x2="750.6" y2="1153.3" stroke="#00b843" stroke-width="2.8" />
<line x1="740.2" y1="1278.8" x2="750.6" y2="1278.8" stroke="#00b843" stroke-width="2.8" />
<line x1="771.4" y1="1252.5" x2="771.4" y2="1367.8" stroke="#00b843" stroke-width="5.0" />
<line x1="766.2" y1="1252.5" x2="776.6" y2="1252.5" stroke="#00b843" stroke-width="2.8" />
<line x1="766.2" y1="1367.8" x2="776.6" y2="1367.8" stroke="#00b843" stroke-width="2.8" />
<line x1="797.5" y1="1273.4" x2="797.5" y2="1646.8" stroke="#00b843" stroke-width="5.0" />
<line x1="792.3" y1="1273.4" x2="802.7" y2="1273.4" stroke="#00b843" stroke-width="2.8" />
<line x1="792.3" y1="1646.8" x2="802.7" y2="1646.8" stroke="#00b843" stroke-width="2.8" />
<line x1="823.6" y1="1212.2" x2="823.6" y2="1310.2" stroke="#00b843" stroke-width="5.0" />
<line x1="818.4" y1="1212.2" x2="828.8" y2="1212.2" stroke="#00b843" stroke-width="2.8" />
<line x1="818.4" y1="1310.2" x2="828.8" y2="1310.2" stroke="#00b843" stroke-width="2.8" />
<line x1="849.7" y1="1336.5" x2="849.7" y2="1403.2" stroke="#00b843" stroke-width="5.0" />
<line x1="844.5" y1="1336.5" x2="854.9" y2="1336.5" stroke="#00b843" stroke-width="2.8" />
<line x1="844.5" y1="1403.2" x2="854.9" y2="1403.2" stroke="#00b843" stroke-width="2.8" />
<line x1="875.8" y1="1178.6" x2="875.8" y2="1198.5" stroke="#00b843" stroke-width="5.0" />
<line x1="870.6" y1="1178.6" x2="881" y2="1178.6" stroke="#00b843" stroke-width="2.8" />
<line x1="870.6" y1="1198.5" x2="881" y2="1198.5" stroke="#00b843" stroke-width="2.8" />
<line x1="901.8" y1="1265" x2="901.8" y2="1344.6" stroke="#00b843" stroke-width="5.0" />
<line x1="896.6" y1="1265" x2="907" y2="1265" stroke="#00b843" stroke-width="2.8" />
<line x1="896.6" y1="1344.6" x2="907" y2="1344.6" stroke="#00b843" stroke-width="2.8" />
<line x1="927.9" y1="1189.1" x2="927.9" y2="1295" stroke="#00b843" stroke-width="5.0" />
<line x1="922.7" y1="1189.1" x2="933.1" y2="1189.1" stroke="#00b843" stroke-width="2.8" />
<line x1="922.7" y1="1295" x2="933.1" y2="1295" stroke="#00b843" stroke-width="2.8" />
<line x1="954" y1="1153.9" x2="954" y2="1269" stroke="#00b843" stroke-width="5.0" />
<line x1="948.8" y1="1153.9" x2="959.2" y2="1153.9" stroke="#00b843" stroke-width="2.8" />
<line x1="948.8" y1="1269" x2="959.2" y2="1269" stroke="#00b843" stroke-width="2.8" />
<line x1="980.1" y1="1147.2" x2="980.1" y2="1242.1" stroke="#00b843" stroke-width="5.0" />
<line x1="974.9" y1="1147.2" x2="985.3" y2="1147.2" stroke="#00b843" stroke-width="2.8" />
<line x1="974.9" y1="1242.1" x2="985.3" y2="1242.1" stroke="#00b843" stroke-width="2.8" />
<line x1="1006.2" y1="1169.4" x2="1006.2" y2="1253.5" stroke="#00b843" stroke-width="5.0" />
<line x1="1001" y1="1169.4" x2="1011.4" y2="1169.4" stroke="#00b843" stroke-width="2.8" />
<line x1="1001" y1="1253.5" x2="1011.4" y2="1253.5" stroke="#00b843" stroke-width="2.8" />
<line x1="1032.2" y1="1096" x2="1032.2" y2="1178.6" stroke="#00b843" stroke-width="5.0" />
<line x1="1027" y1="1096" x2="1037.4" y2="1096" stroke="#00b843" stroke-width="2.8" />
<line x1="1027" y1="1178.6" x2="1037.4" y2="1178.6" stroke="#00b843" stroke-width="2.8" />
<line x1="1058.3" y1="1302.5" x2="1058.3" y2="1317.8" stroke="#00b843" stroke-width="5.0" />
<line x1="1053.1" y1="1302.5" x2="1063.5" y2="1302.5" stroke="#00b843" stroke-width="2.8" />
<line x1="1053.1" y1="1317.8" x2="1063.5" y2="1317.8" stroke="#00b843" stroke-width="2.8" />
<line x1="1110.5" y1="1250.9" x2="1110.5" y2="1308.2" stroke="#00b843" stroke-width="5.0" />
<line x1="1105.3" y1="1250.9" x2="1115.7" y2="1250.9" stroke="#00b843" stroke-width="2.8" />
<line x1="1105.3" y1="1308.2" x2="1115.7" y2="1308.2" stroke="#00b843" stroke-width="2.8" />
<line x1="1136.6" y1="1239.8" x2="1136.6" y2="1268.8" stroke="#00b843" stroke-width="5.0" />
<line x1="1131.4" y1="1239.8" x2="1141.8" y2="1239.8" stroke="#00b843" stroke-width="2.8" />
<line x1="1131.4" y1="1268.8" x2="1141.8" y2="1268.8" stroke="#00b843" stroke-width="2.8" />
<line x1="1162.6" y1="1222" x2="1162.6" y2="1275.9" stroke="#00b843" stroke-width="5.0" />
<line x1="1157.4" y1="1222" x2="1167.8" y2="1222" stroke="#00b843" stroke-width="2.8" />
<line x1="1157.4" y1="1275.9" x2="1167.8" y2="1275.9" stroke="#00b843" stroke-width="2.8" />
<line x1="1188.7" y1="1282.6" x2="1188.7" y2="1294.9" stroke="#00b843" stroke-width="5.0" />
<line x1="1183.5" y1="1282.6" x2="1193.9" y2="1282.6" stroke="#00b843" stroke-width="2.8" />
<line x1="1183.5" y1="1294.9" x2="1193.9" y2="1294.9" stroke="#00b843" stroke-width="2.8" />
<line x1="1267" y1="1128.1" x2="1267" y2="1152.6" stroke="#00b843" stroke-width="5.0" />
<line x1="1261.8" y1="1128.1" x2="1272.2" y2="1128.1" stroke="#00b843" stroke-width="2.8" />
<line x1="1261.8" y1="1152.6" x2="1272.2" y2="1152.6" stroke="#00b843" stroke-width="2.8" />
<line x1="1293" y1="1341.8" x2="1293" y2="1368.8" stroke="#00b843" stroke-width="5.0" />
<line x1="1287.8" y1="1341.8" x2="1298.2" y2="1341.8" stroke="#00b843" stroke-width="2.8" />
<line x1="1287.8" y1="1368.8" x2="1298.2" y2="1368.8" stroke="#00b843" stroke-width="2.8" />
<line x1="1319.1" y1="1196.9" x2="1319.1" y2="1267.3" stroke="#00b843" stroke-width="5.0" />
<line x1="1313.9" y1="1196.9" x2="1324.3" y2="1196.9" stroke="#00b843" stroke-width="2.8" />
<line x1="1313.9" y1="1267.3" x2="1324.3" y2="1267.3" stroke="#00b843" stroke-width="2.8" />
<line x1="1345.2" y1="1170.9" x2="1345.2" y2="1351.5" stroke="#00b843" stroke-width="5.0" />
<line x1="1340" y1="1170.9" x2="1350.4" y2="1170.9" stroke="#00b843" stroke-width="2.8" />
<line x1="1340" y1="1351.5" x2="1350.4" y2="1351.5" stroke="#00b843" stroke-width="2.8" />
<line x1="1371.3" y1="1181.2" x2="1371.3" y2="1289.2" stroke="#00b843" stroke-width="5.0" />
<line x1="1366.1" y1="1181.2" x2="1376.5" y2="1181.2" stroke="#00b843" stroke-width="2.8" />
<line x1="1366.1" y1="1289.2" x2="1376.5" y2="1289.2" stroke="#00b843" stroke-width="2.8" />
<line x1="1397.4" y1="1257.8" x2="1397.4" y2="1376.3" stroke="#00b843" stroke-width="5.0" />
<line x1="1392.2" y1="1257.8" x2="1402.6" y2="1257.8" stroke="#00b843" stroke-width="2.8" />
<line x1="1392.2" y1="1376.3" x2="1402.6" y2="1376.3" stroke="#00b843" stroke-width="2.8" />
<line x1="1423.4" y1="1114.5" x2="1423.4" y2="1238.7" stroke="#00b843" stroke-width="5.0" />
<line x1="1418.2" y1="1114.5" x2="1428.6" y2="1114.5" stroke="#00b843" stroke-width="2.8" />
<line x1="1418.2" y1="1238.7" x2="1428.6" y2="1238.7" stroke="#00b843" stroke-width="2.8" />
<line x1="1449.5" y1="1177.8" x2="1449.5" y2="1279.7" stroke="#00b843" stroke-width="5.0" />
<line x1="1444.3" y1="1177.8" x2="1454.7" y2="1177.8" stroke="#00b843" stroke-width="2.8" />
<line x1="1444.3" y1="1279.7" x2="1454.7" y2="1279.7" stroke="#00b843" stroke-width="2.8" />
<line x1="1501.7" y1="1212.5" x2="1501.7" y2="1288.4" stroke="#00b843" stroke-width="5.0" />
<line x1="1496.5" y1="1212.5" x2="1506.9" y2="1212.5" stroke="#00b843" stroke-width="2.8" />
<line x1="1496.5" y1="1288.4" x2="1506.9" y2="1288.4" stroke="#00b843" stroke-width="2.8" />
<line x1="1553.8" y1="1239.6" x2="1553.8" y2="1321.6" stroke="#00b843" stroke-width="5.0" />
<line x1="1548.6" y1="1239.6" x2="1559" y2="1239.6" stroke="#00b843" stroke-width="2.8" />
<line x1="1548.6" y1="1321.6" x2="1559" y2="1321.6" stroke="#00b843" stroke-width="2.8" />
<line x1="1579.9" y1="1172.9" x2="1579.9" y2="1266.9" stroke="#00b843" stroke-width="5.0" />
<line x1="1574.7" y1="1172.9" x2="1585.1" y2="1172.9" stroke="#00b843" stroke-width="2.8" />
<line x1="1574.7" y1="1266.9" x2="1585.1" y2="1266.9" stroke="#00b843" stroke-width="2.8" />
<line x1="1606" y1="1148" x2="1606" y2="1252.6" stroke="#00b843" stroke-width="5.0" />
<line x1="1600.8" y1="1148" x2="1611.2" y2="1148" stroke="#00b843" stroke-width="2.8" />
<line x1="1600.8" y1="1252.6" x2="1611.2" y2="1252.6" stroke="#00b843" stroke-width="2.8" />
<line x1="1632.1" y1="1205" x2="1632.1" y2="1255.2" stroke="#00b843" stroke-width="5.0" />
<line x1="1626.9" y1="1205" x2="1637.3" y2="1205" stroke="#00b843" stroke-width="2.8" />
<line x1="1626.9" y1="1255.2" x2="1637.3" y2="1255.2" stroke="#00b843" stroke-width="2.8" />
<line x1="1684.2" y1="1239.6" x2="1684.2" y2="1293.2" stroke="#00b843" stroke-width="5.0" />
<line x1="1679" y1="1239.6" x2="1689.4" y2="1239.6" stroke="#00b843" stroke-width="2.8" />
<line x1="1679" y1="1293.2" x2="1689.4" y2="1293.2" stroke="#00b843" stroke-width="2.8" />
<line x1="1736.4" y1="1168.2" x2="1736.4" y2="1232.4" stroke="#00b843" stroke-width="5.0" />
<line x1="1731.2" y1="1168.2" x2="1741.6" y2="1168.2" stroke="#00b843" stroke-width="2.8" />
<line x1="1731.2" y1="1232.4" x2="1741.6" y2="1232.4" stroke="#00b843" stroke-width="2.8" />
<line x1="1762.5" y1="1214.4" x2="1762.5" y2="1251.1" stroke="#00b843" stroke-width="5.0" />
<line x1="1757.3" y1="1214.4" x2="1767.7" y2="1214.4" stroke="#00b843" stroke-width="2.8" />
<line x1="1757.3" y1="1251.1" x2="1767.7" y2="1251.1" stroke="#00b843" stroke-width="2.8" />
<line x1="1788.6" y1="1268.8" x2="1788.6" y2="1278" stroke="#00b843" stroke-width="5.0" />
<line x1="1783.4" y1="1268.8" x2="1793.8" y2="1268.8" stroke="#00b843" stroke-width="2.8" />
<line x1="1783.4" y1="1278" x2="1793.8" y2="1278" stroke="#00b843" stroke-width="2.8" />
<path d="M197.7 1226.5 L200.3 1229.1 L197.7 1231.7 L195.1 1229.1Z" fill="#00ab18" stroke="#00ab18" stroke-width="12.2" stroke-linejoin="round"/>
<path d="M223.8 1301.4 L226.4 1304 L223.8 1306.6 L221.2 1304Z" fill="#00ab18" stroke="#00ab18" stroke-width="12.2" stroke-linejoin="round"/>
<path d="M249.8 1247.1 L252.4 1249.7 L249.8 1252.3 L247.2 1249.7Z" fill="#00ab18" stroke="#00ab18" stroke-width="12.2" stroke-linejoin="round"/>
<path d="M275.9 1228.8 L278.5 1231.4 L275.9 1234 L273.3 1231.4Z" fill="#00ab18" stroke="#00ab18" stroke-width="12.2" stroke-linejoin="round"/>
<path d="M302 995.4 L304.6 998 L302 1000.6 L299.4 998Z" fill="#00ab18" stroke="#00ab18" stroke-width="12.2" stroke-linejoin="round"/>
<path d="M328.1 1234.1 L330.7 1236.7 L328.1 1239.3 L325.5 1236.7Z" fill="#00ab18" stroke="#00ab18" stroke-width="12.2" stroke-linejoin="round"/>
<path d="M354.2 1295.3 L356.8 1297.9 L354.2 1300.5 L351.6 1297.9Z" fill="#00ab18" stroke="#00ab18" stroke-width="12.2" stroke-linejoin="round"/>
<path d="M380.2 1226.5 L382.8 1229.1 L380.2 1231.7 L377.6 1229.1Z" fill="#00ab18" stroke="#00ab18" stroke-width="12.2" stroke-linejoin="round"/>
<path d="M406.3 1329.7 L408.9 1332.3 L406.3 1334.9 L403.7 1332.3Z" fill="#00ab18" stroke="#00ab18" stroke-width="12.2" stroke-linejoin="round"/>
<path d="M432.4 1113.2 L435 1115.8 L432.4 1118.4 L429.8 1115.8Z" fill="#00ab18" stroke="#00ab18" stroke-width="12.2" stroke-linejoin="round"/>
<path d="M458.5 1347.3 L461.1 1349.9 L458.5 1352.5 L455.9 1349.9Z" fill="#00ab18" stroke="#00ab18" stroke-width="12.2" stroke-linejoin="round"/>
<path d="M484.6 1183.6 L487.2 1186.2 L484.6 1188.8 L482 1186.2Z" fill="#00ab18" stroke="#00ab18" stroke-width="12.2" stroke-linejoin="round"/>
<path d="M510.6 1181.3 L513.2 1183.9 L510.6 1186.5 L508 1183.9Z" fill="#00ab18" stroke="#00ab18" stroke-width="12.2" stroke-linejoin="round"/>
<path d="M536.7 1249.4 L539.3 1252 L536.7 1254.6 L534.1 1252Z" fill="#00ab18" stroke="#00ab18" stroke-width="12.2" stroke-linejoin="round"/>
<path d="M562.8 1323.6 L565.4 1326.2 L562.8 1328.8 L560.2 1326.2Z" fill="#00ab18" stroke="#00ab18" stroke-width="12.2" stroke-linejoin="round"/>
<path d="M615 1218.8 L617.6 1221.4 L615 1224 L612.4 1221.4Z" fill="#00ab18" stroke="#00ab18" stroke-width="12.2" stroke-linejoin="round"/>
<path d="M641 1261.7 L643.6 1264.3 L641 1266.9 L638.4 1264.3Z" fill="#00ab18" stroke="#00ab18" stroke-width="12.2" stroke-linejoin="round"/>
<path d="M667.1 1231.1 L669.7 1233.7 L667.1 1236.3 L664.5 1233.7Z" fill="#00ab18" stroke="#00ab18" stroke-width="12.2" stroke-linejoin="round"/>
<path d="M719.3 1224.2 L721.9 1226.8 L719.3 1229.4 L716.7 1226.8Z" fill="#00ab18" stroke="#00ab18" stroke-width="12.2" stroke-linejoin="round"/>
<path d="M745.4 1213.5 L748 1216.1 L745.4 1218.7 L742.8 1216.1Z" fill="#00ab18" stroke="#00ab18" stroke-width="12.2" stroke-linejoin="round"/>
<path d="M771.4 1307.6 L774 1310.2 L771.4 1312.8 L768.8 1310.2Z" fill="#00ab18" stroke="#00ab18" stroke-width="12.2" stroke-linejoin="round"/>
<path d="M797.5 1457.5 L800.1 1460.1 L797.5 1462.7 L794.9 1460.1Z" fill="#00ab18" stroke="#00ab18" stroke-width="12.2" stroke-linejoin="round"/>
<path d="M823.6 1258.6 L826.2 1261.2 L823.6 1263.8 L821 1261.2Z" fill="#00ab18" stroke="#00ab18" stroke-width="12.2" stroke-linejoin="round"/>
<path d="M849.7 1367.2 L852.3 1369.8 L849.7 1372.4 L847.1 1369.8Z" fill="#00ab18" stroke="#00ab18" stroke-width="12.2" stroke-linejoin="round"/>
<path d="M875.8 1185.9 L878.4 1188.5 L875.8 1191.1 L873.2 1188.5Z" fill="#00ab18" stroke="#00ab18" stroke-width="12.2" stroke-linejoin="round"/>
<path d="M901.8 1302.2 L904.4 1304.8 L901.8 1307.4 L899.2 1304.8Z" fill="#00ab18" stroke="#00ab18" stroke-width="12.2" stroke-linejoin="round"/>
<path d="M927.9 1239.5 L930.5 1242.1 L927.9 1244.7 L925.3 1242.1Z" fill="#00ab18" stroke="#00ab18" stroke-width="12.2" stroke-linejoin="round"/>
<path d="M954 1208.9 L956.6 1211.5 L954 1214.1 L951.4 1211.5Z" fill="#00ab18" stroke="#00ab18" stroke-width="12.2" stroke-linejoin="round"/>
<path d="M980.1 1192 L982.7 1194.6 L980.1 1197.2 L977.5 1194.6Z" fill="#00ab18" stroke="#00ab18" stroke-width="12.2" stroke-linejoin="round"/>
<path d="M1006.2 1208.9 L1008.8 1211.5 L1006.2 1214.1 L1003.6 1211.5Z" fill="#00ab18" stroke="#00ab18" stroke-width="12.2" stroke-linejoin="round"/>
<path d="M1032.2 1134.7 L1034.8 1137.3 L1032.2 1139.9 L1029.6 1137.3Z" fill="#00ab18" stroke="#00ab18" stroke-width="12.2" stroke-linejoin="round"/>
<path d="M1058.3 1307.6 L1060.9 1310.2 L1058.3 1312.8 L1055.7 1310.2Z" fill="#00ab18" stroke="#00ab18" stroke-width="12.2" stroke-linejoin="round"/>
<path d="M1110.5 1277 L1113.1 1279.6 L1110.5 1282.2 L1107.9 1279.6Z" fill="#00ab18" stroke="#00ab18" stroke-width="12.2" stroke-linejoin="round"/>
<path d="M1136.6 1251.7 L1139.2 1254.3 L1136.6 1256.9 L1134 1254.3Z" fill="#00ab18" stroke="#00ab18" stroke-width="12.2" stroke-linejoin="round"/>
<path d="M1162.6 1246.4 L1165.2 1249 L1162.6 1251.6 L1160 1249Z" fill="#00ab18" stroke="#00ab18" stroke-width="12.2" stroke-linejoin="round"/>
<path d="M1188.7 1286.1 L1191.3 1288.7 L1188.7 1291.3 L1186.1 1288.7Z" fill="#00ab18" stroke="#00ab18" stroke-width="12.2" stroke-linejoin="round"/>
<path d="M1267 1137.7 L1269.6 1140.3 L1267 1142.9 L1264.4 1140.3Z" fill="#00ab18" stroke="#00ab18" stroke-width="12.2" stroke-linejoin="round"/>
<path d="M1293 1352.7 L1295.6 1355.3 L1293 1357.9 L1290.4 1355.3Z" fill="#00ab18" stroke="#00ab18" stroke-width="12.2" stroke-linejoin="round"/>
<path d="M1319.1 1229.5 L1321.7 1232.1 L1319.1 1234.7 L1316.5 1232.1Z" fill="#00ab18" stroke="#00ab18" stroke-width="12.2" stroke-linejoin="round"/>
<path d="M1345.2 1258.6 L1347.8 1261.2 L1345.2 1263.8 L1342.6 1261.2Z" fill="#00ab18" stroke="#00ab18" stroke-width="12.2" stroke-linejoin="round"/>
<path d="M1371.3 1232.6 L1373.9 1235.2 L1371.3 1237.8 L1368.7 1235.2Z" fill="#00ab18" stroke="#00ab18" stroke-width="12.2" stroke-linejoin="round"/>
<path d="M1397.4 1314.4 L1400 1317 L1397.4 1319.6 L1394.8 1317Z" fill="#00ab18" stroke="#00ab18" stroke-width="12.2" stroke-linejoin="round"/>
<path d="M1423.4 1174 L1426 1176.6 L1423.4 1179.2 L1420.8 1176.6Z" fill="#00ab18" stroke="#00ab18" stroke-width="12.2" stroke-linejoin="round"/>
<path d="M1449.5 1226.2 L1452.1 1228.8 L1449.5 1231.4 L1446.9 1228.8Z" fill="#00ab18" stroke="#00ab18" stroke-width="12.2" stroke-linejoin="round"/>
<path d="M1501.7 1247.9 L1504.3 1250.5 L1501.7 1253.1 L1499.1 1250.5Z" fill="#00ab18" stroke="#00ab18" stroke-width="12.2" stroke-linejoin="round"/>
<path d="M1553.8 1278 L1556.4 1280.6 L1553.8 1283.2 L1551.2 1280.6Z" fill="#00ab18" stroke="#00ab18" stroke-width="12.2" stroke-linejoin="round"/>
<path d="M1579.9 1217.3 L1582.5 1219.9 L1579.9 1222.5 L1577.3 1219.9Z" fill="#00ab18" stroke="#00ab18" stroke-width="12.2" stroke-linejoin="round"/>
<path d="M1606 1197.7 L1608.6 1200.3 L1606 1202.9 L1603.4 1200.3Z" fill="#00ab18" stroke="#00ab18" stroke-width="12.2" stroke-linejoin="round"/>
<path d="M1632.1 1227.5 L1634.7 1230.1 L1632.1 1232.7 L1629.5 1230.1Z" fill="#00ab18" stroke="#00ab18" stroke-width="12.2" stroke-linejoin="round"/>
<path d="M1684.2 1263.8 L1686.8 1266.4 L1684.2 1269 L1681.6 1266.4Z" fill="#00ab18" stroke="#00ab18" stroke-width="12.2" stroke-linejoin="round"/>
<path d="M1736.4 1197.7 L1739 1200.3 L1736.4 1202.9 L1733.8 1200.3Z" fill="#00ab18" stroke="#00ab18" stroke-width="12.2" stroke-linejoin="round"/>
<path d="M1762.5 1230.1 L1765.1 1232.7 L1762.5 1235.3 L1759.9 1232.7Z" fill="#00ab18" stroke="#00ab18" stroke-width="12.2" stroke-linejoin="round"/>
<path d="M1788.6 1270.8 L1791.2 1273.4 L1788.6 1276 L1786 1273.4Z" fill="#00ab18" stroke="#00ab18" stroke-width="12.2" stroke-linejoin="round"/>
</g>
<line x1="171.6" y1="1613" x2="171.6" y2="1622" stroke="#454545" stroke-width="2.6" />
<g fill="#151515"><text transform="translate(157.01 1662.6) scale(1.045 1.000)" font-size="43.5" font-weight="normal" font-style="normal" xml:space="preserve">1</text></g>
<line x1="197.7" y1="1613" x2="197.7" y2="1618" stroke="#454545" stroke-width="2.2" />
<line x1="223.8" y1="1613" x2="223.8" y2="1618" stroke="#454545" stroke-width="2.2" />
<line x1="249.8" y1="1613" x2="249.8" y2="1618" stroke="#454545" stroke-width="2.2" />
<line x1="275.9" y1="1613" x2="275.9" y2="1618" stroke="#454545" stroke-width="2.2" />
<line x1="302" y1="1613" x2="302" y2="1622" stroke="#454545" stroke-width="2.6" />
<g fill="#151515"><text transform="translate(287.7 1662.6) scale(1.045 1.000)" font-size="43.5" font-weight="normal" font-style="normal" xml:space="preserve">6</text></g>
<line x1="328.1" y1="1613" x2="328.1" y2="1618" stroke="#454545" stroke-width="2.2" />
<line x1="354.2" y1="1613" x2="354.2" y2="1618" stroke="#454545" stroke-width="2.2" />
<line x1="380.2" y1="1613" x2="380.2" y2="1618" stroke="#454545" stroke-width="2.2" />
<line x1="406.3" y1="1613" x2="406.3" y2="1618" stroke="#454545" stroke-width="2.2" />
<line x1="432.4" y1="1613" x2="432.4" y2="1622" stroke="#454545" stroke-width="2.6" />
<g fill="#151515"><text transform="translate(403.32 1662.6) scale(1.045 1.000)" font-size="43.5" font-weight="normal" font-style="normal" xml:space="preserve">11</text></g>
<line x1="458.5" y1="1613" x2="458.5" y2="1618" stroke="#454545" stroke-width="2.2" />
<line x1="484.6" y1="1613" x2="484.6" y2="1618" stroke="#454545" stroke-width="2.2" />
<line x1="510.6" y1="1613" x2="510.6" y2="1618" stroke="#454545" stroke-width="2.2" />
<line x1="536.7" y1="1613" x2="536.7" y2="1618" stroke="#454545" stroke-width="2.2" />
<line x1="562.8" y1="1613" x2="562.8" y2="1622" stroke="#454545" stroke-width="2.6" />
<g fill="#151515"><text transform="translate(533.1 1662.6) scale(1.045 1.000)" font-size="43.5" font-weight="normal" font-style="normal" xml:space="preserve">16</text></g>
<line x1="588.9" y1="1613" x2="588.9" y2="1618" stroke="#454545" stroke-width="2.2" />
<line x1="615" y1="1613" x2="615" y2="1618" stroke="#454545" stroke-width="2.2" />
<line x1="641" y1="1613" x2="641" y2="1618" stroke="#454545" stroke-width="2.2" />
<line x1="667.1" y1="1613" x2="667.1" y2="1618" stroke="#454545" stroke-width="2.2" />
<line x1="693.2" y1="1613" x2="693.2" y2="1622" stroke="#454545" stroke-width="2.6" />
<g fill="#151515"><text transform="translate(664.98 1662.6) scale(1.045 1.000)" font-size="43.5" font-weight="normal" font-style="normal" xml:space="preserve">21</text></g>
<line x1="719.3" y1="1613" x2="719.3" y2="1618" stroke="#454545" stroke-width="2.2" />
<line x1="745.4" y1="1613" x2="745.4" y2="1618" stroke="#454545" stroke-width="2.2" />
<line x1="771.4" y1="1613" x2="771.4" y2="1618" stroke="#454545" stroke-width="2.2" />
<line x1="797.5" y1="1613" x2="797.5" y2="1618" stroke="#454545" stroke-width="2.2" />
<line x1="823.6" y1="1613" x2="823.6" y2="1622" stroke="#454545" stroke-width="2.6" />
<g fill="#151515"><text transform="translate(794.75 1662.6) scale(1.045 1.000)" font-size="43.5" font-weight="normal" font-style="normal" xml:space="preserve">26</text></g>
<line x1="849.7" y1="1613" x2="849.7" y2="1618" stroke="#454545" stroke-width="2.2" />
<line x1="875.8" y1="1613" x2="875.8" y2="1618" stroke="#454545" stroke-width="2.2" />
<line x1="901.8" y1="1613" x2="901.8" y2="1618" stroke="#454545" stroke-width="2.2" />
<line x1="927.9" y1="1613" x2="927.9" y2="1618" stroke="#454545" stroke-width="2.2" />
<line x1="954" y1="1613" x2="954" y2="1622" stroke="#454545" stroke-width="2.6" />
<g fill="#151515"><text transform="translate(925.72 1662.6) scale(1.045 1.000)" font-size="43.5" font-weight="normal" font-style="normal" xml:space="preserve">31</text></g>
<line x1="980.1" y1="1613" x2="980.1" y2="1618" stroke="#454545" stroke-width="2.2" />
<line x1="1006.2" y1="1613" x2="1006.2" y2="1618" stroke="#454545" stroke-width="2.2" />
<line x1="1032.2" y1="1613" x2="1032.2" y2="1618" stroke="#454545" stroke-width="2.2" />
<line x1="1058.3" y1="1613" x2="1058.3" y2="1618" stroke="#454545" stroke-width="2.2" />
<line x1="1084.4" y1="1613" x2="1084.4" y2="1622" stroke="#454545" stroke-width="2.6" />
<g fill="#151515"><text transform="translate(1055.49 1662.6) scale(1.045 1.000)" font-size="43.5" font-weight="normal" font-style="normal" xml:space="preserve">36</text></g>
<line x1="1110.5" y1="1613" x2="1110.5" y2="1618" stroke="#454545" stroke-width="2.2" />
<line x1="1136.6" y1="1613" x2="1136.6" y2="1618" stroke="#454545" stroke-width="2.2" />
<line x1="1162.6" y1="1613" x2="1162.6" y2="1618" stroke="#454545" stroke-width="2.2" />
<line x1="1188.7" y1="1613" x2="1188.7" y2="1618" stroke="#454545" stroke-width="2.2" />
<line x1="1214.8" y1="1613" x2="1214.8" y2="1622" stroke="#454545" stroke-width="2.6" />
<g fill="#151515"><text transform="translate(1187.14 1662.6) scale(1.045 1.000)" font-size="43.5" font-weight="normal" font-style="normal" xml:space="preserve">41</text></g>
<line x1="1240.9" y1="1613" x2="1240.9" y2="1618" stroke="#454545" stroke-width="2.2" />
<line x1="1267" y1="1613" x2="1267" y2="1618" stroke="#454545" stroke-width="2.2" />
<line x1="1293" y1="1613" x2="1293" y2="1618" stroke="#454545" stroke-width="2.2" />
<line x1="1319.1" y1="1613" x2="1319.1" y2="1618" stroke="#454545" stroke-width="2.2" />
<line x1="1345.2" y1="1613" x2="1345.2" y2="1622" stroke="#454545" stroke-width="2.6" />
<g fill="#151515"><text transform="translate(1316.92 1662.6) scale(1.045 1.000)" font-size="43.5" font-weight="normal" font-style="normal" xml:space="preserve">46</text></g>
<line x1="1371.3" y1="1613" x2="1371.3" y2="1618" stroke="#454545" stroke-width="2.2" />
<line x1="1397.4" y1="1613" x2="1397.4" y2="1618" stroke="#454545" stroke-width="2.2" />
<line x1="1423.4" y1="1613" x2="1423.4" y2="1618" stroke="#454545" stroke-width="2.2" />
<line x1="1449.5" y1="1613" x2="1449.5" y2="1618" stroke="#454545" stroke-width="2.2" />
<line x1="1475.6" y1="1613" x2="1475.6" y2="1622" stroke="#454545" stroke-width="2.6" />
<g fill="#151515"><text transform="translate(1447.26 1662.6) scale(1.045 1.000)" font-size="43.5" font-weight="normal" font-style="normal" xml:space="preserve">51</text></g>
<line x1="1501.7" y1="1613" x2="1501.7" y2="1618" stroke="#454545" stroke-width="2.2" />
<line x1="1527.8" y1="1613" x2="1527.8" y2="1618" stroke="#454545" stroke-width="2.2" />
<line x1="1553.8" y1="1613" x2="1553.8" y2="1618" stroke="#454545" stroke-width="2.2" />
<line x1="1579.9" y1="1613" x2="1579.9" y2="1618" stroke="#454545" stroke-width="2.2" />
<line x1="1606" y1="1613" x2="1606" y2="1622" stroke="#454545" stroke-width="2.6" />
<g fill="#151515"><text transform="translate(1577.04 1662.6) scale(1.045 1.000)" font-size="43.5" font-weight="normal" font-style="normal" xml:space="preserve">56</text></g>
<line x1="1632.1" y1="1613" x2="1632.1" y2="1618" stroke="#454545" stroke-width="2.2" />
<line x1="1658.2" y1="1613" x2="1658.2" y2="1618" stroke="#454545" stroke-width="2.2" />
<line x1="1684.2" y1="1613" x2="1684.2" y2="1618" stroke="#454545" stroke-width="2.2" />
<line x1="1710.3" y1="1613" x2="1710.3" y2="1618" stroke="#454545" stroke-width="2.2" />
<line x1="1736.4" y1="1613" x2="1736.4" y2="1622" stroke="#454545" stroke-width="2.6" />
<g fill="#151515"><text transform="translate(1708.23 1662.6) scale(1.045 1.000)" font-size="43.5" font-weight="normal" font-style="normal" xml:space="preserve">61</text></g>
<line x1="1762.5" y1="1613" x2="1762.5" y2="1618" stroke="#454545" stroke-width="2.2" />
<line x1="1788.6" y1="1613" x2="1788.6" y2="1618" stroke="#454545" stroke-width="2.2" />
<line x1="162.6" y1="1536.6" x2="171.6" y2="1536.6" stroke="#454545" stroke-width="2.6" />
<g fill="#151515"><text transform="translate(88.59 1552.7) scale(1.030 1.000)" font-size="43.5" font-weight="normal" font-style="normal" xml:space="preserve">−2</text></g>
<line x1="162.6" y1="1383.6" x2="171.6" y2="1383.6" stroke="#454545" stroke-width="2.6" />
<g fill="#151515"><text transform="translate(88.26 1399.7) scale(1.030 1.000)" font-size="43.5" font-weight="normal" font-style="normal" xml:space="preserve">−1</text></g>
<line x1="162.6" y1="1230.6" x2="171.6" y2="1230.6" stroke="#454545" stroke-width="2.6" />
<g fill="#151515"><text transform="translate(124.66 1246.7) scale(1.030 1.000)" font-size="43.5" font-weight="normal" font-style="normal" xml:space="preserve">0</text></g>
<line x1="162.6" y1="1077.6" x2="171.6" y2="1077.6" stroke="#454545" stroke-width="2.6" />
<g fill="#151515"><text transform="translate(125.78 1093.7) scale(1.030 1.000)" font-size="43.5" font-weight="normal" font-style="normal" xml:space="preserve">1</text></g>
<line x1="162.6" y1="924.6" x2="171.6" y2="924.6" stroke="#454545" stroke-width="2.6" />
<g fill="#151515"><text transform="translate(126.12 940.7) scale(1.030 1.000)" font-size="43.5" font-weight="normal" font-style="normal" xml:space="preserve">2</text></g>
<rect x="171.6" y="848.0" width="1642.4" height="765.0" fill="none" stroke="#5a5a5a" stroke-width="3.4"/>
<g fill="#000"><text transform="translate(763.77 1715.3) scale(1.053 1.000)" font-size="46.5" font-weight="bold" font-style="normal" xml:space="preserve">Residue Number</text></g>
<g fill="#000" transform="translate(64.7,1382) rotate(-90)"><text transform="translate(1.1 0) scale(0.813 1.000)" font-size="49" font-weight="normal" font-style="normal" xml:space="preserve">Δ</text><text transform="translate(33.34 0) scale(0.958 1.000)" font-size="45.8" font-weight="bold" font-style="italic" xml:space="preserve">δ</text><text transform="translate(67.68 0) scale(0.845 1.000)" font-size="48" font-weight="bold" font-style="italic" xml:space="preserve">C</text><text transform="translate(98.2 8.3) scale(0.894 1.000)" font-size="32.8" font-weight="bold" font-style="italic" xml:space="preserve">α</text><text transform="translate(131.13 0) scale(1.071 1.000)" font-size="46" font-weight="normal" font-style="normal" xml:space="preserve">−</text><text transform="translate(182.29 0) scale(0.841 1.000)" font-size="49" font-weight="normal" font-style="normal" xml:space="preserve">Δ</text><text transform="translate(214.55 0) scale(0.941 1.000)" font-size="45.8" font-weight="bold" font-style="italic" xml:space="preserve">δ</text><text transform="translate(247.83 0) scale(0.876 1.000)" font-size="48" font-weight="bold" font-style="italic" xml:space="preserve">C</text><text transform="translate(280.79 8.3) scale(0.874 1.000)" font-size="32.8" font-weight="bold" font-style="italic" xml:space="preserve">β</text></g>
<g fill="#000"><text transform="translate(205.35 911.7) scale(1.094 1.000)" font-size="61.4" font-weight="bold" font-style="normal" xml:space="preserve">c</text></g>
<line x1="1039.7" y1="909.7" x2="1141.7" y2="909.7" stroke="#0a0a0a" stroke-width="4.3" />
<ellipse cx="1090.5" cy="909.7" rx="8.5" ry="8.4" fill="#000"/>
<line x1="1039.7" y1="978.8" x2="1141.7" y2="978.8" stroke="#00b843" stroke-width="5.1" />
<line x1="1090.5" y1="954.5" x2="1090.5" y2="1003.5" stroke="#00b843" stroke-width="5.0" />
<line x1="1084.5" y1="955" x2="1096.5" y2="955" stroke="#00b843" stroke-width="2.6" />
<line x1="1084.5" y1="1003" x2="1096.5" y2="1003" stroke="#00b843" stroke-width="2.6" />
<path d="M1090.5 976.2 L1093.1 978.8 L1090.5 981.4 L1087.9 978.8Z" fill="#00ab18" stroke="#00ab18" stroke-width="12.2" stroke-linejoin="round"/>
<g fill="#000"><text transform="translate(1177.96 926) scale(1.045 1.000)" font-size="47" font-weight="bold" font-style="normal" xml:space="preserve">Experimental</text></g>
<g fill="#000"><text transform="translate(1179.2 996.2) scale(1.041 1.000)" font-size="47" font-weight="bold" font-style="normal" xml:space="preserve">36µs</text><text transform="translate(1323.86 996.2) scale(0.980 1.000)" font-size="47" font-weight="bold" font-style="normal" xml:space="preserve">−</text><text transform="translate(1373.84 996.2) scale(1.043 1.000)" font-size="47" font-weight="bold" font-style="normal" xml:space="preserve">(RMSE</text><text transform="translate(1563.22 996.2) scale(0.960 1.000)" font-size="47" font-weight="bold" font-style="normal" xml:space="preserve">:</text><text transform="translate(1592.48 996.2) scale(1.040 1.000)" font-size="47" font-weight="bold" font-style="normal" xml:space="preserve">0.458)</text></g>
</g>
</g>
</svg>
</body></html>
